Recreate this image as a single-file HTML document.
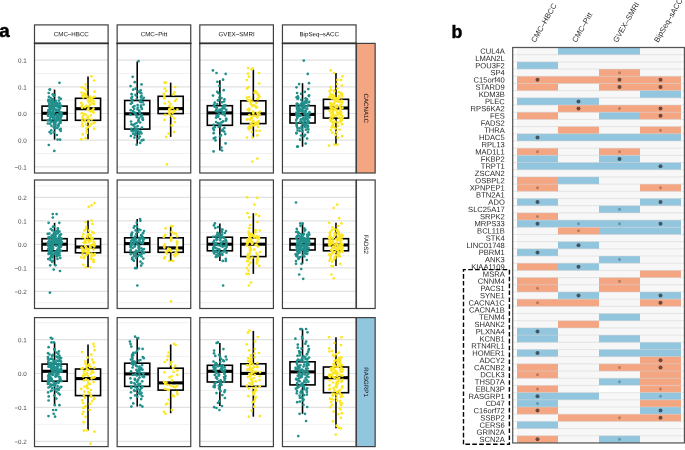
<!DOCTYPE html>
<html><head><meta charset="utf-8"><title>figure</title>
<style>
html,body{margin:0;padding:0;background:#fff;}
body{width:685px;height:450px;overflow:hidden;font-family:"Liberation Sans", sans-serif;}
svg{display:block;font-family:"Liberation Sans", sans-serif;will-change:transform;}
</style></head><body>
<svg width="685" height="450" viewBox="0 0 685 450">
<rect width="685" height="450" fill="#fff"/>
<rect x="512.7" y="47.5" width="171.69999999999993" height="395.45000000000005" fill="#fff"/>
<rect x="517.0" y="47.5" width="164.0" height="395.45000000000005" fill="#F7F7F7"/>
<rect x="558.00" y="47.50" width="82.00" height="7.24" fill="#92C5DE"/>
<rect x="517.00" y="61.88" width="41.00" height="7.24" fill="#92C5DE"/>
<rect x="599.00" y="69.07" width="41.00" height="7.24" fill="#F4A582"/>
<rect x="517.00" y="76.26" width="164.00" height="7.24" fill="#F4A582"/>
<rect x="517.00" y="83.45" width="41.00" height="7.24" fill="#F4A582"/>
<rect x="599.00" y="83.45" width="82.00" height="7.24" fill="#F4A582"/>
<rect x="640.00" y="90.64" width="41.00" height="7.24" fill="#92C5DE"/>
<rect x="517.00" y="97.83" width="82.00" height="7.24" fill="#92C5DE"/>
<rect x="558.00" y="105.02" width="123.00" height="7.24" fill="#F4A582"/>
<rect x="517.00" y="112.21" width="41.00" height="7.24" fill="#F4A582"/>
<rect x="599.00" y="112.21" width="41.00" height="7.24" fill="#92C5DE"/>
<rect x="640.00" y="112.21" width="41.00" height="7.24" fill="#F4A582"/>
<rect x="558.00" y="126.59" width="41.00" height="7.24" fill="#F4A582"/>
<rect x="640.00" y="126.59" width="41.00" height="7.24" fill="#F4A582"/>
<rect x="517.00" y="133.78" width="164.00" height="7.24" fill="#92C5DE"/>
<rect x="517.00" y="148.16" width="41.00" height="7.24" fill="#F4A582"/>
<rect x="599.00" y="148.16" width="41.00" height="7.24" fill="#F4A582"/>
<rect x="517.00" y="155.35" width="41.00" height="7.24" fill="#92C5DE"/>
<rect x="599.00" y="155.35" width="41.00" height="7.24" fill="#92C5DE"/>
<rect x="517.00" y="162.54" width="164.00" height="7.24" fill="#92C5DE"/>
<rect x="517.00" y="176.92" width="41.00" height="7.24" fill="#F4A582"/>
<rect x="558.00" y="176.92" width="41.00" height="7.24" fill="#92C5DE"/>
<rect x="517.00" y="184.11" width="41.00" height="7.24" fill="#F4A582"/>
<rect x="640.00" y="184.11" width="41.00" height="7.24" fill="#F4A582"/>
<rect x="517.00" y="198.49" width="41.00" height="7.24" fill="#92C5DE"/>
<rect x="640.00" y="198.49" width="41.00" height="7.24" fill="#92C5DE"/>
<rect x="599.00" y="205.68" width="41.00" height="7.24" fill="#92C5DE"/>
<rect x="517.00" y="212.87" width="41.00" height="7.24" fill="#F4A582"/>
<rect x="517.00" y="220.06" width="164.00" height="7.24" fill="#92C5DE"/>
<rect x="558.00" y="227.25" width="41.00" height="7.24" fill="#F4A582"/>
<rect x="599.00" y="227.25" width="82.00" height="7.24" fill="#92C5DE"/>
<rect x="558.00" y="241.63" width="41.00" height="7.24" fill="#92C5DE"/>
<rect x="517.00" y="248.82" width="41.00" height="7.24" fill="#92C5DE"/>
<rect x="599.00" y="256.01" width="41.00" height="7.24" fill="#92C5DE"/>
<rect x="517.00" y="263.20" width="41.00" height="7.24" fill="#F4A582"/>
<rect x="558.00" y="263.20" width="41.00" height="7.24" fill="#92C5DE"/>
<rect x="640.00" y="270.39" width="41.00" height="7.24" fill="#F4A582"/>
<rect x="517.00" y="277.58" width="41.00" height="7.24" fill="#F4A582"/>
<rect x="599.00" y="277.58" width="41.00" height="7.24" fill="#F4A582"/>
<rect x="517.00" y="284.77" width="41.00" height="7.24" fill="#F4A582"/>
<rect x="599.00" y="284.77" width="41.00" height="7.24" fill="#F4A582"/>
<rect x="558.00" y="291.96" width="41.00" height="7.24" fill="#92C5DE"/>
<rect x="640.00" y="291.96" width="41.00" height="7.24" fill="#92C5DE"/>
<rect x="517.00" y="299.15" width="82.00" height="7.24" fill="#F4A582"/>
<rect x="640.00" y="299.15" width="41.00" height="7.24" fill="#F4A582"/>
<rect x="599.00" y="313.53" width="41.00" height="7.24" fill="#92C5DE"/>
<rect x="558.00" y="320.72" width="41.00" height="7.24" fill="#F4A582"/>
<rect x="517.00" y="327.91" width="41.00" height="7.24" fill="#92C5DE"/>
<rect x="517.00" y="335.10" width="41.00" height="7.24" fill="#92C5DE"/>
<rect x="599.00" y="335.10" width="41.00" height="7.24" fill="#92C5DE"/>
<rect x="640.00" y="342.29" width="41.00" height="7.24" fill="#92C5DE"/>
<rect x="517.00" y="349.48" width="41.00" height="7.24" fill="#92C5DE"/>
<rect x="599.00" y="349.48" width="82.00" height="7.24" fill="#92C5DE"/>
<rect x="640.00" y="356.67" width="41.00" height="7.24" fill="#F4A582"/>
<rect x="517.00" y="363.86" width="41.00" height="7.24" fill="#F4A582"/>
<rect x="599.00" y="363.86" width="82.00" height="7.24" fill="#F4A582"/>
<rect x="517.00" y="371.05" width="41.00" height="7.24" fill="#F4A582"/>
<rect x="640.00" y="371.05" width="41.00" height="7.24" fill="#F4A582"/>
<rect x="599.00" y="378.24" width="41.00" height="7.24" fill="#92C5DE"/>
<rect x="640.00" y="378.24" width="41.00" height="7.24" fill="#F4A582"/>
<rect x="517.00" y="385.43" width="41.00" height="7.24" fill="#F4A582"/>
<rect x="599.00" y="385.43" width="41.00" height="7.24" fill="#FFFFFF"/>
<rect x="640.00" y="385.43" width="41.00" height="7.24" fill="#F4A582"/>
<rect x="517.00" y="392.62" width="82.00" height="7.24" fill="#92C5DE"/>
<rect x="640.00" y="392.62" width="41.00" height="7.24" fill="#92C5DE"/>
<rect x="517.00" y="399.81" width="41.00" height="7.24" fill="#92C5DE"/>
<rect x="640.00" y="399.81" width="41.00" height="7.24" fill="#F4A582"/>
<rect x="517.00" y="407.00" width="41.00" height="7.24" fill="#F4A582"/>
<rect x="640.00" y="407.00" width="41.00" height="7.24" fill="#92C5DE"/>
<rect x="558.00" y="414.19" width="123.00" height="7.24" fill="#F4A582"/>
<rect x="517.00" y="421.38" width="41.00" height="7.24" fill="#92C5DE"/>
<rect x="517.00" y="435.76" width="41.00" height="7.24" fill="#F4A582"/>
<rect x="599.00" y="435.76" width="41.00" height="7.24" fill="#92C5DE"/>
<line x1="512.7" x2="684.4" y1="54.69" y2="54.69" stroke="#d0d0d0" stroke-width="0.5"/>
<line x1="512.7" x2="684.4" y1="61.88" y2="61.88" stroke="#d0d0d0" stroke-width="0.5"/>
<line x1="512.7" x2="684.4" y1="69.07" y2="69.07" stroke="#d0d0d0" stroke-width="0.5"/>
<line x1="512.7" x2="684.4" y1="76.26" y2="76.26" stroke="#d0d0d0" stroke-width="0.5"/>
<line x1="512.7" x2="684.4" y1="83.45" y2="83.45" stroke="#d0d0d0" stroke-width="0.5"/>
<line x1="512.7" x2="684.4" y1="90.64" y2="90.64" stroke="#d0d0d0" stroke-width="0.5"/>
<line x1="512.7" x2="684.4" y1="97.83" y2="97.83" stroke="#d0d0d0" stroke-width="0.5"/>
<line x1="512.7" x2="684.4" y1="105.02" y2="105.02" stroke="#d0d0d0" stroke-width="0.5"/>
<line x1="512.7" x2="684.4" y1="112.21" y2="112.21" stroke="#d0d0d0" stroke-width="0.5"/>
<line x1="512.7" x2="684.4" y1="119.40" y2="119.40" stroke="#d0d0d0" stroke-width="0.5"/>
<line x1="512.7" x2="684.4" y1="126.59" y2="126.59" stroke="#d0d0d0" stroke-width="0.5"/>
<line x1="512.7" x2="684.4" y1="133.78" y2="133.78" stroke="#d0d0d0" stroke-width="0.5"/>
<line x1="512.7" x2="684.4" y1="140.97" y2="140.97" stroke="#d0d0d0" stroke-width="0.5"/>
<line x1="512.7" x2="684.4" y1="148.16" y2="148.16" stroke="#d0d0d0" stroke-width="0.5"/>
<line x1="512.7" x2="684.4" y1="155.35" y2="155.35" stroke="#d0d0d0" stroke-width="0.5"/>
<line x1="512.7" x2="684.4" y1="162.54" y2="162.54" stroke="#d0d0d0" stroke-width="0.5"/>
<line x1="512.7" x2="684.4" y1="169.73" y2="169.73" stroke="#d0d0d0" stroke-width="0.5"/>
<line x1="512.7" x2="684.4" y1="176.92" y2="176.92" stroke="#d0d0d0" stroke-width="0.5"/>
<line x1="512.7" x2="684.4" y1="184.11" y2="184.11" stroke="#d0d0d0" stroke-width="0.5"/>
<line x1="512.7" x2="684.4" y1="191.30" y2="191.30" stroke="#d0d0d0" stroke-width="0.5"/>
<line x1="512.7" x2="684.4" y1="198.49" y2="198.49" stroke="#d0d0d0" stroke-width="0.5"/>
<line x1="512.7" x2="684.4" y1="205.68" y2="205.68" stroke="#d0d0d0" stroke-width="0.5"/>
<line x1="512.7" x2="684.4" y1="212.87" y2="212.87" stroke="#d0d0d0" stroke-width="0.5"/>
<line x1="512.7" x2="684.4" y1="220.06" y2="220.06" stroke="#d0d0d0" stroke-width="0.5"/>
<line x1="512.7" x2="684.4" y1="227.25" y2="227.25" stroke="#d0d0d0" stroke-width="0.5"/>
<line x1="512.7" x2="684.4" y1="234.44" y2="234.44" stroke="#d0d0d0" stroke-width="0.5"/>
<line x1="512.7" x2="684.4" y1="241.63" y2="241.63" stroke="#d0d0d0" stroke-width="0.5"/>
<line x1="512.7" x2="684.4" y1="248.82" y2="248.82" stroke="#d0d0d0" stroke-width="0.5"/>
<line x1="512.7" x2="684.4" y1="256.01" y2="256.01" stroke="#d0d0d0" stroke-width="0.5"/>
<line x1="512.7" x2="684.4" y1="263.20" y2="263.20" stroke="#d0d0d0" stroke-width="0.5"/>
<line x1="512.7" x2="684.4" y1="270.39" y2="270.39" stroke="#d0d0d0" stroke-width="0.5"/>
<line x1="512.7" x2="684.4" y1="277.58" y2="277.58" stroke="#d0d0d0" stroke-width="0.5"/>
<line x1="512.7" x2="684.4" y1="284.77" y2="284.77" stroke="#d0d0d0" stroke-width="0.5"/>
<line x1="512.7" x2="684.4" y1="291.96" y2="291.96" stroke="#d0d0d0" stroke-width="0.5"/>
<line x1="512.7" x2="684.4" y1="299.15" y2="299.15" stroke="#d0d0d0" stroke-width="0.5"/>
<line x1="512.7" x2="684.4" y1="306.34" y2="306.34" stroke="#d0d0d0" stroke-width="0.5"/>
<line x1="512.7" x2="684.4" y1="313.53" y2="313.53" stroke="#d0d0d0" stroke-width="0.5"/>
<line x1="512.7" x2="684.4" y1="320.72" y2="320.72" stroke="#d0d0d0" stroke-width="0.5"/>
<line x1="512.7" x2="684.4" y1="327.91" y2="327.91" stroke="#d0d0d0" stroke-width="0.5"/>
<line x1="512.7" x2="684.4" y1="335.10" y2="335.10" stroke="#d0d0d0" stroke-width="0.5"/>
<line x1="512.7" x2="684.4" y1="342.29" y2="342.29" stroke="#d0d0d0" stroke-width="0.5"/>
<line x1="512.7" x2="684.4" y1="349.48" y2="349.48" stroke="#d0d0d0" stroke-width="0.5"/>
<line x1="512.7" x2="684.4" y1="356.67" y2="356.67" stroke="#d0d0d0" stroke-width="0.5"/>
<line x1="512.7" x2="684.4" y1="363.86" y2="363.86" stroke="#d0d0d0" stroke-width="0.5"/>
<line x1="512.7" x2="684.4" y1="371.05" y2="371.05" stroke="#d0d0d0" stroke-width="0.5"/>
<line x1="512.7" x2="684.4" y1="378.24" y2="378.24" stroke="#d0d0d0" stroke-width="0.5"/>
<line x1="512.7" x2="684.4" y1="385.43" y2="385.43" stroke="#d0d0d0" stroke-width="0.5"/>
<line x1="512.7" x2="684.4" y1="392.62" y2="392.62" stroke="#d0d0d0" stroke-width="0.5"/>
<line x1="512.7" x2="684.4" y1="399.81" y2="399.81" stroke="#d0d0d0" stroke-width="0.5"/>
<line x1="512.7" x2="684.4" y1="407.00" y2="407.00" stroke="#d0d0d0" stroke-width="0.5"/>
<line x1="512.7" x2="684.4" y1="414.19" y2="414.19" stroke="#d0d0d0" stroke-width="0.5"/>
<line x1="512.7" x2="684.4" y1="421.38" y2="421.38" stroke="#d0d0d0" stroke-width="0.5"/>
<line x1="512.7" x2="684.4" y1="428.57" y2="428.57" stroke="#d0d0d0" stroke-width="0.5"/>
<line x1="512.7" x2="684.4" y1="435.76" y2="435.76" stroke="#d0d0d0" stroke-width="0.5"/>
<circle cx="619.50" cy="72.67" r="1.5" fill="#000" fill-opacity="0.25"/>
<circle cx="537.50" cy="79.86" r="2.0" fill="#000" fill-opacity="0.56"/>
<circle cx="619.50" cy="79.86" r="2.0" fill="#000" fill-opacity="0.56"/>
<circle cx="660.50" cy="79.86" r="2.0" fill="#000" fill-opacity="0.56"/>
<circle cx="619.50" cy="87.05" r="2.0" fill="#000" fill-opacity="0.56"/>
<circle cx="660.50" cy="87.05" r="2.0" fill="#000" fill-opacity="0.56"/>
<circle cx="578.50" cy="101.43" r="2.0" fill="#000" fill-opacity="0.56"/>
<circle cx="578.50" cy="108.62" r="2.0" fill="#000" fill-opacity="0.56"/>
<circle cx="619.50" cy="108.62" r="1.5" fill="#000" fill-opacity="0.25"/>
<circle cx="660.50" cy="108.62" r="2.0" fill="#000" fill-opacity="0.56"/>
<circle cx="660.50" cy="115.81" r="2.0" fill="#000" fill-opacity="0.56"/>
<circle cx="660.50" cy="130.19" r="1.5" fill="#000" fill-opacity="0.25"/>
<circle cx="537.50" cy="137.38" r="2.0" fill="#000" fill-opacity="0.56"/>
<circle cx="537.50" cy="151.75" r="1.5" fill="#000" fill-opacity="0.25"/>
<circle cx="619.50" cy="151.75" r="1.5" fill="#000" fill-opacity="0.25"/>
<circle cx="619.50" cy="158.94" r="2.0" fill="#000" fill-opacity="0.56"/>
<circle cx="660.50" cy="166.13" r="2.0" fill="#000" fill-opacity="0.56"/>
<circle cx="537.50" cy="187.71" r="1.5" fill="#000" fill-opacity="0.25"/>
<circle cx="660.50" cy="187.71" r="1.5" fill="#000" fill-opacity="0.25"/>
<circle cx="537.50" cy="202.09" r="2.0" fill="#000" fill-opacity="0.56"/>
<circle cx="660.50" cy="202.09" r="2.0" fill="#000" fill-opacity="0.56"/>
<circle cx="619.50" cy="209.28" r="1.5" fill="#000" fill-opacity="0.25"/>
<circle cx="537.50" cy="216.47" r="1.5" fill="#000" fill-opacity="0.25"/>
<circle cx="537.50" cy="223.66" r="2.0" fill="#000" fill-opacity="0.56"/>
<circle cx="578.50" cy="223.66" r="1.5" fill="#000" fill-opacity="0.25"/>
<circle cx="619.50" cy="223.66" r="1.5" fill="#000" fill-opacity="0.25"/>
<circle cx="660.50" cy="223.66" r="2.0" fill="#000" fill-opacity="0.56"/>
<circle cx="578.50" cy="230.84" r="1.5" fill="#000" fill-opacity="0.25"/>
<circle cx="578.50" cy="245.23" r="2.0" fill="#000" fill-opacity="0.56"/>
<circle cx="537.50" cy="252.42" r="2.0" fill="#000" fill-opacity="0.56"/>
<circle cx="619.50" cy="259.61" r="1.5" fill="#000" fill-opacity="0.25"/>
<circle cx="578.50" cy="266.80" r="2.0" fill="#000" fill-opacity="0.56"/>
<circle cx="619.50" cy="281.18" r="1.5" fill="#000" fill-opacity="0.25"/>
<circle cx="537.50" cy="288.37" r="1.5" fill="#000" fill-opacity="0.25"/>
<circle cx="578.50" cy="295.56" r="2.0" fill="#000" fill-opacity="0.56"/>
<circle cx="660.50" cy="295.56" r="2.0" fill="#000" fill-opacity="0.56"/>
<circle cx="537.50" cy="302.75" r="1.5" fill="#000" fill-opacity="0.25"/>
<circle cx="660.50" cy="302.75" r="2.0" fill="#000" fill-opacity="0.56"/>
<circle cx="537.50" cy="331.50" r="2.0" fill="#000" fill-opacity="0.56"/>
<circle cx="537.50" cy="353.07" r="2.0" fill="#000" fill-opacity="0.56"/>
<circle cx="660.50" cy="360.27" r="2.0" fill="#000" fill-opacity="0.56"/>
<circle cx="619.50" cy="367.46" r="1.5" fill="#000" fill-opacity="0.25"/>
<circle cx="660.50" cy="367.46" r="2.0" fill="#000" fill-opacity="0.56"/>
<circle cx="537.50" cy="374.65" r="1.5" fill="#000" fill-opacity="0.25"/>
<circle cx="619.50" cy="381.84" r="1.5" fill="#000" fill-opacity="0.25"/>
<circle cx="537.50" cy="389.03" r="1.5" fill="#000" fill-opacity="0.25"/>
<circle cx="660.50" cy="389.03" r="1.5" fill="#000" fill-opacity="0.25"/>
<circle cx="537.50" cy="396.22" r="2.0" fill="#000" fill-opacity="0.56"/>
<circle cx="660.50" cy="396.22" r="1.5" fill="#000" fill-opacity="0.25"/>
<circle cx="537.50" cy="403.41" r="1.5" fill="#000" fill-opacity="0.25"/>
<circle cx="537.50" cy="410.60" r="2.0" fill="#000" fill-opacity="0.56"/>
<circle cx="660.50" cy="410.60" r="2.0" fill="#000" fill-opacity="0.56"/>
<circle cx="619.50" cy="417.79" r="1.5" fill="#000" fill-opacity="0.25"/>
<circle cx="660.50" cy="417.79" r="2.0" fill="#000" fill-opacity="0.56"/>
<circle cx="537.50" cy="439.36" r="2.0" fill="#000" fill-opacity="0.56"/>
<circle cx="619.50" cy="439.36" r="1.5" fill="#000" fill-opacity="0.25"/>
<rect x="512.7" y="47.5" width="171.69999999999993" height="395.45000000000005" fill="none" stroke="#555" stroke-width="1.25"/>
<text transform="translate(504.8,53.80) rotate(0.03)" font-size="7.6" text-anchor="end" fill="#2a2a2a">CUL4A</text>
<text transform="translate(504.8,60.98) rotate(0.03)" font-size="7.6" text-anchor="end" fill="#2a2a2a">LMAN2L</text>
<text transform="translate(504.8,68.17) rotate(0.03)" font-size="7.6" text-anchor="end" fill="#2a2a2a">POU3F2</text>
<text transform="translate(504.8,75.37) rotate(0.03)" font-size="7.6" text-anchor="end" fill="#2a2a2a">SP4</text>
<text transform="translate(504.8,82.56) rotate(0.03)" font-size="7.6" text-anchor="end" fill="#2a2a2a">C15orf40</text>
<text transform="translate(504.8,89.75) rotate(0.03)" font-size="7.6" text-anchor="end" fill="#2a2a2a">STARD9</text>
<text transform="translate(504.8,96.94) rotate(0.03)" font-size="7.6" text-anchor="end" fill="#2a2a2a">KDM3B</text>
<text transform="translate(504.8,104.13) rotate(0.03)" font-size="7.6" text-anchor="end" fill="#2a2a2a">PLEC</text>
<text transform="translate(504.8,111.32) rotate(0.03)" font-size="7.6" text-anchor="end" fill="#2a2a2a">RPS6KA2</text>
<text transform="translate(504.8,118.51) rotate(0.03)" font-size="7.6" text-anchor="end" fill="#2a2a2a">FES</text>
<text transform="translate(504.8,125.70) rotate(0.03)" font-size="7.6" text-anchor="end" fill="#2a2a2a">FADS2</text>
<text transform="translate(504.8,132.88) rotate(0.03)" font-size="7.6" text-anchor="end" fill="#2a2a2a">THRA</text>
<text transform="translate(504.8,140.07) rotate(0.03)" font-size="7.6" text-anchor="end" fill="#2a2a2a">HDAC5</text>
<text transform="translate(504.8,147.26) rotate(0.03)" font-size="7.6" text-anchor="end" fill="#2a2a2a">RPL13</text>
<text transform="translate(504.8,154.45) rotate(0.03)" font-size="7.6" text-anchor="end" fill="#2a2a2a">MAD1L1</text>
<text transform="translate(504.8,161.64) rotate(0.03)" font-size="7.6" text-anchor="end" fill="#2a2a2a">FKBP2</text>
<text transform="translate(504.8,168.83) rotate(0.03)" font-size="7.6" text-anchor="end" fill="#2a2a2a">TRPT1</text>
<text transform="translate(504.8,176.02) rotate(0.03)" font-size="7.6" text-anchor="end" fill="#2a2a2a">ZSCAN2</text>
<text transform="translate(504.8,183.22) rotate(0.03)" font-size="7.6" text-anchor="end" fill="#2a2a2a">OSBPL2</text>
<text transform="translate(504.8,190.41) rotate(0.03)" font-size="7.6" text-anchor="end" fill="#2a2a2a">XPNPEP1</text>
<text transform="translate(504.8,197.59) rotate(0.03)" font-size="7.6" text-anchor="end" fill="#2a2a2a">BTN2A1</text>
<text transform="translate(504.8,204.78) rotate(0.03)" font-size="7.6" text-anchor="end" fill="#2a2a2a">ADO</text>
<text transform="translate(504.8,211.97) rotate(0.03)" font-size="7.6" text-anchor="end" fill="#2a2a2a">SLC25A17</text>
<text transform="translate(504.8,219.16) rotate(0.03)" font-size="7.6" text-anchor="end" fill="#2a2a2a">SRPK2</text>
<text transform="translate(504.8,226.35) rotate(0.03)" font-size="7.6" text-anchor="end" fill="#2a2a2a">MRPS33</text>
<text transform="translate(504.8,233.54) rotate(0.03)" font-size="7.6" text-anchor="end" fill="#2a2a2a">BCL11B</text>
<text transform="translate(504.8,240.73) rotate(0.03)" font-size="7.6" text-anchor="end" fill="#2a2a2a">STK4</text>
<text transform="translate(504.8,247.93) rotate(0.03)" font-size="7.6" text-anchor="end" fill="#2a2a2a">LINC01748</text>
<text transform="translate(504.8,255.12) rotate(0.03)" font-size="7.6" text-anchor="end" fill="#2a2a2a">PBRM1</text>
<text transform="translate(504.8,262.31) rotate(0.03)" font-size="7.6" text-anchor="end" fill="#2a2a2a">ANK3</text>
<text transform="translate(504.8,269.50) rotate(0.03)" font-size="7.6" text-anchor="end" fill="#2a2a2a">KIAA1109</text>
<text transform="translate(504.8,276.69) rotate(0.03)" font-size="7.6" text-anchor="end" fill="#2a2a2a">MSRA</text>
<text transform="translate(504.8,283.88) rotate(0.03)" font-size="7.6" text-anchor="end" fill="#2a2a2a">CNNM4</text>
<text transform="translate(504.8,291.06) rotate(0.03)" font-size="7.6" text-anchor="end" fill="#2a2a2a">PACS1</text>
<text transform="translate(504.8,298.25) rotate(0.03)" font-size="7.6" text-anchor="end" fill="#2a2a2a">SYNE1</text>
<text transform="translate(504.8,305.44) rotate(0.03)" font-size="7.6" text-anchor="end" fill="#2a2a2a">CACNA1C</text>
<text transform="translate(504.8,312.63) rotate(0.03)" font-size="7.6" text-anchor="end" fill="#2a2a2a">CACNA1B</text>
<text transform="translate(504.8,319.82) rotate(0.03)" font-size="7.6" text-anchor="end" fill="#2a2a2a">TENM4</text>
<text transform="translate(504.8,327.01) rotate(0.03)" font-size="7.6" text-anchor="end" fill="#2a2a2a">SHANK2</text>
<text transform="translate(504.8,334.20) rotate(0.03)" font-size="7.6" text-anchor="end" fill="#2a2a2a">PLXNA4</text>
<text transform="translate(504.8,341.39) rotate(0.03)" font-size="7.6" text-anchor="end" fill="#2a2a2a">KCNB1</text>
<text transform="translate(504.8,348.58) rotate(0.03)" font-size="7.6" text-anchor="end" fill="#2a2a2a">RTN4RL1</text>
<text transform="translate(504.8,355.77) rotate(0.03)" font-size="7.6" text-anchor="end" fill="#2a2a2a">HOMER1</text>
<text transform="translate(504.8,362.97) rotate(0.03)" font-size="7.6" text-anchor="end" fill="#2a2a2a">ADCY2</text>
<text transform="translate(504.8,370.16) rotate(0.03)" font-size="7.6" text-anchor="end" fill="#2a2a2a">CACNB2</text>
<text transform="translate(504.8,377.35) rotate(0.03)" font-size="7.6" text-anchor="end" fill="#2a2a2a">DCLK3</text>
<text transform="translate(504.8,384.54) rotate(0.03)" font-size="7.6" text-anchor="end" fill="#2a2a2a">THSD7A</text>
<text transform="translate(504.8,391.73) rotate(0.03)" font-size="7.6" text-anchor="end" fill="#2a2a2a">EBLN3P</text>
<text transform="translate(504.8,398.92) rotate(0.03)" font-size="7.6" text-anchor="end" fill="#2a2a2a">RASGRP1</text>
<text transform="translate(504.8,406.11) rotate(0.03)" font-size="7.6" text-anchor="end" fill="#2a2a2a">CD47</text>
<text transform="translate(504.8,413.30) rotate(0.03)" font-size="7.6" text-anchor="end" fill="#2a2a2a">C16orf72</text>
<text transform="translate(504.8,420.49) rotate(0.03)" font-size="7.6" text-anchor="end" fill="#2a2a2a">SSBP2</text>
<text transform="translate(504.8,427.68) rotate(0.03)" font-size="7.6" text-anchor="end" fill="#2a2a2a">CERS6</text>
<text transform="translate(504.8,434.87) rotate(0.03)" font-size="7.6" text-anchor="end" fill="#2a2a2a">GRIN2A</text>
<text transform="translate(504.8,442.06) rotate(0.03)" font-size="7.6" text-anchor="end" fill="#2a2a2a">SCN2A</text>
<text transform="translate(535.20,43.0) rotate(-60)" font-size="7.7" fill="#2a2a2a">CMC–HBCC</text>
<text transform="translate(576.20,43.0) rotate(-60)" font-size="7.7" fill="#2a2a2a">CMC–Pitt</text>
<text transform="translate(617.20,43.0) rotate(-60)" font-size="7.7" fill="#2a2a2a">GVEX–SMRI</text>
<text transform="translate(658.20,43.0) rotate(-60)" font-size="7.7" fill="#2a2a2a">BipSeq–sACC</text>
<path d="M463.5,444.3 L463.5,269.6 L509.4,269.6 L509.4,444.3 Z" fill="none" stroke="#000" stroke-width="1.4" stroke-dasharray="4.6,2.3"/>
<text transform="translate(451.5,38) scale(0.935,1)" font-size="19" font-weight="bold" fill="#000" stroke="#000" stroke-width="0.45">b</text>
<text x="-0.7" y="37.45" font-size="18.8" font-weight="bold" fill="#000" stroke="#000" stroke-width="0.45">a</text>
<rect x="34.50" y="43.40" width="73.60" height="129.60" fill="#fff"/>
<line x1="34.50" x2="108.10" y1="46.88" y2="46.88" stroke="#ebebeb" stroke-width="0.7"/>
<line x1="34.50" x2="108.10" y1="73.53" y2="73.53" stroke="#ebebeb" stroke-width="0.7"/>
<line x1="34.50" x2="108.10" y1="100.17" y2="100.17" stroke="#ebebeb" stroke-width="0.7"/>
<line x1="34.50" x2="108.10" y1="126.82" y2="126.82" stroke="#ebebeb" stroke-width="0.7"/>
<line x1="34.50" x2="108.10" y1="153.47" y2="153.47" stroke="#ebebeb" stroke-width="0.7"/>
<line x1="34.50" x2="108.10" y1="60.20" y2="60.20" stroke="#e1e1e1" stroke-width="1.2"/>
<line x1="34.50" x2="108.10" y1="86.85" y2="86.85" stroke="#e1e1e1" stroke-width="1.2"/>
<line x1="34.50" x2="108.10" y1="113.50" y2="113.50" stroke="#e1e1e1" stroke-width="1.2"/>
<line x1="34.50" x2="108.10" y1="140.15" y2="140.15" stroke="#e1e1e1" stroke-width="1.2"/>
<line x1="34.50" x2="108.10" y1="166.80" y2="166.80" stroke="#e1e1e1" stroke-width="1.2"/>
<line x1="54.57" x2="54.57" y1="89.60" y2="106.10" stroke="#000" stroke-width="1.6"/>
<line x1="54.57" x2="54.57" y1="120.30" y2="139.60" stroke="#000" stroke-width="1.6"/>
<rect x="42.03" y="106.10" width="25.09" height="14.20" fill="#fff" stroke="#000" stroke-width="1.6"/>
<line x1="42.03" x2="67.12" y1="113.30" y2="113.30" stroke="#000" stroke-width="3.1"/>
<line x1="88.03" x2="88.03" y1="76.50" y2="98.30" stroke="#000" stroke-width="1.6"/>
<line x1="88.03" x2="88.03" y1="120.30" y2="139.30" stroke="#000" stroke-width="1.6"/>
<rect x="75.48" y="98.30" width="25.09" height="22.00" fill="#fff" stroke="#000" stroke-width="1.6"/>
<line x1="75.48" x2="100.57" y1="108.70" y2="108.70" stroke="#000" stroke-width="3.1"/>
<circle cx="61.4" cy="112.7" r="1.35" fill="#21908C"/>
<circle cx="49.3" cy="103.9" r="1.35" fill="#21908C"/>
<circle cx="51.3" cy="109.2" r="1.35" fill="#21908C"/>
<circle cx="48.0" cy="113.9" r="1.35" fill="#21908C"/>
<circle cx="48.6" cy="111.0" r="1.35" fill="#21908C"/>
<circle cx="59.8" cy="129.6" r="1.35" fill="#21908C"/>
<circle cx="56.9" cy="135.0" r="1.35" fill="#21908C"/>
<circle cx="50.2" cy="123.7" r="1.35" fill="#21908C"/>
<circle cx="49.8" cy="108.7" r="1.35" fill="#21908C"/>
<circle cx="59.5" cy="82.8" r="1.35" fill="#21908C"/>
<circle cx="54.0" cy="106.4" r="1.35" fill="#21908C"/>
<circle cx="48.8" cy="145.0" r="1.35" fill="#21908C"/>
<circle cx="57.3" cy="103.0" r="1.35" fill="#21908C"/>
<circle cx="49.8" cy="89.6" r="1.35" fill="#21908C"/>
<circle cx="47.9" cy="123.5" r="1.35" fill="#21908C"/>
<circle cx="60.1" cy="139.6" r="1.35" fill="#21908C"/>
<circle cx="52.7" cy="116.8" r="1.35" fill="#21908C"/>
<circle cx="51.5" cy="115.9" r="1.35" fill="#21908C"/>
<circle cx="60.2" cy="122.7" r="1.35" fill="#21908C"/>
<circle cx="58.7" cy="123.9" r="1.35" fill="#21908C"/>
<circle cx="50.8" cy="116.9" r="1.35" fill="#21908C"/>
<circle cx="50.8" cy="114.9" r="1.35" fill="#21908C"/>
<circle cx="58.2" cy="126.6" r="1.35" fill="#21908C"/>
<circle cx="57.2" cy="109.8" r="1.35" fill="#21908C"/>
<circle cx="59.6" cy="108.1" r="1.35" fill="#21908C"/>
<circle cx="57.9" cy="115.5" r="1.35" fill="#21908C"/>
<circle cx="53.9" cy="107.5" r="1.35" fill="#21908C"/>
<circle cx="56.9" cy="106.3" r="1.35" fill="#21908C"/>
<circle cx="54.3" cy="112.8" r="1.35" fill="#21908C"/>
<circle cx="58.1" cy="104.0" r="1.35" fill="#21908C"/>
<circle cx="53.4" cy="108.2" r="1.35" fill="#21908C"/>
<circle cx="55.9" cy="105.1" r="1.35" fill="#21908C"/>
<circle cx="54.4" cy="104.2" r="1.35" fill="#21908C"/>
<circle cx="59.1" cy="97.6" r="1.35" fill="#21908C"/>
<circle cx="51.0" cy="133.5" r="1.35" fill="#21908C"/>
<circle cx="60.8" cy="113.5" r="1.35" fill="#21908C"/>
<circle cx="55.0" cy="123.2" r="1.35" fill="#21908C"/>
<circle cx="60.7" cy="130.9" r="1.35" fill="#21908C"/>
<circle cx="53.2" cy="110.7" r="1.35" fill="#21908C"/>
<circle cx="53.8" cy="116.5" r="1.35" fill="#21908C"/>
<circle cx="53.8" cy="127.2" r="1.35" fill="#21908C"/>
<circle cx="59.9" cy="107.8" r="1.35" fill="#21908C"/>
<circle cx="49.8" cy="89.6" r="1.35" fill="#21908C"/>
<circle cx="61.3" cy="115.2" r="1.35" fill="#21908C"/>
<circle cx="52.5" cy="112.3" r="1.35" fill="#21908C"/>
<circle cx="51.3" cy="113.2" r="1.35" fill="#21908C"/>
<circle cx="55.6" cy="103.1" r="1.35" fill="#21908C"/>
<circle cx="50.5" cy="101.8" r="1.35" fill="#21908C"/>
<circle cx="56.4" cy="110.8" r="1.35" fill="#21908C"/>
<circle cx="60.1" cy="117.3" r="1.35" fill="#21908C"/>
<circle cx="54.0" cy="105.2" r="1.35" fill="#21908C"/>
<circle cx="53.8" cy="132.3" r="1.35" fill="#21908C"/>
<circle cx="53.6" cy="102.2" r="1.35" fill="#21908C"/>
<circle cx="60.6" cy="120.9" r="1.35" fill="#21908C"/>
<circle cx="59.9" cy="108.4" r="1.35" fill="#21908C"/>
<circle cx="54.6" cy="127.5" r="1.35" fill="#21908C"/>
<circle cx="49.9" cy="113.4" r="1.35" fill="#21908C"/>
<circle cx="49.3" cy="106.7" r="1.35" fill="#21908C"/>
<circle cx="51.7" cy="121.5" r="1.35" fill="#21908C"/>
<circle cx="58.7" cy="110.6" r="1.35" fill="#21908C"/>
<circle cx="49.3" cy="100.2" r="1.35" fill="#21908C"/>
<circle cx="58.4" cy="114.8" r="1.35" fill="#21908C"/>
<circle cx="54.7" cy="95.0" r="1.35" fill="#21908C"/>
<circle cx="57.3" cy="114.3" r="1.35" fill="#21908C"/>
<circle cx="51.8" cy="102.7" r="1.35" fill="#21908C"/>
<circle cx="53.5" cy="121.9" r="1.35" fill="#21908C"/>
<circle cx="52.0" cy="104.9" r="1.35" fill="#21908C"/>
<circle cx="59.7" cy="111.9" r="1.35" fill="#21908C"/>
<circle cx="56.7" cy="120.2" r="1.35" fill="#21908C"/>
<circle cx="60.7" cy="119.0" r="1.35" fill="#21908C"/>
<circle cx="55.0" cy="128.4" r="1.35" fill="#21908C"/>
<circle cx="53.5" cy="109.3" r="1.35" fill="#21908C"/>
<circle cx="49.4" cy="112.5" r="1.35" fill="#21908C"/>
<circle cx="59.7" cy="107.4" r="1.35" fill="#21908C"/>
<circle cx="48.7" cy="93.0" r="1.35" fill="#21908C"/>
<circle cx="58.4" cy="110.4" r="1.35" fill="#21908C"/>
<circle cx="52.8" cy="101.4" r="1.35" fill="#21908C"/>
<circle cx="58.3" cy="114.5" r="1.35" fill="#21908C"/>
<circle cx="60.2" cy="122.1" r="1.35" fill="#21908C"/>
<circle cx="56.9" cy="104.4" r="1.35" fill="#21908C"/>
<circle cx="49.7" cy="113.7" r="1.35" fill="#21908C"/>
<circle cx="56.6" cy="120.8" r="1.35" fill="#21908C"/>
<circle cx="54.3" cy="118.3" r="1.35" fill="#21908C"/>
<circle cx="55.4" cy="125.4" r="1.35" fill="#21908C"/>
<circle cx="54.7" cy="126.3" r="1.35" fill="#21908C"/>
<circle cx="52.7" cy="94.4" r="1.35" fill="#21908C"/>
<circle cx="49.8" cy="119.4" r="1.35" fill="#21908C"/>
<circle cx="53.1" cy="99.2" r="1.35" fill="#21908C"/>
<circle cx="53.1" cy="118.9" r="1.35" fill="#21908C"/>
<circle cx="58.8" cy="119.7" r="1.35" fill="#21908C"/>
<circle cx="54.8" cy="115.6" r="1.35" fill="#21908C"/>
<circle cx="50.8" cy="98.0" r="1.35" fill="#21908C"/>
<circle cx="57.6" cy="139.6" r="1.35" fill="#21908C"/>
<circle cx="51.7" cy="100.1" r="1.35" fill="#21908C"/>
<circle cx="51.3" cy="130.4" r="1.35" fill="#21908C"/>
<circle cx="48.1" cy="115.8" r="1.35" fill="#21908C"/>
<circle cx="49.9" cy="111.2" r="1.35" fill="#21908C"/>
<circle cx="49.1" cy="113.0" r="1.35" fill="#21908C"/>
<circle cx="54.0" cy="122.4" r="1.35" fill="#21908C"/>
<circle cx="49.7" cy="112.2" r="1.35" fill="#21908C"/>
<circle cx="55.8" cy="102.4" r="1.35" fill="#21908C"/>
<circle cx="54.4" cy="108.9" r="1.35" fill="#21908C"/>
<circle cx="47.9" cy="120.4" r="1.35" fill="#21908C"/>
<circle cx="60.7" cy="128.9" r="1.35" fill="#21908C"/>
<circle cx="55.5" cy="109.5" r="1.35" fill="#21908C"/>
<circle cx="58.7" cy="118.6" r="1.35" fill="#21908C"/>
<circle cx="48.5" cy="101.6" r="1.35" fill="#21908C"/>
<circle cx="50.5" cy="117.1" r="1.35" fill="#21908C"/>
<circle cx="59.7" cy="121.1" r="1.35" fill="#21908C"/>
<circle cx="51.5" cy="125.8" r="1.35" fill="#21908C"/>
<circle cx="58.7" cy="117.7" r="1.35" fill="#21908C"/>
<circle cx="48.9" cy="96.8" r="1.35" fill="#21908C"/>
<circle cx="56.8" cy="105.6" r="1.35" fill="#21908C"/>
<circle cx="60.7" cy="105.5" r="1.35" fill="#21908C"/>
<circle cx="48.3" cy="99.8" r="1.35" fill="#21908C"/>
<circle cx="58.9" cy="100.6" r="1.35" fill="#21908C"/>
<circle cx="54.2" cy="124.2" r="1.35" fill="#21908C"/>
<circle cx="55.6" cy="104.7" r="1.35" fill="#21908C"/>
<circle cx="56.8" cy="117.8" r="1.35" fill="#21908C"/>
<circle cx="55.4" cy="124.6" r="1.35" fill="#21908C"/>
<circle cx="55.7" cy="100.9" r="1.35" fill="#21908C"/>
<circle cx="60.8" cy="98.8" r="1.35" fill="#21908C"/>
<circle cx="49.8" cy="111.5" r="1.35" fill="#21908C"/>
<circle cx="51.6" cy="106.2" r="1.35" fill="#21908C"/>
<circle cx="61.2" cy="114.1" r="1.35" fill="#21908C"/>
<circle cx="52.7" cy="111.7" r="1.35" fill="#21908C"/>
<circle cx="51.1" cy="107.1" r="1.35" fill="#21908C"/>
<circle cx="54.3" cy="117.6" r="1.35" fill="#21908C"/>
<circle cx="58.5" cy="125.2" r="1.35" fill="#21908C"/>
<circle cx="55.2" cy="120.3" r="1.35" fill="#21908C"/>
<circle cx="50.6" cy="121.4" r="1.35" fill="#21908C"/>
<circle cx="57.2" cy="127.9" r="1.35" fill="#21908C"/>
<circle cx="53.7" cy="96.0" r="1.35" fill="#21908C"/>
<circle cx="54.3" cy="150.9" r="1.35" fill="#21908C"/>
<circle cx="59.7" cy="103.4" r="1.35" fill="#21908C"/>
<circle cx="52.7" cy="114.4" r="1.35" fill="#21908C"/>
<circle cx="57.2" cy="116.2" r="1.35" fill="#21908C"/>
<circle cx="50.9" cy="108.7" r="1.35" fill="#21908C"/>
<circle cx="50.0" cy="119.3" r="1.35" fill="#21908C"/>
<circle cx="58.8" cy="115.4" r="1.35" fill="#21908C"/>
<circle cx="58.6" cy="118.4" r="1.35" fill="#21908C"/>
<circle cx="54.8" cy="124.8" r="1.35" fill="#21908C"/>
<circle cx="59.1" cy="119.8" r="1.35" fill="#21908C"/>
<circle cx="49.6" cy="132.0" r="1.35" fill="#21908C"/>
<circle cx="48.4" cy="110.2" r="1.35" fill="#21908C"/>
<circle cx="58.3" cy="106.9" r="1.35" fill="#21908C"/>
<circle cx="60.3" cy="122.9" r="1.35" fill="#21908C"/>
<circle cx="58.5" cy="118.1" r="1.35" fill="#21908C"/>
<circle cx="51.6" cy="103.7" r="1.35" fill="#21908C"/>
<circle cx="56.2" cy="109.9" r="1.35" fill="#21908C"/>
<circle cx="55.8" cy="121.7" r="1.35" fill="#21908C"/>
<circle cx="57.4" cy="105.7" r="1.35" fill="#21908C"/>
<circle cx="48.4" cy="111.4" r="1.35" fill="#21908C"/>
<circle cx="61.4" cy="106.0" r="1.35" fill="#21908C"/>
<circle cx="61.3" cy="116.6" r="1.35" fill="#21908C"/>
<circle cx="86.6" cy="96.3" r="1.35" fill="#FDE725"/>
<circle cx="90.7" cy="115.4" r="1.35" fill="#FDE725"/>
<circle cx="81.8" cy="87.3" r="1.35" fill="#FDE725"/>
<circle cx="81.6" cy="92.5" r="1.35" fill="#FDE725"/>
<circle cx="89.8" cy="125.7" r="1.35" fill="#FDE725"/>
<circle cx="91.7" cy="98.0" r="1.35" fill="#FDE725"/>
<circle cx="82.2" cy="123.8" r="1.35" fill="#FDE725"/>
<circle cx="86.3" cy="105.9" r="1.35" fill="#FDE725"/>
<circle cx="92.5" cy="99.4" r="1.35" fill="#FDE725"/>
<circle cx="90.8" cy="100.9" r="1.35" fill="#FDE725"/>
<circle cx="91.4" cy="123.9" r="1.35" fill="#FDE725"/>
<circle cx="86.7" cy="131.0" r="1.35" fill="#FDE725"/>
<circle cx="83.3" cy="97.5" r="1.35" fill="#FDE725"/>
<circle cx="91.6" cy="76.3" r="1.35" fill="#FDE725"/>
<circle cx="86.2" cy="90.1" r="1.35" fill="#FDE725"/>
<circle cx="82.1" cy="107.8" r="1.35" fill="#FDE725"/>
<circle cx="93.7" cy="101.6" r="1.35" fill="#FDE725"/>
<circle cx="81.8" cy="106.2" r="1.35" fill="#FDE725"/>
<circle cx="91.6" cy="110.7" r="1.35" fill="#FDE725"/>
<circle cx="85.0" cy="94.3" r="1.35" fill="#FDE725"/>
<circle cx="82.8" cy="134.4" r="1.35" fill="#FDE725"/>
<circle cx="85.7" cy="114.7" r="1.35" fill="#FDE725"/>
<circle cx="85.6" cy="138.2" r="1.35" fill="#FDE725"/>
<circle cx="81.3" cy="102.9" r="1.35" fill="#FDE725"/>
<circle cx="82.5" cy="117.7" r="1.35" fill="#FDE725"/>
<circle cx="91.7" cy="119.5" r="1.35" fill="#FDE725"/>
<circle cx="94.1" cy="80.5" r="1.35" fill="#FDE725"/>
<circle cx="88.1" cy="121.6" r="1.35" fill="#FDE725"/>
<circle cx="93.5" cy="108.7" r="1.35" fill="#FDE725"/>
<circle cx="93.7" cy="112.5" r="1.35" fill="#FDE725"/>
<circle cx="94.2" cy="128.9" r="1.35" fill="#FDE725"/>
<circle cx="83.1" cy="96.0" r="1.35" fill="#FDE725"/>
<circle cx="87.7" cy="109.8" r="1.35" fill="#FDE725"/>
<circle cx="90.1" cy="111.3" r="1.35" fill="#FDE725"/>
<circle cx="88.5" cy="106.5" r="1.35" fill="#FDE725"/>
<circle cx="93.8" cy="122.9" r="1.35" fill="#FDE725"/>
<circle cx="85.8" cy="84.5" r="1.35" fill="#FDE725"/>
<circle cx="89.9" cy="104.8" r="1.35" fill="#FDE725"/>
<circle cx="94.3" cy="104.1" r="1.35" fill="#FDE725"/>
<circle cx="86.1" cy="124.7" r="1.35" fill="#FDE725"/>
<circle cx="84.1" cy="93.6" r="1.35" fill="#FDE725"/>
<circle cx="94.3" cy="96.9" r="1.35" fill="#FDE725"/>
<circle cx="83.9" cy="114.1" r="1.35" fill="#FDE725"/>
<circle cx="86.6" cy="128.6" r="1.35" fill="#FDE725"/>
<circle cx="92.1" cy="103.5" r="1.35" fill="#FDE725"/>
<circle cx="94.8" cy="122.6" r="1.35" fill="#FDE725"/>
<circle cx="84.8" cy="88.7" r="1.35" fill="#FDE725"/>
<circle cx="88.7" cy="120.5" r="1.35" fill="#FDE725"/>
<circle cx="89.0" cy="102.3" r="1.35" fill="#FDE725"/>
<circle cx="89.8" cy="96.6" r="1.35" fill="#FDE725"/>
<circle cx="88.2" cy="100.4" r="1.35" fill="#FDE725"/>
<circle cx="81.3" cy="139.3" r="1.35" fill="#FDE725"/>
<circle cx="82.3" cy="104.6" r="1.35" fill="#FDE725"/>
<circle cx="82.7" cy="126.2" r="1.35" fill="#FDE725"/>
<circle cx="91.9" cy="97.8" r="1.35" fill="#FDE725"/>
<circle cx="86.9" cy="132.8" r="1.35" fill="#FDE725"/>
<circle cx="92.8" cy="112.1" r="1.35" fill="#FDE725"/>
<circle cx="89.7" cy="98.8" r="1.35" fill="#FDE725"/>
<circle cx="81.8" cy="113.2" r="1.35" fill="#FDE725"/>
<circle cx="82.3" cy="120.7" r="1.35" fill="#FDE725"/>
<circle cx="94.7" cy="91.7" r="1.35" fill="#FDE725"/>
<circle cx="88.0" cy="127.1" r="1.35" fill="#FDE725"/>
<circle cx="87.9" cy="98.5" r="1.35" fill="#FDE725"/>
<circle cx="85.8" cy="93.8" r="1.35" fill="#FDE725"/>
<circle cx="88.4" cy="108.8" r="1.35" fill="#FDE725"/>
<circle cx="85.1" cy="121.3" r="1.35" fill="#FDE725"/>
<circle cx="83.0" cy="116.1" r="1.35" fill="#FDE725"/>
<circle cx="82.4" cy="95.6" r="1.35" fill="#FDE725"/>
<circle cx="87.9" cy="117.9" r="1.35" fill="#FDE725"/>
<circle cx="85.1" cy="119.0" r="1.35" fill="#FDE725"/>
<circle cx="84.6" cy="95.1" r="1.35" fill="#FDE725"/>
<circle cx="87.8" cy="116.7" r="1.35" fill="#FDE725"/>
<circle cx="84.8" cy="107.2" r="1.35" fill="#FDE725"/>
<circle cx="92.8" cy="110.4" r="1.35" fill="#FDE725"/>
<rect x="34.50" y="43.40" width="73.60" height="129.60" fill="none" stroke="#404040" stroke-width="1.2"/>
<rect x="117.15" y="43.40" width="73.60" height="129.60" fill="#fff"/>
<line x1="117.15" x2="190.75" y1="46.88" y2="46.88" stroke="#ebebeb" stroke-width="0.7"/>
<line x1="117.15" x2="190.75" y1="73.53" y2="73.53" stroke="#ebebeb" stroke-width="0.7"/>
<line x1="117.15" x2="190.75" y1="100.17" y2="100.17" stroke="#ebebeb" stroke-width="0.7"/>
<line x1="117.15" x2="190.75" y1="126.82" y2="126.82" stroke="#ebebeb" stroke-width="0.7"/>
<line x1="117.15" x2="190.75" y1="153.47" y2="153.47" stroke="#ebebeb" stroke-width="0.7"/>
<line x1="117.15" x2="190.75" y1="60.20" y2="60.20" stroke="#e1e1e1" stroke-width="1.2"/>
<line x1="117.15" x2="190.75" y1="86.85" y2="86.85" stroke="#e1e1e1" stroke-width="1.2"/>
<line x1="117.15" x2="190.75" y1="113.50" y2="113.50" stroke="#e1e1e1" stroke-width="1.2"/>
<line x1="117.15" x2="190.75" y1="140.15" y2="140.15" stroke="#e1e1e1" stroke-width="1.2"/>
<line x1="117.15" x2="190.75" y1="166.80" y2="166.80" stroke="#e1e1e1" stroke-width="1.2"/>
<line x1="137.22" x2="137.22" y1="61.50" y2="100.50" stroke="#000" stroke-width="1.6"/>
<line x1="137.22" x2="137.22" y1="129.10" y2="144.70" stroke="#000" stroke-width="1.6"/>
<rect x="124.68" y="100.50" width="25.09" height="28.60" fill="#fff" stroke="#000" stroke-width="1.6"/>
<line x1="124.68" x2="149.77" y1="113.80" y2="113.80" stroke="#000" stroke-width="3.1"/>
<line x1="170.68" x2="170.68" y1="82.60" y2="96.30" stroke="#000" stroke-width="1.6"/>
<line x1="170.68" x2="170.68" y1="113.60" y2="136.90" stroke="#000" stroke-width="1.6"/>
<rect x="158.13" y="96.30" width="25.09" height="17.30" fill="#fff" stroke="#000" stroke-width="1.6"/>
<line x1="158.13" x2="183.22" y1="108.60" y2="108.60" stroke="#000" stroke-width="3.1"/>
<circle cx="142.0" cy="115.2" r="1.35" fill="#21908C"/>
<circle cx="139.0" cy="132.1" r="1.35" fill="#21908C"/>
<circle cx="131.5" cy="130.8" r="1.35" fill="#21908C"/>
<circle cx="132.4" cy="99.9" r="1.35" fill="#21908C"/>
<circle cx="134.2" cy="108.8" r="1.35" fill="#21908C"/>
<circle cx="134.9" cy="134.9" r="1.35" fill="#21908C"/>
<circle cx="130.6" cy="86.1" r="1.35" fill="#21908C"/>
<circle cx="133.0" cy="131.1" r="1.35" fill="#21908C"/>
<circle cx="133.0" cy="125.1" r="1.35" fill="#21908C"/>
<circle cx="132.7" cy="76.8" r="1.35" fill="#21908C"/>
<circle cx="139.9" cy="113.5" r="1.35" fill="#21908C"/>
<circle cx="138.5" cy="61.2" r="1.35" fill="#21908C"/>
<circle cx="139.8" cy="136.6" r="1.35" fill="#21908C"/>
<circle cx="134.6" cy="126.8" r="1.35" fill="#21908C"/>
<circle cx="131.8" cy="100.8" r="1.35" fill="#21908C"/>
<circle cx="142.7" cy="102.1" r="1.35" fill="#21908C"/>
<circle cx="137.6" cy="109.5" r="1.35" fill="#21908C"/>
<circle cx="141.2" cy="107.2" r="1.35" fill="#21908C"/>
<circle cx="130.8" cy="103.8" r="1.35" fill="#21908C"/>
<circle cx="137.2" cy="115.7" r="1.35" fill="#21908C"/>
<circle cx="136.7" cy="144.7" r="1.35" fill="#21908C"/>
<circle cx="141.5" cy="84.4" r="1.35" fill="#21908C"/>
<circle cx="140.5" cy="131.7" r="1.35" fill="#21908C"/>
<circle cx="140.2" cy="142.9" r="1.35" fill="#21908C"/>
<circle cx="138.1" cy="129.8" r="1.35" fill="#21908C"/>
<circle cx="141.2" cy="93.2" r="1.35" fill="#21908C"/>
<circle cx="134.7" cy="124.1" r="1.35" fill="#21908C"/>
<circle cx="142.7" cy="119.3" r="1.35" fill="#21908C"/>
<circle cx="133.0" cy="133.7" r="1.35" fill="#21908C"/>
<circle cx="138.5" cy="121.5" r="1.35" fill="#21908C"/>
<circle cx="136.5" cy="131.4" r="1.35" fill="#21908C"/>
<circle cx="142.6" cy="117.8" r="1.35" fill="#21908C"/>
<circle cx="136.3" cy="95.4" r="1.35" fill="#21908C"/>
<circle cx="133.5" cy="112.2" r="1.35" fill="#21908C"/>
<circle cx="136.5" cy="123.0" r="1.35" fill="#21908C"/>
<circle cx="134.4" cy="137.6" r="1.35" fill="#21908C"/>
<circle cx="130.9" cy="136.0" r="1.35" fill="#21908C"/>
<circle cx="141.9" cy="109.0" r="1.35" fill="#21908C"/>
<circle cx="131.3" cy="98.1" r="1.35" fill="#21908C"/>
<circle cx="135.5" cy="132.9" r="1.35" fill="#21908C"/>
<circle cx="143.1" cy="98.8" r="1.35" fill="#21908C"/>
<circle cx="138.2" cy="91.5" r="1.35" fill="#21908C"/>
<circle cx="137.7" cy="107.7" r="1.35" fill="#21908C"/>
<circle cx="140.9" cy="97.0" r="1.35" fill="#21908C"/>
<circle cx="135.4" cy="112.9" r="1.35" fill="#21908C"/>
<circle cx="138.7" cy="134.2" r="1.35" fill="#21908C"/>
<circle cx="137.6" cy="105.1" r="1.35" fill="#21908C"/>
<circle cx="138.5" cy="138.5" r="1.35" fill="#21908C"/>
<circle cx="136.1" cy="129.3" r="1.35" fill="#21908C"/>
<circle cx="132.1" cy="96.8" r="1.35" fill="#21908C"/>
<circle cx="135.6" cy="94.9" r="1.35" fill="#21908C"/>
<circle cx="143.6" cy="104.5" r="1.35" fill="#21908C"/>
<circle cx="135.3" cy="114.3" r="1.35" fill="#21908C"/>
<circle cx="135.6" cy="130.1" r="1.35" fill="#21908C"/>
<circle cx="132.1" cy="102.8" r="1.35" fill="#21908C"/>
<circle cx="136.4" cy="128.7" r="1.35" fill="#21908C"/>
<circle cx="141.6" cy="95.8" r="1.35" fill="#21908C"/>
<circle cx="133.2" cy="89.7" r="1.35" fill="#21908C"/>
<circle cx="139.3" cy="110.7" r="1.35" fill="#21908C"/>
<circle cx="143.4" cy="139.9" r="1.35" fill="#21908C"/>
<circle cx="131.4" cy="128.8" r="1.35" fill="#21908C"/>
<circle cx="140.7" cy="90.3" r="1.35" fill="#21908C"/>
<circle cx="131.1" cy="121.5" r="1.35" fill="#21908C"/>
<circle cx="142.9" cy="119.9" r="1.35" fill="#21908C"/>
<circle cx="134.6" cy="130.4" r="1.35" fill="#21908C"/>
<circle cx="141.4" cy="133.4" r="1.35" fill="#21908C"/>
<circle cx="131.4" cy="124.3" r="1.35" fill="#21908C"/>
<circle cx="135.6" cy="88.7" r="1.35" fill="#21908C"/>
<circle cx="139.8" cy="92.3" r="1.35" fill="#21908C"/>
<circle cx="138.9" cy="118.3" r="1.35" fill="#21908C"/>
<circle cx="134.5" cy="106.0" r="1.35" fill="#21908C"/>
<circle cx="141.1" cy="99.6" r="1.35" fill="#21908C"/>
<circle cx="136.7" cy="117.1" r="1.35" fill="#21908C"/>
<circle cx="141.0" cy="102.2" r="1.35" fill="#21908C"/>
<circle cx="141.9" cy="127.7" r="1.35" fill="#21908C"/>
<circle cx="131.6" cy="94.2" r="1.35" fill="#21908C"/>
<circle cx="130.4" cy="114.7" r="1.35" fill="#21908C"/>
<circle cx="140.1" cy="122.5" r="1.35" fill="#21908C"/>
<circle cx="133.0" cy="111.1" r="1.35" fill="#21908C"/>
<circle cx="139.3" cy="112.1" r="1.35" fill="#21908C"/>
<circle cx="140.9" cy="105.6" r="1.35" fill="#21908C"/>
<circle cx="139.0" cy="132.4" r="1.35" fill="#21908C"/>
<circle cx="136.8" cy="99.1" r="1.35" fill="#21908C"/>
<circle cx="130.7" cy="110.2" r="1.35" fill="#21908C"/>
<circle cx="134.7" cy="82.2" r="1.35" fill="#21908C"/>
<circle cx="140.0" cy="101.4" r="1.35" fill="#21908C"/>
<circle cx="141.7" cy="140.4" r="1.35" fill="#21908C"/>
<circle cx="143.7" cy="97.8" r="1.35" fill="#21908C"/>
<circle cx="137.6" cy="126.2" r="1.35" fill="#21908C"/>
<circle cx="138.5" cy="120.2" r="1.35" fill="#21908C"/>
<circle cx="133.0" cy="107.0" r="1.35" fill="#21908C"/>
<circle cx="140.9" cy="116.5" r="1.35" fill="#21908C"/>
<circle cx="164.9" cy="103.5" r="1.35" fill="#FDE725"/>
<circle cx="170.6" cy="104.0" r="1.35" fill="#FDE725"/>
<circle cx="165.3" cy="114.9" r="1.35" fill="#FDE725"/>
<circle cx="166.9" cy="164.4" r="1.35" fill="#FDE725"/>
<circle cx="174.1" cy="110.5" r="1.35" fill="#FDE725"/>
<circle cx="164.5" cy="119.9" r="1.35" fill="#FDE725"/>
<circle cx="169.3" cy="109.2" r="1.35" fill="#FDE725"/>
<circle cx="172.9" cy="107.7" r="1.35" fill="#FDE725"/>
<circle cx="175.1" cy="101.0" r="1.35" fill="#FDE725"/>
<circle cx="169.5" cy="111.5" r="1.35" fill="#FDE725"/>
<circle cx="168.6" cy="133.7" r="1.35" fill="#FDE725"/>
<circle cx="171.1" cy="108.1" r="1.35" fill="#FDE725"/>
<circle cx="164.5" cy="82.6" r="1.35" fill="#FDE725"/>
<circle cx="166.2" cy="90.8" r="1.35" fill="#FDE725"/>
<circle cx="164.3" cy="98.3" r="1.35" fill="#FDE725"/>
<circle cx="166.0" cy="82.6" r="1.35" fill="#FDE725"/>
<circle cx="171.8" cy="116.3" r="1.35" fill="#FDE725"/>
<circle cx="166.1" cy="136.9" r="1.35" fill="#FDE725"/>
<circle cx="174.4" cy="111.6" r="1.35" fill="#FDE725"/>
<circle cx="164.3" cy="95.1" r="1.35" fill="#FDE725"/>
<circle cx="163.9" cy="93.5" r="1.35" fill="#FDE725"/>
<circle cx="169.4" cy="113.0" r="1.35" fill="#FDE725"/>
<circle cx="164.8" cy="88.5" r="1.35" fill="#FDE725"/>
<circle cx="174.0" cy="132.0" r="1.35" fill="#FDE725"/>
<circle cx="169.5" cy="110.3" r="1.35" fill="#FDE725"/>
<circle cx="171.7" cy="125.4" r="1.35" fill="#FDE725"/>
<circle cx="174.4" cy="118.5" r="1.35" fill="#FDE725"/>
<circle cx="176.4" cy="99.4" r="1.35" fill="#FDE725"/>
<circle cx="169.4" cy="106.0" r="1.35" fill="#FDE725"/>
<circle cx="175.2" cy="87.1" r="1.35" fill="#FDE725"/>
<circle cx="169.8" cy="114.6" r="1.35" fill="#FDE725"/>
<circle cx="164.4" cy="96.0" r="1.35" fill="#FDE725"/>
<circle cx="177.4" cy="109.5" r="1.35" fill="#FDE725"/>
<circle cx="168.9" cy="101.8" r="1.35" fill="#FDE725"/>
<circle cx="174.9" cy="122.1" r="1.35" fill="#FDE725"/>
<circle cx="172.7" cy="112.7" r="1.35" fill="#FDE725"/>
<circle cx="173.6" cy="94.4" r="1.35" fill="#FDE725"/>
<circle cx="174.5" cy="92.3" r="1.35" fill="#FDE725"/>
<rect x="117.15" y="43.40" width="73.60" height="129.60" fill="none" stroke="#404040" stroke-width="1.2"/>
<rect x="199.80" y="43.40" width="73.60" height="129.60" fill="#fff"/>
<line x1="199.80" x2="273.40" y1="46.88" y2="46.88" stroke="#ebebeb" stroke-width="0.7"/>
<line x1="199.80" x2="273.40" y1="73.53" y2="73.53" stroke="#ebebeb" stroke-width="0.7"/>
<line x1="199.80" x2="273.40" y1="100.17" y2="100.17" stroke="#ebebeb" stroke-width="0.7"/>
<line x1="199.80" x2="273.40" y1="126.82" y2="126.82" stroke="#ebebeb" stroke-width="0.7"/>
<line x1="199.80" x2="273.40" y1="153.47" y2="153.47" stroke="#ebebeb" stroke-width="0.7"/>
<line x1="199.80" x2="273.40" y1="60.20" y2="60.20" stroke="#e1e1e1" stroke-width="1.2"/>
<line x1="199.80" x2="273.40" y1="86.85" y2="86.85" stroke="#e1e1e1" stroke-width="1.2"/>
<line x1="199.80" x2="273.40" y1="113.50" y2="113.50" stroke="#e1e1e1" stroke-width="1.2"/>
<line x1="199.80" x2="273.40" y1="140.15" y2="140.15" stroke="#e1e1e1" stroke-width="1.2"/>
<line x1="199.80" x2="273.40" y1="166.80" y2="166.80" stroke="#e1e1e1" stroke-width="1.2"/>
<line x1="219.87" x2="219.87" y1="80.30" y2="105.70" stroke="#000" stroke-width="1.6"/>
<line x1="219.87" x2="219.87" y1="125.30" y2="150.50" stroke="#000" stroke-width="1.6"/>
<rect x="207.33" y="105.70" width="25.09" height="19.60" fill="#fff" stroke="#000" stroke-width="1.6"/>
<line x1="207.33" x2="232.42" y1="112.90" y2="112.90" stroke="#000" stroke-width="3.1"/>
<line x1="253.33" x2="253.33" y1="69.60" y2="100.80" stroke="#000" stroke-width="1.6"/>
<line x1="253.33" x2="253.33" y1="123.60" y2="137.50" stroke="#000" stroke-width="1.6"/>
<rect x="240.78" y="100.80" width="25.09" height="22.80" fill="#fff" stroke="#000" stroke-width="1.6"/>
<line x1="240.78" x2="265.87" y1="113.80" y2="113.80" stroke="#000" stroke-width="3.1"/>
<circle cx="219.3" cy="85.8" r="1.35" fill="#21908C"/>
<circle cx="223.1" cy="121.4" r="1.35" fill="#21908C"/>
<circle cx="225.7" cy="73.9" r="1.35" fill="#21908C"/>
<circle cx="219.7" cy="123.6" r="1.35" fill="#21908C"/>
<circle cx="221.4" cy="147.5" r="1.35" fill="#21908C"/>
<circle cx="215.3" cy="137.6" r="1.35" fill="#21908C"/>
<circle cx="222.5" cy="106.5" r="1.35" fill="#21908C"/>
<circle cx="225.6" cy="143.4" r="1.35" fill="#21908C"/>
<circle cx="218.3" cy="92.9" r="1.35" fill="#21908C"/>
<circle cx="224.5" cy="99.4" r="1.35" fill="#21908C"/>
<circle cx="226.2" cy="118.6" r="1.35" fill="#21908C"/>
<circle cx="218.7" cy="126.7" r="1.35" fill="#21908C"/>
<circle cx="222.9" cy="108.2" r="1.35" fill="#21908C"/>
<circle cx="218.1" cy="116.1" r="1.35" fill="#21908C"/>
<circle cx="224.8" cy="112.7" r="1.35" fill="#21908C"/>
<circle cx="217.5" cy="111.7" r="1.35" fill="#21908C"/>
<circle cx="220.1" cy="136.3" r="1.35" fill="#21908C"/>
<circle cx="216.2" cy="110.8" r="1.35" fill="#21908C"/>
<circle cx="215.5" cy="140.4" r="1.35" fill="#21908C"/>
<circle cx="221.1" cy="110.4" r="1.35" fill="#21908C"/>
<circle cx="216.0" cy="122.0" r="1.35" fill="#21908C"/>
<circle cx="213.9" cy="105.8" r="1.35" fill="#21908C"/>
<circle cx="216.5" cy="73.0" r="1.35" fill="#21908C"/>
<circle cx="224.0" cy="101.5" r="1.35" fill="#21908C"/>
<circle cx="213.9" cy="130.1" r="1.35" fill="#21908C"/>
<circle cx="218.1" cy="116.5" r="1.35" fill="#21908C"/>
<circle cx="226.3" cy="109.9" r="1.35" fill="#21908C"/>
<circle cx="223.6" cy="112.5" r="1.35" fill="#21908C"/>
<circle cx="220.8" cy="125.1" r="1.35" fill="#21908C"/>
<circle cx="223.9" cy="107.8" r="1.35" fill="#21908C"/>
<circle cx="216.5" cy="108.9" r="1.35" fill="#21908C"/>
<circle cx="217.3" cy="104.0" r="1.35" fill="#21908C"/>
<circle cx="213.8" cy="138.4" r="1.35" fill="#21908C"/>
<circle cx="218.5" cy="100.2" r="1.35" fill="#21908C"/>
<circle cx="212.9" cy="70.4" r="1.35" fill="#21908C"/>
<circle cx="215.7" cy="111.1" r="1.35" fill="#21908C"/>
<circle cx="222.7" cy="129.6" r="1.35" fill="#21908C"/>
<circle cx="222.0" cy="102.3" r="1.35" fill="#21908C"/>
<circle cx="223.1" cy="79.7" r="1.35" fill="#21908C"/>
<circle cx="225.8" cy="120.7" r="1.35" fill="#21908C"/>
<circle cx="221.8" cy="111.4" r="1.35" fill="#21908C"/>
<circle cx="221.4" cy="109.2" r="1.35" fill="#21908C"/>
<circle cx="223.9" cy="112.1" r="1.35" fill="#21908C"/>
<circle cx="216.5" cy="115.0" r="1.35" fill="#21908C"/>
<circle cx="225.3" cy="105.1" r="1.35" fill="#21908C"/>
<circle cx="217.2" cy="91.8" r="1.35" fill="#21908C"/>
<circle cx="216.1" cy="117.6" r="1.35" fill="#21908C"/>
<circle cx="222.0" cy="150.5" r="1.35" fill="#21908C"/>
<circle cx="217.5" cy="117.0" r="1.35" fill="#21908C"/>
<circle cx="225.3" cy="134.1" r="1.35" fill="#21908C"/>
<circle cx="214.8" cy="106.7" r="1.35" fill="#21908C"/>
<circle cx="219.4" cy="97.6" r="1.35" fill="#21908C"/>
<circle cx="223.7" cy="90.2" r="1.35" fill="#21908C"/>
<circle cx="224.4" cy="127.9" r="1.35" fill="#21908C"/>
<circle cx="220.2" cy="125.9" r="1.35" fill="#21908C"/>
<circle cx="214.1" cy="104.5" r="1.35" fill="#21908C"/>
<circle cx="221.0" cy="135.0" r="1.35" fill="#21908C"/>
<circle cx="214.8" cy="102.7" r="1.35" fill="#21908C"/>
<circle cx="217.9" cy="100.4" r="1.35" fill="#21908C"/>
<circle cx="219.3" cy="109.8" r="1.35" fill="#21908C"/>
<circle cx="224.8" cy="115.4" r="1.35" fill="#21908C"/>
<circle cx="220.1" cy="119.0" r="1.35" fill="#21908C"/>
<circle cx="219.9" cy="94.6" r="1.35" fill="#21908C"/>
<circle cx="214.8" cy="127.2" r="1.35" fill="#21908C"/>
<circle cx="213.6" cy="124.8" r="1.35" fill="#21908C"/>
<circle cx="226.3" cy="119.7" r="1.35" fill="#21908C"/>
<circle cx="217.4" cy="81.8" r="1.35" fill="#21908C"/>
<circle cx="213.2" cy="128.4" r="1.35" fill="#21908C"/>
<circle cx="213.0" cy="95.6" r="1.35" fill="#21908C"/>
<circle cx="219.2" cy="113.8" r="1.35" fill="#21908C"/>
<circle cx="221.5" cy="98.1" r="1.35" fill="#21908C"/>
<circle cx="222.5" cy="114.1" r="1.35" fill="#21908C"/>
<circle cx="224.2" cy="131.6" r="1.35" fill="#21908C"/>
<circle cx="216.9" cy="107.5" r="1.35" fill="#21908C"/>
<circle cx="218.0" cy="123.2" r="1.35" fill="#21908C"/>
<circle cx="222.2" cy="130.7" r="1.35" fill="#21908C"/>
<circle cx="213.7" cy="133.2" r="1.35" fill="#21908C"/>
<circle cx="213.6" cy="151.4" r="1.35" fill="#21908C"/>
<circle cx="221.6" cy="122.4" r="1.35" fill="#21908C"/>
<circle cx="223.8" cy="105.6" r="1.35" fill="#21908C"/>
<circle cx="224.5" cy="108.4" r="1.35" fill="#21908C"/>
<circle cx="255.2" cy="91.1" r="1.35" fill="#FDE725"/>
<circle cx="258.4" cy="95.5" r="1.35" fill="#FDE725"/>
<circle cx="251.8" cy="69.6" r="1.35" fill="#FDE725"/>
<circle cx="255.0" cy="105.9" r="1.35" fill="#FDE725"/>
<circle cx="252.8" cy="121.6" r="1.35" fill="#FDE725"/>
<circle cx="251.3" cy="117.8" r="1.35" fill="#FDE725"/>
<circle cx="250.0" cy="102.1" r="1.35" fill="#FDE725"/>
<circle cx="250.9" cy="104.0" r="1.35" fill="#FDE725"/>
<circle cx="246.9" cy="137.5" r="1.35" fill="#FDE725"/>
<circle cx="257.9" cy="114.0" r="1.35" fill="#FDE725"/>
<circle cx="257.6" cy="98.8" r="1.35" fill="#FDE725"/>
<circle cx="258.1" cy="127.0" r="1.35" fill="#FDE725"/>
<circle cx="253.3" cy="115.7" r="1.35" fill="#FDE725"/>
<circle cx="246.9" cy="97.7" r="1.35" fill="#FDE725"/>
<circle cx="253.3" cy="120.8" r="1.35" fill="#FDE725"/>
<circle cx="253.3" cy="113.2" r="1.35" fill="#FDE725"/>
<circle cx="256.8" cy="122.3" r="1.35" fill="#FDE725"/>
<circle cx="248.1" cy="68.1" r="1.35" fill="#FDE725"/>
<circle cx="259.1" cy="73.0" r="1.35" fill="#FDE725"/>
<circle cx="257.8" cy="99.2" r="1.35" fill="#FDE725"/>
<circle cx="247.9" cy="73.7" r="1.35" fill="#FDE725"/>
<circle cx="247.0" cy="88.6" r="1.35" fill="#FDE725"/>
<circle cx="259.5" cy="114.5" r="1.35" fill="#FDE725"/>
<circle cx="256.5" cy="130.7" r="1.35" fill="#FDE725"/>
<circle cx="250.9" cy="127.9" r="1.35" fill="#FDE725"/>
<circle cx="253.4" cy="105.2" r="1.35" fill="#FDE725"/>
<circle cx="256.6" cy="92.3" r="1.35" fill="#FDE725"/>
<circle cx="249.1" cy="76.7" r="1.35" fill="#FDE725"/>
<circle cx="249.3" cy="101.0" r="1.35" fill="#FDE725"/>
<circle cx="258.7" cy="95.3" r="1.35" fill="#FDE725"/>
<circle cx="250.1" cy="119.8" r="1.35" fill="#FDE725"/>
<circle cx="250.9" cy="123.5" r="1.35" fill="#FDE725"/>
<circle cx="251.7" cy="131.9" r="1.35" fill="#FDE725"/>
<circle cx="252.1" cy="106.0" r="1.35" fill="#FDE725"/>
<circle cx="257.4" cy="135.4" r="1.35" fill="#FDE725"/>
<circle cx="254.4" cy="125.2" r="1.35" fill="#FDE725"/>
<circle cx="248.6" cy="127.3" r="1.35" fill="#FDE725"/>
<circle cx="257.4" cy="112.8" r="1.35" fill="#FDE725"/>
<circle cx="252.4" cy="137.5" r="1.35" fill="#FDE725"/>
<circle cx="255.2" cy="115.9" r="1.35" fill="#FDE725"/>
<circle cx="259.2" cy="83.5" r="1.35" fill="#FDE725"/>
<circle cx="249.7" cy="126.1" r="1.35" fill="#FDE725"/>
<circle cx="249.2" cy="110.3" r="1.35" fill="#FDE725"/>
<circle cx="252.8" cy="125.4" r="1.35" fill="#FDE725"/>
<circle cx="259.7" cy="130.8" r="1.35" fill="#FDE725"/>
<circle cx="259.5" cy="96.9" r="1.35" fill="#FDE725"/>
<circle cx="256.7" cy="124.4" r="1.35" fill="#FDE725"/>
<circle cx="258.6" cy="121.1" r="1.35" fill="#FDE725"/>
<circle cx="246.8" cy="119.6" r="1.35" fill="#FDE725"/>
<circle cx="257.1" cy="107.1" r="1.35" fill="#FDE725"/>
<circle cx="250.4" cy="99.8" r="1.35" fill="#FDE725"/>
<circle cx="256.2" cy="107.7" r="1.35" fill="#FDE725"/>
<circle cx="254.6" cy="92.7" r="1.35" fill="#FDE725"/>
<circle cx="247.6" cy="119.1" r="1.35" fill="#FDE725"/>
<circle cx="257.3" cy="116.5" r="1.35" fill="#FDE725"/>
<circle cx="247.8" cy="100.0" r="1.35" fill="#FDE725"/>
<circle cx="256.3" cy="103.1" r="1.35" fill="#FDE725"/>
<circle cx="249.4" cy="108.6" r="1.35" fill="#FDE725"/>
<circle cx="248.6" cy="128.7" r="1.35" fill="#FDE725"/>
<circle cx="257.7" cy="94.0" r="1.35" fill="#FDE725"/>
<circle cx="257.3" cy="117.3" r="1.35" fill="#FDE725"/>
<circle cx="249.3" cy="97.0" r="1.35" fill="#FDE725"/>
<circle cx="251.9" cy="118.2" r="1.35" fill="#FDE725"/>
<circle cx="252.4" cy="68.3" r="1.35" fill="#FDE725"/>
<circle cx="248.8" cy="110.2" r="1.35" fill="#FDE725"/>
<circle cx="258.1" cy="123.8" r="1.35" fill="#FDE725"/>
<circle cx="257.3" cy="158.6" r="1.35" fill="#FDE725"/>
<circle cx="259.9" cy="111.6" r="1.35" fill="#FDE725"/>
<circle cx="246.8" cy="80.0" r="1.35" fill="#FDE725"/>
<circle cx="252.4" cy="161.5" r="1.35" fill="#FDE725"/>
<circle cx="253.2" cy="111.7" r="1.35" fill="#FDE725"/>
<circle cx="252.3" cy="101.5" r="1.35" fill="#FDE725"/>
<circle cx="248.4" cy="87.2" r="1.35" fill="#FDE725"/>
<circle cx="250.6" cy="126.3" r="1.35" fill="#FDE725"/>
<circle cx="249.4" cy="115.0" r="1.35" fill="#FDE725"/>
<circle cx="249.0" cy="129.3" r="1.35" fill="#FDE725"/>
<circle cx="247.7" cy="109.5" r="1.35" fill="#FDE725"/>
<circle cx="252.5" cy="124.6" r="1.35" fill="#FDE725"/>
<circle cx="255.3" cy="123.1" r="1.35" fill="#FDE725"/>
<rect x="199.80" y="43.40" width="73.60" height="129.60" fill="none" stroke="#404040" stroke-width="1.2"/>
<rect x="282.45" y="43.40" width="73.60" height="129.60" fill="#fff"/>
<line x1="282.45" x2="356.05" y1="46.88" y2="46.88" stroke="#ebebeb" stroke-width="0.7"/>
<line x1="282.45" x2="356.05" y1="73.53" y2="73.53" stroke="#ebebeb" stroke-width="0.7"/>
<line x1="282.45" x2="356.05" y1="100.17" y2="100.17" stroke="#ebebeb" stroke-width="0.7"/>
<line x1="282.45" x2="356.05" y1="126.82" y2="126.82" stroke="#ebebeb" stroke-width="0.7"/>
<line x1="282.45" x2="356.05" y1="153.47" y2="153.47" stroke="#ebebeb" stroke-width="0.7"/>
<line x1="282.45" x2="356.05" y1="60.20" y2="60.20" stroke="#e1e1e1" stroke-width="1.2"/>
<line x1="282.45" x2="356.05" y1="86.85" y2="86.85" stroke="#e1e1e1" stroke-width="1.2"/>
<line x1="282.45" x2="356.05" y1="113.50" y2="113.50" stroke="#e1e1e1" stroke-width="1.2"/>
<line x1="282.45" x2="356.05" y1="140.15" y2="140.15" stroke="#e1e1e1" stroke-width="1.2"/>
<line x1="282.45" x2="356.05" y1="166.80" y2="166.80" stroke="#e1e1e1" stroke-width="1.2"/>
<line x1="302.52" x2="302.52" y1="83.20" y2="105.70" stroke="#000" stroke-width="1.6"/>
<line x1="302.52" x2="302.52" y1="123.00" y2="146.70" stroke="#000" stroke-width="1.6"/>
<rect x="289.98" y="105.70" width="25.09" height="17.30" fill="#fff" stroke="#000" stroke-width="1.6"/>
<line x1="289.98" x2="315.07" y1="114.40" y2="114.40" stroke="#000" stroke-width="3.1"/>
<line x1="335.98" x2="335.98" y1="73.00" y2="99.30" stroke="#000" stroke-width="1.6"/>
<line x1="335.98" x2="335.98" y1="118.10" y2="144.70" stroke="#000" stroke-width="1.6"/>
<rect x="323.43" y="99.30" width="25.09" height="18.80" fill="#fff" stroke="#000" stroke-width="1.6"/>
<line x1="323.43" x2="348.52" y1="108.00" y2="108.00" stroke="#000" stroke-width="3.1"/>
<circle cx="296.9" cy="108.1" r="1.35" fill="#21908C"/>
<circle cx="309.0" cy="95.3" r="1.35" fill="#21908C"/>
<circle cx="302.5" cy="111.6" r="1.35" fill="#21908C"/>
<circle cx="297.9" cy="96.4" r="1.35" fill="#21908C"/>
<circle cx="304.5" cy="112.5" r="1.35" fill="#21908C"/>
<circle cx="306.6" cy="102.7" r="1.35" fill="#21908C"/>
<circle cx="306.1" cy="113.6" r="1.35" fill="#21908C"/>
<circle cx="308.6" cy="104.8" r="1.35" fill="#21908C"/>
<circle cx="305.9" cy="129.7" r="1.35" fill="#21908C"/>
<circle cx="297.3" cy="116.7" r="1.35" fill="#21908C"/>
<circle cx="308.3" cy="89.1" r="1.35" fill="#21908C"/>
<circle cx="301.8" cy="128.8" r="1.35" fill="#21908C"/>
<circle cx="302.3" cy="103.2" r="1.35" fill="#21908C"/>
<circle cx="308.2" cy="114.9" r="1.35" fill="#21908C"/>
<circle cx="297.9" cy="146.5" r="1.35" fill="#21908C"/>
<circle cx="306.4" cy="101.1" r="1.35" fill="#21908C"/>
<circle cx="304.9" cy="91.8" r="1.35" fill="#21908C"/>
<circle cx="302.1" cy="111.7" r="1.35" fill="#21908C"/>
<circle cx="306.1" cy="100.4" r="1.35" fill="#21908C"/>
<circle cx="308.0" cy="126.2" r="1.35" fill="#21908C"/>
<circle cx="301.5" cy="126.7" r="1.35" fill="#21908C"/>
<circle cx="302.3" cy="110.2" r="1.35" fill="#21908C"/>
<circle cx="304.8" cy="120.7" r="1.35" fill="#21908C"/>
<circle cx="299.7" cy="108.6" r="1.35" fill="#21908C"/>
<circle cx="303.4" cy="104.5" r="1.35" fill="#21908C"/>
<circle cx="300.9" cy="104.2" r="1.35" fill="#21908C"/>
<circle cx="306.2" cy="125.4" r="1.35" fill="#21908C"/>
<circle cx="305.2" cy="124.1" r="1.35" fill="#21908C"/>
<circle cx="296.6" cy="97.3" r="1.35" fill="#21908C"/>
<circle cx="305.3" cy="110.6" r="1.35" fill="#21908C"/>
<circle cx="296.5" cy="133.2" r="1.35" fill="#21908C"/>
<circle cx="305.6" cy="98.3" r="1.35" fill="#21908C"/>
<circle cx="302.8" cy="123.5" r="1.35" fill="#21908C"/>
<circle cx="300.8" cy="119.4" r="1.35" fill="#21908C"/>
<circle cx="296.9" cy="113.4" r="1.35" fill="#21908C"/>
<circle cx="297.6" cy="130.4" r="1.35" fill="#21908C"/>
<circle cx="297.6" cy="99.0" r="1.35" fill="#21908C"/>
<circle cx="304.0" cy="106.0" r="1.35" fill="#21908C"/>
<circle cx="304.7" cy="105.5" r="1.35" fill="#21908C"/>
<circle cx="304.9" cy="119.6" r="1.35" fill="#21908C"/>
<circle cx="303.8" cy="60.6" r="1.35" fill="#21908C"/>
<circle cx="308.4" cy="129.4" r="1.35" fill="#21908C"/>
<circle cx="304.3" cy="120.5" r="1.35" fill="#21908C"/>
<circle cx="296.3" cy="112.7" r="1.35" fill="#21908C"/>
<circle cx="297.2" cy="146.7" r="1.35" fill="#21908C"/>
<circle cx="301.3" cy="99.9" r="1.35" fill="#21908C"/>
<circle cx="297.1" cy="93.0" r="1.35" fill="#21908C"/>
<circle cx="304.7" cy="102.9" r="1.35" fill="#21908C"/>
<circle cx="309.4" cy="112.0" r="1.35" fill="#21908C"/>
<circle cx="302.5" cy="119.0" r="1.35" fill="#21908C"/>
<circle cx="296.2" cy="120.1" r="1.35" fill="#21908C"/>
<circle cx="298.6" cy="113.8" r="1.35" fill="#21908C"/>
<circle cx="296.8" cy="103.7" r="1.35" fill="#21908C"/>
<circle cx="300.0" cy="111.2" r="1.35" fill="#21908C"/>
<circle cx="308.2" cy="123.3" r="1.35" fill="#21908C"/>
<circle cx="300.5" cy="115.6" r="1.35" fill="#21908C"/>
<circle cx="307.9" cy="132.2" r="1.35" fill="#21908C"/>
<circle cx="306.4" cy="100.7" r="1.35" fill="#21908C"/>
<circle cx="307.1" cy="99.4" r="1.35" fill="#21908C"/>
<circle cx="302.2" cy="110.0" r="1.35" fill="#21908C"/>
<circle cx="300.3" cy="115.1" r="1.35" fill="#21908C"/>
<circle cx="296.4" cy="115.4" r="1.35" fill="#21908C"/>
<circle cx="297.2" cy="109.4" r="1.35" fill="#21908C"/>
<circle cx="299.7" cy="131.0" r="1.35" fill="#21908C"/>
<circle cx="301.0" cy="135.5" r="1.35" fill="#21908C"/>
<circle cx="307.5" cy="122.4" r="1.35" fill="#21908C"/>
<circle cx="297.7" cy="104.1" r="1.35" fill="#21908C"/>
<circle cx="303.4" cy="122.8" r="1.35" fill="#21908C"/>
<circle cx="304.7" cy="114.3" r="1.35" fill="#21908C"/>
<circle cx="307.7" cy="116.3" r="1.35" fill="#21908C"/>
<circle cx="298.3" cy="97.9" r="1.35" fill="#21908C"/>
<circle cx="300.2" cy="115.9" r="1.35" fill="#21908C"/>
<circle cx="301.4" cy="109.5" r="1.35" fill="#21908C"/>
<circle cx="306.4" cy="114.6" r="1.35" fill="#21908C"/>
<circle cx="298.4" cy="116.4" r="1.35" fill="#21908C"/>
<circle cx="302.5" cy="131.5" r="1.35" fill="#21908C"/>
<circle cx="307.0" cy="118.4" r="1.35" fill="#21908C"/>
<circle cx="309.0" cy="117.1" r="1.35" fill="#21908C"/>
<circle cx="305.3" cy="101.4" r="1.35" fill="#21908C"/>
<circle cx="307.7" cy="121.5" r="1.35" fill="#21908C"/>
<circle cx="301.1" cy="93.8" r="1.35" fill="#21908C"/>
<circle cx="303.3" cy="117.7" r="1.35" fill="#21908C"/>
<circle cx="302.3" cy="102.3" r="1.35" fill="#21908C"/>
<circle cx="296.6" cy="124.5" r="1.35" fill="#21908C"/>
<circle cx="307.1" cy="138.5" r="1.35" fill="#21908C"/>
<circle cx="307.4" cy="106.4" r="1.35" fill="#21908C"/>
<circle cx="307.8" cy="73.9" r="1.35" fill="#21908C"/>
<circle cx="299.1" cy="84.1" r="1.35" fill="#21908C"/>
<circle cx="308.5" cy="121.3" r="1.35" fill="#21908C"/>
<circle cx="303.0" cy="107.3" r="1.35" fill="#21908C"/>
<circle cx="300.0" cy="139.7" r="1.35" fill="#21908C"/>
<circle cx="300.4" cy="105.2" r="1.35" fill="#21908C"/>
<circle cx="299.4" cy="128.3" r="1.35" fill="#21908C"/>
<circle cx="305.1" cy="134.8" r="1.35" fill="#21908C"/>
<circle cx="301.4" cy="121.2" r="1.35" fill="#21908C"/>
<circle cx="309.0" cy="83.2" r="1.35" fill="#21908C"/>
<circle cx="297.9" cy="110.7" r="1.35" fill="#21908C"/>
<circle cx="296.6" cy="105.7" r="1.35" fill="#21908C"/>
<circle cx="298.1" cy="112.4" r="1.35" fill="#21908C"/>
<circle cx="309.4" cy="117.4" r="1.35" fill="#21908C"/>
<circle cx="303.2" cy="108.3" r="1.35" fill="#21908C"/>
<circle cx="297.3" cy="127.7" r="1.35" fill="#21908C"/>
<circle cx="309.2" cy="101.9" r="1.35" fill="#21908C"/>
<circle cx="296.5" cy="87.3" r="1.35" fill="#21908C"/>
<circle cx="296.1" cy="122.5" r="1.35" fill="#21908C"/>
<circle cx="297.1" cy="118.3" r="1.35" fill="#21908C"/>
<circle cx="296.3" cy="133.1" r="1.35" fill="#21908C"/>
<circle cx="303.5" cy="118.0" r="1.35" fill="#21908C"/>
<circle cx="304.9" cy="126.8" r="1.35" fill="#21908C"/>
<circle cx="296.8" cy="125.9" r="1.35" fill="#21908C"/>
<circle cx="299.9" cy="121.9" r="1.35" fill="#21908C"/>
<circle cx="307.7" cy="120.0" r="1.35" fill="#21908C"/>
<circle cx="306.2" cy="118.8" r="1.35" fill="#21908C"/>
<circle cx="308.9" cy="96.1" r="1.35" fill="#21908C"/>
<circle cx="298.5" cy="107.1" r="1.35" fill="#21908C"/>
<circle cx="305.1" cy="107.7" r="1.35" fill="#21908C"/>
<circle cx="307.2" cy="109.0" r="1.35" fill="#21908C"/>
<circle cx="305.5" cy="116.9" r="1.35" fill="#21908C"/>
<circle cx="306.3" cy="124.0" r="1.35" fill="#21908C"/>
<circle cx="305.7" cy="143.6" r="1.35" fill="#21908C"/>
<circle cx="301.9" cy="106.6" r="1.35" fill="#21908C"/>
<circle cx="303.9" cy="136.3" r="1.35" fill="#21908C"/>
<circle cx="309.4" cy="113.2" r="1.35" fill="#21908C"/>
<circle cx="304.7" cy="125.3" r="1.35" fill="#21908C"/>
<circle cx="303.8" cy="124.9" r="1.35" fill="#21908C"/>
<circle cx="305.8" cy="111.0" r="1.35" fill="#21908C"/>
<circle cx="297.4" cy="114.1" r="1.35" fill="#21908C"/>
<circle cx="307.5" cy="127.6" r="1.35" fill="#21908C"/>
<circle cx="298.6" cy="108.8" r="1.35" fill="#21908C"/>
<circle cx="337.7" cy="113.7" r="1.35" fill="#FDE725"/>
<circle cx="341.0" cy="93.5" r="1.35" fill="#FDE725"/>
<circle cx="340.6" cy="101.4" r="1.35" fill="#FDE725"/>
<circle cx="332.7" cy="108.0" r="1.35" fill="#FDE725"/>
<circle cx="333.3" cy="113.9" r="1.35" fill="#FDE725"/>
<circle cx="337.2" cy="99.0" r="1.35" fill="#FDE725"/>
<circle cx="341.7" cy="119.9" r="1.35" fill="#FDE725"/>
<circle cx="329.9" cy="97.0" r="1.35" fill="#FDE725"/>
<circle cx="329.5" cy="97.2" r="1.35" fill="#FDE725"/>
<circle cx="337.6" cy="122.7" r="1.35" fill="#FDE725"/>
<circle cx="332.4" cy="122.2" r="1.35" fill="#FDE725"/>
<circle cx="330.9" cy="116.7" r="1.35" fill="#FDE725"/>
<circle cx="342.2" cy="136.2" r="1.35" fill="#FDE725"/>
<circle cx="336.1" cy="110.0" r="1.35" fill="#FDE725"/>
<circle cx="332.5" cy="105.1" r="1.35" fill="#FDE725"/>
<circle cx="336.2" cy="106.5" r="1.35" fill="#FDE725"/>
<circle cx="335.5" cy="101.0" r="1.35" fill="#FDE725"/>
<circle cx="337.3" cy="144.7" r="1.35" fill="#FDE725"/>
<circle cx="331.6" cy="95.4" r="1.35" fill="#FDE725"/>
<circle cx="332.2" cy="132.6" r="1.35" fill="#FDE725"/>
<circle cx="335.2" cy="109.7" r="1.35" fill="#FDE725"/>
<circle cx="340.6" cy="108.9" r="1.35" fill="#FDE725"/>
<circle cx="337.0" cy="105.3" r="1.35" fill="#FDE725"/>
<circle cx="341.1" cy="80.0" r="1.35" fill="#FDE725"/>
<circle cx="340.2" cy="121.7" r="1.35" fill="#FDE725"/>
<circle cx="331.6" cy="104.4" r="1.35" fill="#FDE725"/>
<circle cx="330.1" cy="103.0" r="1.35" fill="#FDE725"/>
<circle cx="342.1" cy="96.4" r="1.35" fill="#FDE725"/>
<circle cx="332.5" cy="117.1" r="1.35" fill="#FDE725"/>
<circle cx="331.1" cy="109.5" r="1.35" fill="#FDE725"/>
<circle cx="340.2" cy="105.7" r="1.35" fill="#FDE725"/>
<circle cx="333.7" cy="104.0" r="1.35" fill="#FDE725"/>
<circle cx="335.2" cy="121.6" r="1.35" fill="#FDE725"/>
<circle cx="331.0" cy="113.2" r="1.35" fill="#FDE725"/>
<circle cx="335.7" cy="98.2" r="1.35" fill="#FDE725"/>
<circle cx="332.5" cy="119.3" r="1.35" fill="#FDE725"/>
<circle cx="341.9" cy="124.2" r="1.35" fill="#FDE725"/>
<circle cx="330.7" cy="70.4" r="1.35" fill="#FDE725"/>
<circle cx="335.5" cy="134.8" r="1.35" fill="#FDE725"/>
<circle cx="332.7" cy="125.3" r="1.35" fill="#FDE725"/>
<circle cx="336.6" cy="132.1" r="1.35" fill="#FDE725"/>
<circle cx="340.7" cy="111.5" r="1.35" fill="#FDE725"/>
<circle cx="332.4" cy="126.4" r="1.35" fill="#FDE725"/>
<circle cx="333.0" cy="110.8" r="1.35" fill="#FDE725"/>
<circle cx="331.8" cy="98.5" r="1.35" fill="#FDE725"/>
<circle cx="331.5" cy="127.5" r="1.35" fill="#FDE725"/>
<circle cx="330.6" cy="120.9" r="1.35" fill="#FDE725"/>
<circle cx="342.5" cy="107.8" r="1.35" fill="#FDE725"/>
<circle cx="334.8" cy="108.6" r="1.35" fill="#FDE725"/>
<circle cx="340.9" cy="118.2" r="1.35" fill="#FDE725"/>
<circle cx="338.8" cy="92.2" r="1.35" fill="#FDE725"/>
<circle cx="338.6" cy="114.2" r="1.35" fill="#FDE725"/>
<circle cx="339.4" cy="102.1" r="1.35" fill="#FDE725"/>
<circle cx="334.2" cy="99.6" r="1.35" fill="#FDE725"/>
<circle cx="337.4" cy="112.2" r="1.35" fill="#FDE725"/>
<circle cx="330.1" cy="119.1" r="1.35" fill="#FDE725"/>
<circle cx="337.4" cy="79.9" r="1.35" fill="#FDE725"/>
<circle cx="342.3" cy="102.6" r="1.35" fill="#FDE725"/>
<circle cx="330.4" cy="87.1" r="1.35" fill="#FDE725"/>
<circle cx="334.3" cy="91.3" r="1.35" fill="#FDE725"/>
<circle cx="340.7" cy="92.8" r="1.35" fill="#FDE725"/>
<circle cx="341.5" cy="120.6" r="1.35" fill="#FDE725"/>
<circle cx="332.6" cy="97.6" r="1.35" fill="#FDE725"/>
<circle cx="334.4" cy="102.9" r="1.35" fill="#FDE725"/>
<circle cx="332.3" cy="94.6" r="1.35" fill="#FDE725"/>
<circle cx="337.6" cy="101.7" r="1.35" fill="#FDE725"/>
<circle cx="333.0" cy="115.4" r="1.35" fill="#FDE725"/>
<circle cx="334.3" cy="99.9" r="1.35" fill="#FDE725"/>
<circle cx="334.6" cy="144.7" r="1.35" fill="#FDE725"/>
<circle cx="333.4" cy="123.3" r="1.35" fill="#FDE725"/>
<circle cx="335.5" cy="128.5" r="1.35" fill="#FDE725"/>
<circle cx="341.8" cy="94.9" r="1.35" fill="#FDE725"/>
<circle cx="341.7" cy="100.7" r="1.35" fill="#FDE725"/>
<circle cx="341.8" cy="93.8" r="1.35" fill="#FDE725"/>
<circle cx="336.2" cy="115.3" r="1.35" fill="#FDE725"/>
<circle cx="332.3" cy="112.0" r="1.35" fill="#FDE725"/>
<circle cx="340.7" cy="114.8" r="1.35" fill="#FDE725"/>
<circle cx="340.1" cy="101.4" r="1.35" fill="#FDE725"/>
<circle cx="337.3" cy="88.5" r="1.35" fill="#FDE725"/>
<circle cx="342.3" cy="124.0" r="1.35" fill="#FDE725"/>
<circle cx="330.9" cy="89.6" r="1.35" fill="#FDE725"/>
<circle cx="334.7" cy="116.1" r="1.35" fill="#FDE725"/>
<circle cx="332.4" cy="108.2" r="1.35" fill="#FDE725"/>
<circle cx="330.6" cy="106.0" r="1.35" fill="#FDE725"/>
<circle cx="339.9" cy="106.9" r="1.35" fill="#FDE725"/>
<circle cx="334.2" cy="95.9" r="1.35" fill="#FDE725"/>
<circle cx="338.1" cy="99.2" r="1.35" fill="#FDE725"/>
<circle cx="341.8" cy="85.5" r="1.35" fill="#FDE725"/>
<circle cx="338.8" cy="117.6" r="1.35" fill="#FDE725"/>
<circle cx="340.0" cy="110.3" r="1.35" fill="#FDE725"/>
<circle cx="333.5" cy="98.3" r="1.35" fill="#FDE725"/>
<circle cx="334.1" cy="73.0" r="1.35" fill="#FDE725"/>
<circle cx="342.5" cy="76.3" r="1.35" fill="#FDE725"/>
<circle cx="329.6" cy="91.4" r="1.35" fill="#FDE725"/>
<circle cx="339.3" cy="97.8" r="1.35" fill="#FDE725"/>
<circle cx="332.9" cy="111.3" r="1.35" fill="#FDE725"/>
<circle cx="330.3" cy="94.3" r="1.35" fill="#FDE725"/>
<circle cx="331.1" cy="104.9" r="1.35" fill="#FDE725"/>
<circle cx="337.2" cy="84.1" r="1.35" fill="#FDE725"/>
<circle cx="342.1" cy="115.9" r="1.35" fill="#FDE725"/>
<circle cx="342.7" cy="117.4" r="1.35" fill="#FDE725"/>
<circle cx="336.8" cy="107.3" r="1.35" fill="#FDE725"/>
<circle cx="335.2" cy="100.2" r="1.35" fill="#FDE725"/>
<circle cx="341.3" cy="104.6" r="1.35" fill="#FDE725"/>
<circle cx="341.9" cy="118.5" r="1.35" fill="#FDE725"/>
<circle cx="339.0" cy="96.1" r="1.35" fill="#FDE725"/>
<circle cx="329.6" cy="110.9" r="1.35" fill="#FDE725"/>
<circle cx="337.8" cy="137.8" r="1.35" fill="#FDE725"/>
<circle cx="333.8" cy="90.5" r="1.35" fill="#FDE725"/>
<circle cx="341.3" cy="112.8" r="1.35" fill="#FDE725"/>
<circle cx="330.8" cy="130.1" r="1.35" fill="#FDE725"/>
<circle cx="335.7" cy="106.3" r="1.35" fill="#FDE725"/>
<circle cx="333.9" cy="127.0" r="1.35" fill="#FDE725"/>
<circle cx="333.5" cy="103.5" r="1.35" fill="#FDE725"/>
<circle cx="337.9" cy="125.9" r="1.35" fill="#FDE725"/>
<circle cx="339.6" cy="113.1" r="1.35" fill="#FDE725"/>
<circle cx="329.0" cy="145.6" r="1.35" fill="#FDE725"/>
<circle cx="330.7" cy="107.5" r="1.35" fill="#FDE725"/>
<circle cx="341.1" cy="120.3" r="1.35" fill="#FDE725"/>
<circle cx="330.7" cy="103.6" r="1.35" fill="#FDE725"/>
<circle cx="339.6" cy="129.6" r="1.35" fill="#FDE725"/>
<rect x="282.45" y="43.40" width="73.60" height="129.60" fill="none" stroke="#404040" stroke-width="1.2"/>
<text transform="translate(26.8,62.80) rotate(0.03)" font-size="6.25" text-anchor="end" fill="#444">0.1</text>
<text transform="translate(26.8,89.45) rotate(0.03)" font-size="6.25" text-anchor="end" fill="#444">0.1</text>
<text transform="translate(26.8,116.10) rotate(0.03)" font-size="6.25" text-anchor="end" fill="#444">0.0</text>
<text transform="translate(26.8,142.75) rotate(0.03)" font-size="6.25" text-anchor="end" fill="#444">0.0</text>
<text transform="translate(26.8,169.40) rotate(0.03)" font-size="6.25" text-anchor="end" fill="#444">−0.1</text>
<rect x="356.45" y="43.40" width="18.7" height="129.60" fill="#F4A582" stroke="#404040" stroke-width="1.2"/>
<text transform="translate(363.95,108.20) rotate(90.03)" font-size="6.2" text-anchor="middle" fill="#111">CACNA1C</text>
<rect x="34.50" y="180.00" width="73.60" height="128.50" fill="#fff"/>
<line x1="34.50" x2="108.10" y1="185.70" y2="185.70" stroke="#ebebeb" stroke-width="0.7"/>
<line x1="34.50" x2="108.10" y1="209.10" y2="209.10" stroke="#ebebeb" stroke-width="0.7"/>
<line x1="34.50" x2="108.10" y1="232.50" y2="232.50" stroke="#ebebeb" stroke-width="0.7"/>
<line x1="34.50" x2="108.10" y1="255.90" y2="255.90" stroke="#ebebeb" stroke-width="0.7"/>
<line x1="34.50" x2="108.10" y1="279.30" y2="279.30" stroke="#ebebeb" stroke-width="0.7"/>
<line x1="34.50" x2="108.10" y1="302.70" y2="302.70" stroke="#ebebeb" stroke-width="0.7"/>
<line x1="34.50" x2="108.10" y1="197.40" y2="197.40" stroke="#e1e1e1" stroke-width="1.2"/>
<line x1="34.50" x2="108.10" y1="220.80" y2="220.80" stroke="#e1e1e1" stroke-width="1.2"/>
<line x1="34.50" x2="108.10" y1="244.30" y2="244.30" stroke="#e1e1e1" stroke-width="1.2"/>
<line x1="34.50" x2="108.10" y1="267.80" y2="267.80" stroke="#e1e1e1" stroke-width="1.2"/>
<line x1="34.50" x2="108.10" y1="291.30" y2="291.30" stroke="#e1e1e1" stroke-width="1.2"/>
<line x1="54.57" x2="54.57" y1="222.80" y2="238.70" stroke="#000" stroke-width="1.6"/>
<line x1="54.57" x2="54.57" y1="250.80" y2="265.30" stroke="#000" stroke-width="1.6"/>
<rect x="42.03" y="238.70" width="25.09" height="12.10" fill="#fff" stroke="#000" stroke-width="1.6"/>
<line x1="42.03" x2="67.12" y1="244.20" y2="244.20" stroke="#000" stroke-width="3.1"/>
<line x1="88.03" x2="88.03" y1="220.50" y2="238.70" stroke="#000" stroke-width="1.6"/>
<line x1="88.03" x2="88.03" y1="252.80" y2="267.30" stroke="#000" stroke-width="1.6"/>
<rect x="75.48" y="238.70" width="25.09" height="14.10" fill="#fff" stroke="#000" stroke-width="1.6"/>
<line x1="75.48" x2="100.57" y1="247.00" y2="247.00" stroke="#000" stroke-width="3.1"/>
<circle cx="50.2" cy="241.7" r="1.35" fill="#21908C"/>
<circle cx="55.8" cy="242.8" r="1.35" fill="#21908C"/>
<circle cx="55.8" cy="251.6" r="1.35" fill="#21908C"/>
<circle cx="60.9" cy="250.8" r="1.35" fill="#21908C"/>
<circle cx="53.7" cy="226.5" r="1.35" fill="#21908C"/>
<circle cx="55.3" cy="243.0" r="1.35" fill="#21908C"/>
<circle cx="59.3" cy="222.8" r="1.35" fill="#21908C"/>
<circle cx="55.4" cy="239.7" r="1.35" fill="#21908C"/>
<circle cx="54.5" cy="238.2" r="1.35" fill="#21908C"/>
<circle cx="55.6" cy="236.8" r="1.35" fill="#21908C"/>
<circle cx="60.2" cy="237.8" r="1.35" fill="#21908C"/>
<circle cx="60.9" cy="245.6" r="1.35" fill="#21908C"/>
<circle cx="56.3" cy="240.1" r="1.35" fill="#21908C"/>
<circle cx="49.9" cy="250.5" r="1.35" fill="#21908C"/>
<circle cx="57.6" cy="254.4" r="1.35" fill="#21908C"/>
<circle cx="59.8" cy="247.2" r="1.35" fill="#21908C"/>
<circle cx="58.8" cy="244.1" r="1.35" fill="#21908C"/>
<circle cx="52.1" cy="240.6" r="1.35" fill="#21908C"/>
<circle cx="59.4" cy="231.7" r="1.35" fill="#21908C"/>
<circle cx="48.2" cy="259.1" r="1.35" fill="#21908C"/>
<circle cx="60.1" cy="244.9" r="1.35" fill="#21908C"/>
<circle cx="50.2" cy="247.8" r="1.35" fill="#21908C"/>
<circle cx="51.9" cy="242.6" r="1.35" fill="#21908C"/>
<circle cx="54.9" cy="239.4" r="1.35" fill="#21908C"/>
<circle cx="60.0" cy="245.4" r="1.35" fill="#21908C"/>
<circle cx="50.1" cy="247.6" r="1.35" fill="#21908C"/>
<circle cx="60.8" cy="239.2" r="1.35" fill="#21908C"/>
<circle cx="58.3" cy="252.4" r="1.35" fill="#21908C"/>
<circle cx="56.6" cy="243.1" r="1.35" fill="#21908C"/>
<circle cx="52.1" cy="244.5" r="1.35" fill="#21908C"/>
<circle cx="52.4" cy="240.4" r="1.35" fill="#21908C"/>
<circle cx="52.3" cy="230.4" r="1.35" fill="#21908C"/>
<circle cx="49.4" cy="252.1" r="1.35" fill="#21908C"/>
<circle cx="48.2" cy="249.2" r="1.35" fill="#21908C"/>
<circle cx="51.3" cy="251.4" r="1.35" fill="#21908C"/>
<circle cx="48.3" cy="242.2" r="1.35" fill="#21908C"/>
<circle cx="51.4" cy="249.7" r="1.35" fill="#21908C"/>
<circle cx="54.6" cy="253.8" r="1.35" fill="#21908C"/>
<circle cx="56.0" cy="241.9" r="1.35" fill="#21908C"/>
<circle cx="50.8" cy="229.0" r="1.35" fill="#21908C"/>
<circle cx="58.3" cy="238.4" r="1.35" fill="#21908C"/>
<circle cx="58.9" cy="240.5" r="1.35" fill="#21908C"/>
<circle cx="52.6" cy="244.6" r="1.35" fill="#21908C"/>
<circle cx="60.8" cy="246.8" r="1.35" fill="#21908C"/>
<circle cx="61.4" cy="238.5" r="1.35" fill="#21908C"/>
<circle cx="52.1" cy="237.4" r="1.35" fill="#21908C"/>
<circle cx="59.1" cy="240.8" r="1.35" fill="#21908C"/>
<circle cx="56.7" cy="252.6" r="1.35" fill="#21908C"/>
<circle cx="50.2" cy="265.3" r="1.35" fill="#21908C"/>
<circle cx="60.3" cy="258.0" r="1.35" fill="#21908C"/>
<circle cx="50.4" cy="259.9" r="1.35" fill="#21908C"/>
<circle cx="51.7" cy="241.4" r="1.35" fill="#21908C"/>
<circle cx="52.5" cy="245.1" r="1.35" fill="#21908C"/>
<circle cx="59.1" cy="248.6" r="1.35" fill="#21908C"/>
<circle cx="52.0" cy="261.8" r="1.35" fill="#21908C"/>
<circle cx="61.4" cy="243.3" r="1.35" fill="#21908C"/>
<circle cx="51.4" cy="244.7" r="1.35" fill="#21908C"/>
<circle cx="57.8" cy="228.4" r="1.35" fill="#21908C"/>
<circle cx="53.0" cy="226.8" r="1.35" fill="#21908C"/>
<circle cx="48.6" cy="254.0" r="1.35" fill="#21908C"/>
<circle cx="51.1" cy="248.8" r="1.35" fill="#21908C"/>
<circle cx="59.6" cy="255.4" r="1.35" fill="#21908C"/>
<circle cx="56.2" cy="245.8" r="1.35" fill="#21908C"/>
<circle cx="54.8" cy="238.7" r="1.35" fill="#21908C"/>
<circle cx="47.7" cy="233.9" r="1.35" fill="#21908C"/>
<circle cx="51.9" cy="236.7" r="1.35" fill="#21908C"/>
<circle cx="49.2" cy="240.9" r="1.35" fill="#21908C"/>
<circle cx="61.4" cy="242.0" r="1.35" fill="#21908C"/>
<circle cx="52.9" cy="235.2" r="1.35" fill="#21908C"/>
<circle cx="56.8" cy="256.5" r="1.35" fill="#21908C"/>
<circle cx="59.4" cy="253.1" r="1.35" fill="#21908C"/>
<circle cx="49.8" cy="243.5" r="1.35" fill="#21908C"/>
<circle cx="55.8" cy="234.2" r="1.35" fill="#21908C"/>
<circle cx="52.8" cy="239.5" r="1.35" fill="#21908C"/>
<circle cx="50.2" cy="257.8" r="1.35" fill="#21908C"/>
<circle cx="50.0" cy="243.8" r="1.35" fill="#21908C"/>
<circle cx="47.8" cy="244.2" r="1.35" fill="#21908C"/>
<circle cx="59.7" cy="235.0" r="1.35" fill="#21908C"/>
<circle cx="58.6" cy="247.4" r="1.35" fill="#21908C"/>
<circle cx="53.0" cy="238.9" r="1.35" fill="#21908C"/>
<circle cx="49.3" cy="248.2" r="1.35" fill="#21908C"/>
<circle cx="53.1" cy="246.9" r="1.35" fill="#21908C"/>
<circle cx="52.5" cy="256.2" r="1.35" fill="#21908C"/>
<circle cx="52.0" cy="252.8" r="1.35" fill="#21908C"/>
<circle cx="52.8" cy="214.1" r="1.35" fill="#21908C"/>
<circle cx="48.9" cy="253.0" r="1.35" fill="#21908C"/>
<circle cx="50.8" cy="251.1" r="1.35" fill="#21908C"/>
<circle cx="58.5" cy="242.3" r="1.35" fill="#21908C"/>
<circle cx="48.3" cy="245.9" r="1.35" fill="#21908C"/>
<circle cx="50.6" cy="251.9" r="1.35" fill="#21908C"/>
<circle cx="50.8" cy="254.2" r="1.35" fill="#21908C"/>
<circle cx="50.7" cy="247.1" r="1.35" fill="#21908C"/>
<circle cx="53.4" cy="234.7" r="1.35" fill="#21908C"/>
<circle cx="55.9" cy="239.0" r="1.35" fill="#21908C"/>
<circle cx="51.1" cy="256.9" r="1.35" fill="#21908C"/>
<circle cx="53.8" cy="236.5" r="1.35" fill="#21908C"/>
<circle cx="54.2" cy="232.9" r="1.35" fill="#21908C"/>
<circle cx="56.8" cy="253.3" r="1.35" fill="#21908C"/>
<circle cx="59.8" cy="239.9" r="1.35" fill="#21908C"/>
<circle cx="54.4" cy="240.1" r="1.35" fill="#21908C"/>
<circle cx="51.7" cy="235.7" r="1.35" fill="#21908C"/>
<circle cx="57.0" cy="231.1" r="1.35" fill="#21908C"/>
<circle cx="50.5" cy="237.8" r="1.35" fill="#21908C"/>
<circle cx="49.9" cy="292.7" r="1.35" fill="#21908C"/>
<circle cx="59.2" cy="250.2" r="1.35" fill="#21908C"/>
<circle cx="59.2" cy="237.6" r="1.35" fill="#21908C"/>
<circle cx="57.5" cy="258.9" r="1.35" fill="#21908C"/>
<circle cx="55.2" cy="252.2" r="1.35" fill="#21908C"/>
<circle cx="54.0" cy="235.4" r="1.35" fill="#21908C"/>
<circle cx="53.3" cy="243.5" r="1.35" fill="#21908C"/>
<circle cx="52.5" cy="257.4" r="1.35" fill="#21908C"/>
<circle cx="48.3" cy="237.9" r="1.35" fill="#21908C"/>
<circle cx="57.1" cy="255.7" r="1.35" fill="#21908C"/>
<circle cx="51.6" cy="249.0" r="1.35" fill="#21908C"/>
<circle cx="52.4" cy="249.5" r="1.35" fill="#21908C"/>
<circle cx="51.5" cy="255.4" r="1.35" fill="#21908C"/>
<circle cx="57.9" cy="230.3" r="1.35" fill="#21908C"/>
<circle cx="59.4" cy="236.4" r="1.35" fill="#21908C"/>
<circle cx="51.7" cy="248.1" r="1.35" fill="#21908C"/>
<circle cx="52.8" cy="217.6" r="1.35" fill="#21908C"/>
<circle cx="61.0" cy="234.4" r="1.35" fill="#21908C"/>
<circle cx="53.0" cy="248.3" r="1.35" fill="#21908C"/>
<circle cx="51.1" cy="251.7" r="1.35" fill="#21908C"/>
<circle cx="60.0" cy="271.0" r="1.35" fill="#21908C"/>
<circle cx="53.7" cy="269.6" r="1.35" fill="#21908C"/>
<circle cx="59.5" cy="246.2" r="1.35" fill="#21908C"/>
<circle cx="53.5" cy="241.4" r="1.35" fill="#21908C"/>
<circle cx="57.2" cy="241.1" r="1.35" fill="#21908C"/>
<circle cx="49.4" cy="233.6" r="1.35" fill="#21908C"/>
<circle cx="49.5" cy="251.3" r="1.35" fill="#21908C"/>
<circle cx="55.4" cy="253.5" r="1.35" fill="#21908C"/>
<circle cx="60.1" cy="246.2" r="1.35" fill="#21908C"/>
<circle cx="60.8" cy="250.9" r="1.35" fill="#21908C"/>
<circle cx="49.4" cy="250.1" r="1.35" fill="#21908C"/>
<circle cx="56.6" cy="214.1" r="1.35" fill="#21908C"/>
<circle cx="52.1" cy="236.1" r="1.35" fill="#21908C"/>
<circle cx="58.4" cy="255.1" r="1.35" fill="#21908C"/>
<circle cx="49.1" cy="243.8" r="1.35" fill="#21908C"/>
<circle cx="54.6" cy="241.6" r="1.35" fill="#21908C"/>
<circle cx="48.6" cy="248.5" r="1.35" fill="#21908C"/>
<circle cx="57.4" cy="249.5" r="1.35" fill="#21908C"/>
<circle cx="55.3" cy="235.9" r="1.35" fill="#21908C"/>
<circle cx="51.9" cy="246.5" r="1.35" fill="#21908C"/>
<circle cx="61.3" cy="241.3" r="1.35" fill="#21908C"/>
<circle cx="53.0" cy="245.3" r="1.35" fill="#21908C"/>
<circle cx="54.8" cy="232.2" r="1.35" fill="#21908C"/>
<circle cx="55.5" cy="265.3" r="1.35" fill="#21908C"/>
<circle cx="57.2" cy="242.5" r="1.35" fill="#21908C"/>
<circle cx="57.5" cy="233.3" r="1.35" fill="#21908C"/>
<circle cx="57.9" cy="232.5" r="1.35" fill="#21908C"/>
<circle cx="59.0" cy="244.0" r="1.35" fill="#21908C"/>
<circle cx="48.9" cy="237.1" r="1.35" fill="#21908C"/>
<circle cx="48.6" cy="222.8" r="1.35" fill="#21908C"/>
<circle cx="60.9" cy="246.6" r="1.35" fill="#21908C"/>
<circle cx="52.9" cy="260.9" r="1.35" fill="#21908C"/>
<circle cx="57.6" cy="250.6" r="1.35" fill="#21908C"/>
<circle cx="50.4" cy="242.9" r="1.35" fill="#21908C"/>
<circle cx="53.2" cy="254.7" r="1.35" fill="#21908C"/>
<circle cx="86.9" cy="248.7" r="1.35" fill="#FDE725"/>
<circle cx="94.3" cy="246.4" r="1.35" fill="#FDE725"/>
<circle cx="82.5" cy="254.5" r="1.35" fill="#FDE725"/>
<circle cx="88.7" cy="206.9" r="1.35" fill="#FDE725"/>
<circle cx="94.5" cy="203.1" r="1.35" fill="#FDE725"/>
<circle cx="94.4" cy="244.8" r="1.35" fill="#FDE725"/>
<circle cx="88.7" cy="253.3" r="1.35" fill="#FDE725"/>
<circle cx="82.4" cy="237.0" r="1.35" fill="#FDE725"/>
<circle cx="84.3" cy="251.4" r="1.35" fill="#FDE725"/>
<circle cx="85.6" cy="243.0" r="1.35" fill="#FDE725"/>
<circle cx="85.2" cy="241.6" r="1.35" fill="#FDE725"/>
<circle cx="87.9" cy="234.0" r="1.35" fill="#FDE725"/>
<circle cx="91.8" cy="255.8" r="1.35" fill="#FDE725"/>
<circle cx="86.2" cy="228.8" r="1.35" fill="#FDE725"/>
<circle cx="92.4" cy="232.2" r="1.35" fill="#FDE725"/>
<circle cx="87.2" cy="237.0" r="1.35" fill="#FDE725"/>
<circle cx="90.3" cy="240.8" r="1.35" fill="#FDE725"/>
<circle cx="83.8" cy="242.7" r="1.35" fill="#FDE725"/>
<circle cx="87.2" cy="252.6" r="1.35" fill="#FDE725"/>
<circle cx="84.4" cy="256.6" r="1.35" fill="#FDE725"/>
<circle cx="88.2" cy="239.9" r="1.35" fill="#FDE725"/>
<circle cx="93.2" cy="260.9" r="1.35" fill="#FDE725"/>
<circle cx="86.5" cy="255.0" r="1.35" fill="#FDE725"/>
<circle cx="81.5" cy="247.6" r="1.35" fill="#FDE725"/>
<circle cx="84.1" cy="258.2" r="1.35" fill="#FDE725"/>
<circle cx="94.5" cy="243.6" r="1.35" fill="#FDE725"/>
<circle cx="90.1" cy="246.8" r="1.35" fill="#FDE725"/>
<circle cx="94.8" cy="253.8" r="1.35" fill="#FDE725"/>
<circle cx="82.7" cy="249.3" r="1.35" fill="#FDE725"/>
<circle cx="89.1" cy="234.9" r="1.35" fill="#FDE725"/>
<circle cx="91.8" cy="256.1" r="1.35" fill="#FDE725"/>
<circle cx="85.6" cy="222.0" r="1.35" fill="#FDE725"/>
<circle cx="90.5" cy="267.3" r="1.35" fill="#FDE725"/>
<circle cx="92.0" cy="238.9" r="1.35" fill="#FDE725"/>
<circle cx="88.9" cy="249.0" r="1.35" fill="#FDE725"/>
<circle cx="86.3" cy="248.4" r="1.35" fill="#FDE725"/>
<circle cx="88.9" cy="242.2" r="1.35" fill="#FDE725"/>
<circle cx="85.0" cy="239.2" r="1.35" fill="#FDE725"/>
<circle cx="85.8" cy="267.3" r="1.35" fill="#FDE725"/>
<circle cx="83.3" cy="234.3" r="1.35" fill="#FDE725"/>
<circle cx="90.6" cy="235.3" r="1.35" fill="#FDE725"/>
<circle cx="91.6" cy="253.6" r="1.35" fill="#FDE725"/>
<circle cx="84.4" cy="230.4" r="1.35" fill="#FDE725"/>
<circle cx="88.5" cy="250.5" r="1.35" fill="#FDE725"/>
<circle cx="90.5" cy="245.3" r="1.35" fill="#FDE725"/>
<circle cx="82.7" cy="251.7" r="1.35" fill="#FDE725"/>
<circle cx="94.4" cy="255.1" r="1.35" fill="#FDE725"/>
<circle cx="89.2" cy="252.1" r="1.35" fill="#FDE725"/>
<circle cx="90.5" cy="247.7" r="1.35" fill="#FDE725"/>
<circle cx="92.5" cy="223.9" r="1.35" fill="#FDE725"/>
<circle cx="93.1" cy="244.3" r="1.35" fill="#FDE725"/>
<circle cx="82.7" cy="250.0" r="1.35" fill="#FDE725"/>
<circle cx="90.9" cy="258.7" r="1.35" fill="#FDE725"/>
<circle cx="93.6" cy="241.5" r="1.35" fill="#FDE725"/>
<circle cx="92.7" cy="238.0" r="1.35" fill="#FDE725"/>
<circle cx="91.6" cy="205.4" r="1.35" fill="#FDE725"/>
<circle cx="93.4" cy="249.6" r="1.35" fill="#FDE725"/>
<circle cx="86.2" cy="226.8" r="1.35" fill="#FDE725"/>
<circle cx="93.6" cy="233.0" r="1.35" fill="#FDE725"/>
<circle cx="82.3" cy="248.1" r="1.35" fill="#FDE725"/>
<circle cx="86.8" cy="252.3" r="1.35" fill="#FDE725"/>
<circle cx="85.8" cy="240.3" r="1.35" fill="#FDE725"/>
<circle cx="85.9" cy="247.1" r="1.35" fill="#FDE725"/>
<circle cx="91.7" cy="220.5" r="1.35" fill="#FDE725"/>
<circle cx="87.2" cy="236.0" r="1.35" fill="#FDE725"/>
<circle cx="83.4" cy="264.8" r="1.35" fill="#FDE725"/>
<circle cx="89.0" cy="230.6" r="1.35" fill="#FDE725"/>
<circle cx="81.3" cy="257.4" r="1.35" fill="#FDE725"/>
<circle cx="84.6" cy="250.4" r="1.35" fill="#FDE725"/>
<circle cx="93.8" cy="262.1" r="1.35" fill="#FDE725"/>
<circle cx="93.4" cy="259.6" r="1.35" fill="#FDE725"/>
<circle cx="87.9" cy="250.9" r="1.35" fill="#FDE725"/>
<circle cx="92.3" cy="245.1" r="1.35" fill="#FDE725"/>
<circle cx="91.1" cy="237.6" r="1.35" fill="#FDE725"/>
<circle cx="85.2" cy="245.9" r="1.35" fill="#FDE725"/>
<rect x="34.50" y="180.00" width="73.60" height="128.50" fill="none" stroke="#404040" stroke-width="1.2"/>
<rect x="117.15" y="180.00" width="73.60" height="128.50" fill="#fff"/>
<line x1="117.15" x2="190.75" y1="185.70" y2="185.70" stroke="#ebebeb" stroke-width="0.7"/>
<line x1="117.15" x2="190.75" y1="209.10" y2="209.10" stroke="#ebebeb" stroke-width="0.7"/>
<line x1="117.15" x2="190.75" y1="232.50" y2="232.50" stroke="#ebebeb" stroke-width="0.7"/>
<line x1="117.15" x2="190.75" y1="255.90" y2="255.90" stroke="#ebebeb" stroke-width="0.7"/>
<line x1="117.15" x2="190.75" y1="279.30" y2="279.30" stroke="#ebebeb" stroke-width="0.7"/>
<line x1="117.15" x2="190.75" y1="302.70" y2="302.70" stroke="#ebebeb" stroke-width="0.7"/>
<line x1="117.15" x2="190.75" y1="197.40" y2="197.40" stroke="#e1e1e1" stroke-width="1.2"/>
<line x1="117.15" x2="190.75" y1="220.80" y2="220.80" stroke="#e1e1e1" stroke-width="1.2"/>
<line x1="117.15" x2="190.75" y1="244.30" y2="244.30" stroke="#e1e1e1" stroke-width="1.2"/>
<line x1="117.15" x2="190.75" y1="267.80" y2="267.80" stroke="#e1e1e1" stroke-width="1.2"/>
<line x1="117.15" x2="190.75" y1="291.30" y2="291.30" stroke="#e1e1e1" stroke-width="1.2"/>
<line x1="137.22" x2="137.22" y1="219.00" y2="237.80" stroke="#000" stroke-width="1.6"/>
<line x1="137.22" x2="137.22" y1="252.30" y2="268.20" stroke="#000" stroke-width="1.6"/>
<rect x="124.68" y="237.80" width="25.09" height="14.50" fill="#fff" stroke="#000" stroke-width="1.6"/>
<line x1="124.68" x2="149.77" y1="243.60" y2="243.60" stroke="#000" stroke-width="3.1"/>
<line x1="170.68" x2="170.68" y1="226.20" y2="237.80" stroke="#000" stroke-width="1.6"/>
<line x1="170.68" x2="170.68" y1="252.30" y2="260.90" stroke="#000" stroke-width="1.6"/>
<rect x="158.13" y="237.80" width="25.09" height="14.50" fill="#fff" stroke="#000" stroke-width="1.6"/>
<line x1="158.13" x2="183.22" y1="247.90" y2="247.90" stroke="#000" stroke-width="3.1"/>
<circle cx="133.7" cy="244.0" r="1.35" fill="#21908C"/>
<circle cx="141.8" cy="251.1" r="1.35" fill="#21908C"/>
<circle cx="144.1" cy="238.8" r="1.35" fill="#21908C"/>
<circle cx="130.6" cy="251.3" r="1.35" fill="#21908C"/>
<circle cx="142.7" cy="242.4" r="1.35" fill="#21908C"/>
<circle cx="132.1" cy="244.3" r="1.35" fill="#21908C"/>
<circle cx="131.7" cy="234.7" r="1.35" fill="#21908C"/>
<circle cx="139.3" cy="254.7" r="1.35" fill="#21908C"/>
<circle cx="130.7" cy="249.9" r="1.35" fill="#21908C"/>
<circle cx="143.3" cy="258.6" r="1.35" fill="#21908C"/>
<circle cx="140.4" cy="230.0" r="1.35" fill="#21908C"/>
<circle cx="134.7" cy="242.4" r="1.35" fill="#21908C"/>
<circle cx="138.0" cy="256.1" r="1.35" fill="#21908C"/>
<circle cx="143.9" cy="253.1" r="1.35" fill="#21908C"/>
<circle cx="131.6" cy="233.9" r="1.35" fill="#21908C"/>
<circle cx="135.1" cy="252.6" r="1.35" fill="#21908C"/>
<circle cx="143.0" cy="233.2" r="1.35" fill="#21908C"/>
<circle cx="141.3" cy="235.4" r="1.35" fill="#21908C"/>
<circle cx="143.0" cy="242.1" r="1.35" fill="#21908C"/>
<circle cx="137.3" cy="285.5" r="1.35" fill="#21908C"/>
<circle cx="139.6" cy="237.9" r="1.35" fill="#21908C"/>
<circle cx="142.7" cy="238.4" r="1.35" fill="#21908C"/>
<circle cx="144.0" cy="249.1" r="1.35" fill="#21908C"/>
<circle cx="134.5" cy="241.3" r="1.35" fill="#21908C"/>
<circle cx="133.6" cy="243.0" r="1.35" fill="#21908C"/>
<circle cx="131.0" cy="243.1" r="1.35" fill="#21908C"/>
<circle cx="138.2" cy="231.9" r="1.35" fill="#21908C"/>
<circle cx="133.8" cy="227.7" r="1.35" fill="#21908C"/>
<circle cx="143.3" cy="249.3" r="1.35" fill="#21908C"/>
<circle cx="143.1" cy="241.0" r="1.35" fill="#21908C"/>
<circle cx="141.5" cy="256.5" r="1.35" fill="#21908C"/>
<circle cx="139.8" cy="241.9" r="1.35" fill="#21908C"/>
<circle cx="142.3" cy="253.0" r="1.35" fill="#21908C"/>
<circle cx="141.1" cy="238.2" r="1.35" fill="#21908C"/>
<circle cx="134.8" cy="246.5" r="1.35" fill="#21908C"/>
<circle cx="133.5" cy="253.6" r="1.35" fill="#21908C"/>
<circle cx="130.7" cy="247.2" r="1.35" fill="#21908C"/>
<circle cx="135.3" cy="255.4" r="1.35" fill="#21908C"/>
<circle cx="139.3" cy="250.1" r="1.35" fill="#21908C"/>
<circle cx="132.4" cy="257.5" r="1.35" fill="#21908C"/>
<circle cx="141.3" cy="235.2" r="1.35" fill="#21908C"/>
<circle cx="135.3" cy="252.4" r="1.35" fill="#21908C"/>
<circle cx="140.4" cy="220.8" r="1.35" fill="#21908C"/>
<circle cx="134.9" cy="237.5" r="1.35" fill="#21908C"/>
<circle cx="138.7" cy="229.4" r="1.35" fill="#21908C"/>
<circle cx="135.0" cy="236.5" r="1.35" fill="#21908C"/>
<circle cx="141.3" cy="248.3" r="1.35" fill="#21908C"/>
<circle cx="140.1" cy="219.0" r="1.35" fill="#21908C"/>
<circle cx="142.3" cy="263.5" r="1.35" fill="#21908C"/>
<circle cx="141.1" cy="265.6" r="1.35" fill="#21908C"/>
<circle cx="137.6" cy="251.7" r="1.35" fill="#21908C"/>
<circle cx="132.2" cy="232.6" r="1.35" fill="#21908C"/>
<circle cx="130.4" cy="245.7" r="1.35" fill="#21908C"/>
<circle cx="136.8" cy="241.5" r="1.35" fill="#21908C"/>
<circle cx="132.0" cy="259.1" r="1.35" fill="#21908C"/>
<circle cx="133.8" cy="240.3" r="1.35" fill="#21908C"/>
<circle cx="132.7" cy="247.9" r="1.35" fill="#21908C"/>
<circle cx="142.1" cy="236.6" r="1.35" fill="#21908C"/>
<circle cx="131.3" cy="235.8" r="1.35" fill="#21908C"/>
<circle cx="133.9" cy="260.8" r="1.35" fill="#21908C"/>
<circle cx="140.5" cy="261.7" r="1.35" fill="#21908C"/>
<circle cx="130.8" cy="254.2" r="1.35" fill="#21908C"/>
<circle cx="142.4" cy="237.0" r="1.35" fill="#21908C"/>
<circle cx="133.2" cy="238.9" r="1.35" fill="#21908C"/>
<circle cx="137.2" cy="243.7" r="1.35" fill="#21908C"/>
<circle cx="134.1" cy="255.8" r="1.35" fill="#21908C"/>
<circle cx="132.3" cy="240.0" r="1.35" fill="#21908C"/>
<circle cx="138.7" cy="247.4" r="1.35" fill="#21908C"/>
<circle cx="131.3" cy="240.9" r="1.35" fill="#21908C"/>
<circle cx="134.7" cy="226.0" r="1.35" fill="#21908C"/>
<circle cx="139.4" cy="240.6" r="1.35" fill="#21908C"/>
<circle cx="133.2" cy="259.8" r="1.35" fill="#21908C"/>
<circle cx="135.8" cy="239.5" r="1.35" fill="#21908C"/>
<circle cx="140.1" cy="255.0" r="1.35" fill="#21908C"/>
<circle cx="134.8" cy="246.1" r="1.35" fill="#21908C"/>
<circle cx="131.3" cy="244.7" r="1.35" fill="#21908C"/>
<circle cx="141.5" cy="253.9" r="1.35" fill="#21908C"/>
<circle cx="143.1" cy="239.8" r="1.35" fill="#21908C"/>
<circle cx="135.6" cy="230.4" r="1.35" fill="#21908C"/>
<circle cx="135.2" cy="268.2" r="1.35" fill="#21908C"/>
<circle cx="139.2" cy="245.9" r="1.35" fill="#21908C"/>
<circle cx="144.0" cy="231.1" r="1.35" fill="#21908C"/>
<circle cx="136.8" cy="222.7" r="1.35" fill="#21908C"/>
<circle cx="136.2" cy="234.0" r="1.35" fill="#21908C"/>
<circle cx="137.0" cy="226.6" r="1.35" fill="#21908C"/>
<circle cx="140.8" cy="242.8" r="1.35" fill="#21908C"/>
<circle cx="136.4" cy="268.2" r="1.35" fill="#21908C"/>
<circle cx="138.8" cy="248.4" r="1.35" fill="#21908C"/>
<circle cx="138.3" cy="245.3" r="1.35" fill="#21908C"/>
<circle cx="142.6" cy="243.5" r="1.35" fill="#21908C"/>
<circle cx="135.9" cy="257.8" r="1.35" fill="#21908C"/>
<circle cx="139.6" cy="239.3" r="1.35" fill="#21908C"/>
<circle cx="136.1" cy="250.5" r="1.35" fill="#21908C"/>
<circle cx="165.6" cy="228.4" r="1.35" fill="#FDE725"/>
<circle cx="164.2" cy="258.4" r="1.35" fill="#FDE725"/>
<circle cx="165.9" cy="251.8" r="1.35" fill="#FDE725"/>
<circle cx="165.3" cy="234.9" r="1.35" fill="#FDE725"/>
<circle cx="164.0" cy="246.0" r="1.35" fill="#FDE725"/>
<circle cx="168.3" cy="249.7" r="1.35" fill="#FDE725"/>
<circle cx="177.2" cy="236.5" r="1.35" fill="#FDE725"/>
<circle cx="177.2" cy="243.9" r="1.35" fill="#FDE725"/>
<circle cx="176.1" cy="233.8" r="1.35" fill="#FDE725"/>
<circle cx="171.3" cy="239.0" r="1.35" fill="#FDE725"/>
<circle cx="173.8" cy="233.4" r="1.35" fill="#FDE725"/>
<circle cx="164.8" cy="244.4" r="1.35" fill="#FDE725"/>
<circle cx="176.2" cy="253.1" r="1.35" fill="#FDE725"/>
<circle cx="168.3" cy="248.7" r="1.35" fill="#FDE725"/>
<circle cx="171.0" cy="301.4" r="1.35" fill="#FDE725"/>
<circle cx="171.2" cy="251.3" r="1.35" fill="#FDE725"/>
<circle cx="169.4" cy="260.9" r="1.35" fill="#FDE725"/>
<circle cx="171.2" cy="237.4" r="1.35" fill="#FDE725"/>
<circle cx="175.2" cy="256.2" r="1.35" fill="#FDE725"/>
<circle cx="177.5" cy="250.2" r="1.35" fill="#FDE725"/>
<circle cx="171.7" cy="231.9" r="1.35" fill="#FDE725"/>
<circle cx="177.0" cy="241.7" r="1.35" fill="#FDE725"/>
<circle cx="175.9" cy="252.6" r="1.35" fill="#FDE725"/>
<circle cx="167.5" cy="250.9" r="1.35" fill="#FDE725"/>
<circle cx="173.2" cy="260.9" r="1.35" fill="#FDE725"/>
<circle cx="163.8" cy="236.9" r="1.35" fill="#FDE725"/>
<circle cx="177.2" cy="241.9" r="1.35" fill="#FDE725"/>
<circle cx="164.4" cy="247.6" r="1.35" fill="#FDE725"/>
<circle cx="176.9" cy="248.5" r="1.35" fill="#FDE725"/>
<circle cx="171.1" cy="240.6" r="1.35" fill="#FDE725"/>
<circle cx="177.1" cy="246.6" r="1.35" fill="#FDE725"/>
<circle cx="165.0" cy="257.0" r="1.35" fill="#FDE725"/>
<circle cx="173.9" cy="255.1" r="1.35" fill="#FDE725"/>
<circle cx="172.4" cy="226.2" r="1.35" fill="#FDE725"/>
<circle cx="177.4" cy="254.2" r="1.35" fill="#FDE725"/>
<circle cx="170.0" cy="249.1" r="1.35" fill="#FDE725"/>
<circle cx="171.5" cy="226.2" r="1.35" fill="#FDE725"/>
<circle cx="167.1" cy="253.6" r="1.35" fill="#FDE725"/>
<rect x="117.15" y="180.00" width="73.60" height="128.50" fill="none" stroke="#404040" stroke-width="1.2"/>
<rect x="199.80" y="180.00" width="73.60" height="128.50" fill="#fff"/>
<line x1="199.80" x2="273.40" y1="185.70" y2="185.70" stroke="#ebebeb" stroke-width="0.7"/>
<line x1="199.80" x2="273.40" y1="209.10" y2="209.10" stroke="#ebebeb" stroke-width="0.7"/>
<line x1="199.80" x2="273.40" y1="232.50" y2="232.50" stroke="#ebebeb" stroke-width="0.7"/>
<line x1="199.80" x2="273.40" y1="255.90" y2="255.90" stroke="#ebebeb" stroke-width="0.7"/>
<line x1="199.80" x2="273.40" y1="279.30" y2="279.30" stroke="#ebebeb" stroke-width="0.7"/>
<line x1="199.80" x2="273.40" y1="302.70" y2="302.70" stroke="#ebebeb" stroke-width="0.7"/>
<line x1="199.80" x2="273.40" y1="197.40" y2="197.40" stroke="#e1e1e1" stroke-width="1.2"/>
<line x1="199.80" x2="273.40" y1="220.80" y2="220.80" stroke="#e1e1e1" stroke-width="1.2"/>
<line x1="199.80" x2="273.40" y1="244.30" y2="244.30" stroke="#e1e1e1" stroke-width="1.2"/>
<line x1="199.80" x2="273.40" y1="267.80" y2="267.80" stroke="#e1e1e1" stroke-width="1.2"/>
<line x1="199.80" x2="273.40" y1="291.30" y2="291.30" stroke="#e1e1e1" stroke-width="1.2"/>
<line x1="219.87" x2="219.87" y1="223.40" y2="237.20" stroke="#000" stroke-width="1.6"/>
<line x1="219.87" x2="219.87" y1="250.80" y2="260.90" stroke="#000" stroke-width="1.6"/>
<rect x="207.33" y="237.20" width="25.09" height="13.60" fill="#fff" stroke="#000" stroke-width="1.6"/>
<line x1="207.33" x2="232.42" y1="244.20" y2="244.20" stroke="#000" stroke-width="3.1"/>
<line x1="253.33" x2="253.33" y1="213.20" y2="237.80" stroke="#000" stroke-width="1.6"/>
<line x1="253.33" x2="253.33" y1="256.60" y2="273.90" stroke="#000" stroke-width="1.6"/>
<rect x="240.78" y="237.80" width="25.09" height="18.80" fill="#fff" stroke="#000" stroke-width="1.6"/>
<line x1="240.78" x2="265.87" y1="244.20" y2="244.20" stroke="#000" stroke-width="3.1"/>
<circle cx="226.0" cy="231.0" r="1.35" fill="#21908C"/>
<circle cx="218.6" cy="233.6" r="1.35" fill="#21908C"/>
<circle cx="217.2" cy="239.2" r="1.35" fill="#21908C"/>
<circle cx="219.0" cy="255.7" r="1.35" fill="#21908C"/>
<circle cx="222.9" cy="241.9" r="1.35" fill="#21908C"/>
<circle cx="224.0" cy="238.0" r="1.35" fill="#21908C"/>
<circle cx="213.1" cy="236.8" r="1.35" fill="#21908C"/>
<circle cx="221.4" cy="242.8" r="1.35" fill="#21908C"/>
<circle cx="215.7" cy="251.2" r="1.35" fill="#21908C"/>
<circle cx="213.7" cy="252.1" r="1.35" fill="#21908C"/>
<circle cx="220.2" cy="240.3" r="1.35" fill="#21908C"/>
<circle cx="226.5" cy="252.7" r="1.35" fill="#21908C"/>
<circle cx="218.4" cy="254.1" r="1.35" fill="#21908C"/>
<circle cx="221.7" cy="236.0" r="1.35" fill="#21908C"/>
<circle cx="220.6" cy="238.3" r="1.35" fill="#21908C"/>
<circle cx="221.6" cy="237.6" r="1.35" fill="#21908C"/>
<circle cx="224.7" cy="250.5" r="1.35" fill="#21908C"/>
<circle cx="223.1" cy="285.5" r="1.35" fill="#21908C"/>
<circle cx="214.9" cy="252.0" r="1.35" fill="#21908C"/>
<circle cx="226.4" cy="242.5" r="1.35" fill="#21908C"/>
<circle cx="222.8" cy="260.9" r="1.35" fill="#21908C"/>
<circle cx="215.3" cy="227.9" r="1.35" fill="#21908C"/>
<circle cx="214.8" cy="247.5" r="1.35" fill="#21908C"/>
<circle cx="213.2" cy="250.1" r="1.35" fill="#21908C"/>
<circle cx="216.3" cy="243.1" r="1.35" fill="#21908C"/>
<circle cx="222.6" cy="246.7" r="1.35" fill="#21908C"/>
<circle cx="215.4" cy="236.5" r="1.35" fill="#21908C"/>
<circle cx="225.8" cy="258.8" r="1.35" fill="#21908C"/>
<circle cx="216.6" cy="238.6" r="1.35" fill="#21908C"/>
<circle cx="225.6" cy="239.6" r="1.35" fill="#21908C"/>
<circle cx="223.9" cy="245.9" r="1.35" fill="#21908C"/>
<circle cx="226.5" cy="243.9" r="1.35" fill="#21908C"/>
<circle cx="225.7" cy="248.6" r="1.35" fill="#21908C"/>
<circle cx="217.4" cy="252.5" r="1.35" fill="#21908C"/>
<circle cx="219.1" cy="235.7" r="1.35" fill="#21908C"/>
<circle cx="224.7" cy="249.6" r="1.35" fill="#21908C"/>
<circle cx="218.1" cy="234.2" r="1.35" fill="#21908C"/>
<circle cx="214.2" cy="253.4" r="1.35" fill="#21908C"/>
<circle cx="213.9" cy="225.4" r="1.35" fill="#21908C"/>
<circle cx="213.1" cy="248.0" r="1.35" fill="#21908C"/>
<circle cx="213.5" cy="242.1" r="1.35" fill="#21908C"/>
<circle cx="215.8" cy="244.4" r="1.35" fill="#21908C"/>
<circle cx="222.1" cy="253.8" r="1.35" fill="#21908C"/>
<circle cx="216.4" cy="255.1" r="1.35" fill="#21908C"/>
<circle cx="215.7" cy="248.1" r="1.35" fill="#21908C"/>
<circle cx="217.4" cy="232.8" r="1.35" fill="#21908C"/>
<circle cx="215.8" cy="257.0" r="1.35" fill="#21908C"/>
<circle cx="214.2" cy="240.7" r="1.35" fill="#21908C"/>
<circle cx="222.1" cy="234.5" r="1.35" fill="#21908C"/>
<circle cx="222.3" cy="229.4" r="1.35" fill="#21908C"/>
<circle cx="214.9" cy="223.4" r="1.35" fill="#21908C"/>
<circle cx="223.3" cy="251.6" r="1.35" fill="#21908C"/>
<circle cx="220.4" cy="253.0" r="1.35" fill="#21908C"/>
<circle cx="213.9" cy="247.1" r="1.35" fill="#21908C"/>
<circle cx="225.8" cy="260.9" r="1.35" fill="#21908C"/>
<circle cx="223.8" cy="241.3" r="1.35" fill="#21908C"/>
<circle cx="214.1" cy="245.0" r="1.35" fill="#21908C"/>
<circle cx="221.0" cy="244.3" r="1.35" fill="#21908C"/>
<circle cx="217.5" cy="248.9" r="1.35" fill="#21908C"/>
<circle cx="216.8" cy="235.4" r="1.35" fill="#21908C"/>
<circle cx="226.7" cy="246.8" r="1.35" fill="#21908C"/>
<circle cx="217.1" cy="235.0" r="1.35" fill="#21908C"/>
<circle cx="219.7" cy="237.0" r="1.35" fill="#21908C"/>
<circle cx="219.2" cy="250.8" r="1.35" fill="#21908C"/>
<circle cx="226.2" cy="240.9" r="1.35" fill="#21908C"/>
<circle cx="214.8" cy="243.6" r="1.35" fill="#21908C"/>
<circle cx="222.1" cy="230.1" r="1.35" fill="#21908C"/>
<circle cx="225.9" cy="245.5" r="1.35" fill="#21908C"/>
<circle cx="219.3" cy="249.3" r="1.35" fill="#21908C"/>
<circle cx="224.9" cy="233.0" r="1.35" fill="#21908C"/>
<circle cx="222.4" cy="254.8" r="1.35" fill="#21908C"/>
<circle cx="218.0" cy="227.1" r="1.35" fill="#21908C"/>
<circle cx="218.4" cy="245.2" r="1.35" fill="#21908C"/>
<circle cx="222.0" cy="232.2" r="1.35" fill="#21908C"/>
<circle cx="217.2" cy="256.5" r="1.35" fill="#21908C"/>
<circle cx="224.9" cy="251.3" r="1.35" fill="#21908C"/>
<circle cx="216.6" cy="239.8" r="1.35" fill="#21908C"/>
<circle cx="220.7" cy="246.0" r="1.35" fill="#21908C"/>
<circle cx="251.9" cy="242.5" r="1.35" fill="#FDE725"/>
<circle cx="247.9" cy="241.2" r="1.35" fill="#FDE725"/>
<circle cx="256.9" cy="263.4" r="1.35" fill="#FDE725"/>
<circle cx="257.2" cy="236.2" r="1.35" fill="#FDE725"/>
<circle cx="255.5" cy="232.3" r="1.35" fill="#FDE725"/>
<circle cx="257.1" cy="259.4" r="1.35" fill="#FDE725"/>
<circle cx="246.5" cy="273.9" r="1.35" fill="#FDE725"/>
<circle cx="255.6" cy="245.1" r="1.35" fill="#FDE725"/>
<circle cx="257.4" cy="222.0" r="1.35" fill="#FDE725"/>
<circle cx="248.7" cy="273.9" r="1.35" fill="#FDE725"/>
<circle cx="250.0" cy="225.0" r="1.35" fill="#FDE725"/>
<circle cx="258.0" cy="246.6" r="1.35" fill="#FDE725"/>
<circle cx="255.9" cy="214.3" r="1.35" fill="#FDE725"/>
<circle cx="251.3" cy="234.5" r="1.35" fill="#FDE725"/>
<circle cx="250.3" cy="251.6" r="1.35" fill="#FDE725"/>
<circle cx="249.7" cy="253.5" r="1.35" fill="#FDE725"/>
<circle cx="250.0" cy="247.0" r="1.35" fill="#FDE725"/>
<circle cx="255.6" cy="230.2" r="1.35" fill="#FDE725"/>
<circle cx="248.9" cy="285.5" r="1.35" fill="#FDE725"/>
<circle cx="250.6" cy="240.0" r="1.35" fill="#FDE725"/>
<circle cx="247.9" cy="253.9" r="1.35" fill="#FDE725"/>
<circle cx="248.1" cy="258.5" r="1.35" fill="#FDE725"/>
<circle cx="254.4" cy="204.6" r="1.35" fill="#FDE725"/>
<circle cx="247.4" cy="213.2" r="1.35" fill="#FDE725"/>
<circle cx="252.7" cy="242.0" r="1.35" fill="#FDE725"/>
<circle cx="257.3" cy="197.9" r="1.35" fill="#FDE725"/>
<circle cx="249.4" cy="228.2" r="1.35" fill="#FDE725"/>
<circle cx="249.1" cy="239.6" r="1.35" fill="#FDE725"/>
<circle cx="247.8" cy="239.4" r="1.35" fill="#FDE725"/>
<circle cx="248.9" cy="264.9" r="1.35" fill="#FDE725"/>
<circle cx="257.0" cy="238.2" r="1.35" fill="#FDE725"/>
<circle cx="247.0" cy="242.8" r="1.35" fill="#FDE725"/>
<circle cx="256.6" cy="244.7" r="1.35" fill="#FDE725"/>
<circle cx="247.9" cy="258.0" r="1.35" fill="#FDE725"/>
<circle cx="253.2" cy="235.9" r="1.35" fill="#FDE725"/>
<circle cx="250.3" cy="237.0" r="1.35" fill="#FDE725"/>
<circle cx="259.0" cy="236.9" r="1.35" fill="#FDE725"/>
<circle cx="254.5" cy="237.4" r="1.35" fill="#FDE725"/>
<circle cx="251.0" cy="282.6" r="1.35" fill="#FDE725"/>
<circle cx="249.0" cy="233.5" r="1.35" fill="#FDE725"/>
<circle cx="249.2" cy="217.4" r="1.35" fill="#FDE725"/>
<circle cx="250.2" cy="248.3" r="1.35" fill="#FDE725"/>
<circle cx="247.5" cy="244.1" r="1.35" fill="#FDE725"/>
<circle cx="252.3" cy="257.7" r="1.35" fill="#FDE725"/>
<circle cx="247.4" cy="261.0" r="1.35" fill="#FDE725"/>
<circle cx="252.1" cy="243.4" r="1.35" fill="#FDE725"/>
<circle cx="249.7" cy="247.6" r="1.35" fill="#FDE725"/>
<circle cx="251.3" cy="240.4" r="1.35" fill="#FDE725"/>
<circle cx="257.6" cy="241.7" r="1.35" fill="#FDE725"/>
<circle cx="249.3" cy="235.3" r="1.35" fill="#FDE725"/>
<circle cx="246.5" cy="245.6" r="1.35" fill="#FDE725"/>
<circle cx="254.3" cy="249.7" r="1.35" fill="#FDE725"/>
<circle cx="249.3" cy="255.9" r="1.35" fill="#FDE725"/>
<circle cx="257.4" cy="254.6" r="1.35" fill="#FDE725"/>
<circle cx="257.1" cy="261.9" r="1.35" fill="#FDE725"/>
<circle cx="248.0" cy="242.4" r="1.35" fill="#FDE725"/>
<circle cx="256.5" cy="253.0" r="1.35" fill="#FDE725"/>
<circle cx="259.9" cy="230.5" r="1.35" fill="#FDE725"/>
<circle cx="249.4" cy="259.1" r="1.35" fill="#FDE725"/>
<circle cx="258.9" cy="238.7" r="1.35" fill="#FDE725"/>
<circle cx="257.7" cy="260.1" r="1.35" fill="#FDE725"/>
<circle cx="248.5" cy="270.6" r="1.35" fill="#FDE725"/>
<circle cx="258.0" cy="256.9" r="1.35" fill="#FDE725"/>
<circle cx="252.2" cy="243.8" r="1.35" fill="#FDE725"/>
<circle cx="249.2" cy="237.9" r="1.35" fill="#FDE725"/>
<circle cx="259.3" cy="265.8" r="1.35" fill="#FDE725"/>
<circle cx="259.1" cy="216.0" r="1.35" fill="#FDE725"/>
<circle cx="250.6" cy="239.1" r="1.35" fill="#FDE725"/>
<circle cx="250.0" cy="250.3" r="1.35" fill="#FDE725"/>
<circle cx="253.7" cy="235.7" r="1.35" fill="#FDE725"/>
<circle cx="247.6" cy="256.7" r="1.35" fill="#FDE725"/>
<circle cx="260.1" cy="252.0" r="1.35" fill="#FDE725"/>
<circle cx="249.2" cy="233.2" r="1.35" fill="#FDE725"/>
<circle cx="251.0" cy="240.9" r="1.35" fill="#FDE725"/>
<circle cx="247.2" cy="197.3" r="1.35" fill="#FDE725"/>
<circle cx="252.0" cy="234.2" r="1.35" fill="#FDE725"/>
<circle cx="250.9" cy="249.2" r="1.35" fill="#FDE725"/>
<circle cx="246.9" cy="268.1" r="1.35" fill="#FDE725"/>
<circle cx="250.6" cy="262.7" r="1.35" fill="#FDE725"/>
<circle cx="248.6" cy="231.6" r="1.35" fill="#FDE725"/>
<circle cx="247.8" cy="261.3" r="1.35" fill="#FDE725"/>
<rect x="199.80" y="180.00" width="73.60" height="128.50" fill="none" stroke="#404040" stroke-width="1.2"/>
<rect x="282.45" y="180.00" width="73.60" height="128.50" fill="#fff"/>
<line x1="282.45" x2="356.05" y1="185.70" y2="185.70" stroke="#ebebeb" stroke-width="0.7"/>
<line x1="282.45" x2="356.05" y1="209.10" y2="209.10" stroke="#ebebeb" stroke-width="0.7"/>
<line x1="282.45" x2="356.05" y1="232.50" y2="232.50" stroke="#ebebeb" stroke-width="0.7"/>
<line x1="282.45" x2="356.05" y1="255.90" y2="255.90" stroke="#ebebeb" stroke-width="0.7"/>
<line x1="282.45" x2="356.05" y1="279.30" y2="279.30" stroke="#ebebeb" stroke-width="0.7"/>
<line x1="282.45" x2="356.05" y1="302.70" y2="302.70" stroke="#ebebeb" stroke-width="0.7"/>
<line x1="282.45" x2="356.05" y1="197.40" y2="197.40" stroke="#e1e1e1" stroke-width="1.2"/>
<line x1="282.45" x2="356.05" y1="220.80" y2="220.80" stroke="#e1e1e1" stroke-width="1.2"/>
<line x1="282.45" x2="356.05" y1="244.30" y2="244.30" stroke="#e1e1e1" stroke-width="1.2"/>
<line x1="282.45" x2="356.05" y1="267.80" y2="267.80" stroke="#e1e1e1" stroke-width="1.2"/>
<line x1="282.45" x2="356.05" y1="291.30" y2="291.30" stroke="#e1e1e1" stroke-width="1.2"/>
<line x1="302.52" x2="302.52" y1="223.40" y2="238.70" stroke="#000" stroke-width="1.6"/>
<line x1="302.52" x2="302.52" y1="250.00" y2="263.80" stroke="#000" stroke-width="1.6"/>
<rect x="289.98" y="238.70" width="25.09" height="11.30" fill="#fff" stroke="#000" stroke-width="1.6"/>
<line x1="289.98" x2="315.07" y1="244.20" y2="244.20" stroke="#000" stroke-width="3.1"/>
<line x1="335.98" x2="335.98" y1="222.80" y2="238.70" stroke="#000" stroke-width="1.6"/>
<line x1="335.98" x2="335.98" y1="250.80" y2="266.10" stroke="#000" stroke-width="1.6"/>
<rect x="323.43" y="238.70" width="25.09" height="12.10" fill="#fff" stroke="#000" stroke-width="1.6"/>
<line x1="323.43" x2="348.52" y1="245.00" y2="245.00" stroke="#000" stroke-width="3.1"/>
<circle cx="305.0" cy="253.0" r="1.35" fill="#21908C"/>
<circle cx="296.6" cy="246.8" r="1.35" fill="#21908C"/>
<circle cx="301.9" cy="236.0" r="1.35" fill="#21908C"/>
<circle cx="304.5" cy="240.7" r="1.35" fill="#21908C"/>
<circle cx="304.3" cy="238.0" r="1.35" fill="#21908C"/>
<circle cx="297.1" cy="256.3" r="1.35" fill="#21908C"/>
<circle cx="301.2" cy="250.1" r="1.35" fill="#21908C"/>
<circle cx="296.2" cy="255.8" r="1.35" fill="#21908C"/>
<circle cx="306.7" cy="248.5" r="1.35" fill="#21908C"/>
<circle cx="298.7" cy="233.2" r="1.35" fill="#21908C"/>
<circle cx="303.9" cy="252.2" r="1.35" fill="#21908C"/>
<circle cx="307.1" cy="234.9" r="1.35" fill="#21908C"/>
<circle cx="308.0" cy="251.1" r="1.35" fill="#21908C"/>
<circle cx="299.5" cy="241.9" r="1.35" fill="#21908C"/>
<circle cx="298.7" cy="252.8" r="1.35" fill="#21908C"/>
<circle cx="298.6" cy="257.9" r="1.35" fill="#21908C"/>
<circle cx="296.8" cy="228.9" r="1.35" fill="#21908C"/>
<circle cx="299.4" cy="252.7" r="1.35" fill="#21908C"/>
<circle cx="299.1" cy="236.2" r="1.35" fill="#21908C"/>
<circle cx="305.3" cy="229.8" r="1.35" fill="#21908C"/>
<circle cx="307.9" cy="239.4" r="1.35" fill="#21908C"/>
<circle cx="297.1" cy="243.9" r="1.35" fill="#21908C"/>
<circle cx="301.1" cy="234.1" r="1.35" fill="#21908C"/>
<circle cx="308.9" cy="244.2" r="1.35" fill="#21908C"/>
<circle cx="297.6" cy="240.2" r="1.35" fill="#21908C"/>
<circle cx="299.9" cy="242.8" r="1.35" fill="#21908C"/>
<circle cx="306.1" cy="245.0" r="1.35" fill="#21908C"/>
<circle cx="306.0" cy="239.6" r="1.35" fill="#21908C"/>
<circle cx="296.0" cy="263.8" r="1.35" fill="#21908C"/>
<circle cx="300.3" cy="223.4" r="1.35" fill="#21908C"/>
<circle cx="297.7" cy="250.7" r="1.35" fill="#21908C"/>
<circle cx="297.2" cy="247.4" r="1.35" fill="#21908C"/>
<circle cx="300.1" cy="243.7" r="1.35" fill="#21908C"/>
<circle cx="301.8" cy="244.6" r="1.35" fill="#21908C"/>
<circle cx="304.6" cy="251.5" r="1.35" fill="#21908C"/>
<circle cx="305.3" cy="253.6" r="1.35" fill="#21908C"/>
<circle cx="301.2" cy="269.0" r="1.35" fill="#21908C"/>
<circle cx="296.5" cy="249.5" r="1.35" fill="#21908C"/>
<circle cx="303.2" cy="278.8" r="1.35" fill="#21908C"/>
<circle cx="298.5" cy="258.9" r="1.35" fill="#21908C"/>
<circle cx="299.3" cy="246.7" r="1.35" fill="#21908C"/>
<circle cx="300.9" cy="241.6" r="1.35" fill="#21908C"/>
<circle cx="304.5" cy="247.5" r="1.35" fill="#21908C"/>
<circle cx="306.6" cy="242.3" r="1.35" fill="#21908C"/>
<circle cx="298.4" cy="244.3" r="1.35" fill="#21908C"/>
<circle cx="296.4" cy="238.8" r="1.35" fill="#21908C"/>
<circle cx="300.6" cy="238.6" r="1.35" fill="#21908C"/>
<circle cx="308.0" cy="237.2" r="1.35" fill="#21908C"/>
<circle cx="304.9" cy="249.1" r="1.35" fill="#21908C"/>
<circle cx="299.4" cy="252.1" r="1.35" fill="#21908C"/>
<circle cx="302.6" cy="249.7" r="1.35" fill="#21908C"/>
<circle cx="297.3" cy="231.5" r="1.35" fill="#21908C"/>
<circle cx="302.6" cy="223.4" r="1.35" fill="#21908C"/>
<circle cx="308.1" cy="238.4" r="1.35" fill="#21908C"/>
<circle cx="303.0" cy="249.0" r="1.35" fill="#21908C"/>
<circle cx="304.8" cy="250.0" r="1.35" fill="#21908C"/>
<circle cx="304.3" cy="245.9" r="1.35" fill="#21908C"/>
<circle cx="298.2" cy="243.5" r="1.35" fill="#21908C"/>
<circle cx="307.0" cy="246.2" r="1.35" fill="#21908C"/>
<circle cx="299.2" cy="274.5" r="1.35" fill="#21908C"/>
<circle cx="309.1" cy="241.2" r="1.35" fill="#21908C"/>
<circle cx="304.0" cy="233.8" r="1.35" fill="#21908C"/>
<circle cx="296.4" cy="254.8" r="1.35" fill="#21908C"/>
<circle cx="304.7" cy="230.7" r="1.35" fill="#21908C"/>
<circle cx="308.8" cy="234.3" r="1.35" fill="#21908C"/>
<circle cx="303.6" cy="240.3" r="1.35" fill="#21908C"/>
<circle cx="306.0" cy="245.4" r="1.35" fill="#21908C"/>
<circle cx="301.0" cy="240.4" r="1.35" fill="#21908C"/>
<circle cx="297.0" cy="236.3" r="1.35" fill="#21908C"/>
<circle cx="296.0" cy="261.1" r="1.35" fill="#21908C"/>
<circle cx="306.3" cy="248.0" r="1.35" fill="#21908C"/>
<circle cx="297.5" cy="254.6" r="1.35" fill="#21908C"/>
<circle cx="300.5" cy="225.8" r="1.35" fill="#21908C"/>
<circle cx="305.8" cy="242.7" r="1.35" fill="#21908C"/>
<circle cx="300.6" cy="237.8" r="1.35" fill="#21908C"/>
<circle cx="306.7" cy="241.4" r="1.35" fill="#21908C"/>
<circle cx="298.2" cy="232.5" r="1.35" fill="#21908C"/>
<circle cx="305.9" cy="251.3" r="1.35" fill="#21908C"/>
<circle cx="306.5" cy="250.6" r="1.35" fill="#21908C"/>
<circle cx="303.3" cy="255.3" r="1.35" fill="#21908C"/>
<circle cx="308.8" cy="239.9" r="1.35" fill="#21908C"/>
<circle cx="302.9" cy="245.8" r="1.35" fill="#21908C"/>
<circle cx="304.3" cy="256.5" r="1.35" fill="#21908C"/>
<circle cx="301.8" cy="239.2" r="1.35" fill="#21908C"/>
<circle cx="300.2" cy="257.1" r="1.35" fill="#21908C"/>
<circle cx="301.8" cy="237.5" r="1.35" fill="#21908C"/>
<circle cx="309.0" cy="243.2" r="1.35" fill="#21908C"/>
<circle cx="304.2" cy="228.4" r="1.35" fill="#21908C"/>
<circle cx="300.0" cy="244.9" r="1.35" fill="#21908C"/>
<circle cx="306.7" cy="253.5" r="1.35" fill="#21908C"/>
<circle cx="299.4" cy="250.3" r="1.35" fill="#21908C"/>
<circle cx="300.1" cy="239.6" r="1.35" fill="#21908C"/>
<circle cx="307.5" cy="236.6" r="1.35" fill="#21908C"/>
<circle cx="301.5" cy="263.8" r="1.35" fill="#21908C"/>
<circle cx="309.3" cy="234.7" r="1.35" fill="#21908C"/>
<circle cx="306.0" cy="250.9" r="1.35" fill="#21908C"/>
<circle cx="306.0" cy="247.0" r="1.35" fill="#21908C"/>
<circle cx="303.1" cy="241.0" r="1.35" fill="#21908C"/>
<circle cx="296.7" cy="237.3" r="1.35" fill="#21908C"/>
<circle cx="305.3" cy="251.9" r="1.35" fill="#21908C"/>
<circle cx="301.3" cy="247.2" r="1.35" fill="#21908C"/>
<circle cx="297.5" cy="249.4" r="1.35" fill="#21908C"/>
<circle cx="298.2" cy="248.7" r="1.35" fill="#21908C"/>
<circle cx="308.6" cy="243.5" r="1.35" fill="#21908C"/>
<circle cx="299.7" cy="243.0" r="1.35" fill="#21908C"/>
<circle cx="298.0" cy="235.4" r="1.35" fill="#21908C"/>
<circle cx="306.3" cy="246.1" r="1.35" fill="#21908C"/>
<circle cx="301.1" cy="244.0" r="1.35" fill="#21908C"/>
<circle cx="304.4" cy="247.8" r="1.35" fill="#21908C"/>
<circle cx="308.8" cy="232.7" r="1.35" fill="#21908C"/>
<circle cx="305.1" cy="239.0" r="1.35" fill="#21908C"/>
<circle cx="308.6" cy="248.1" r="1.35" fill="#21908C"/>
<circle cx="306.1" cy="240.8" r="1.35" fill="#21908C"/>
<circle cx="303.3" cy="245.2" r="1.35" fill="#21908C"/>
<circle cx="305.4" cy="241.8" r="1.35" fill="#21908C"/>
<circle cx="297.4" cy="251.8" r="1.35" fill="#21908C"/>
<circle cx="296.2" cy="232.0" r="1.35" fill="#21908C"/>
<circle cx="295.7" cy="254.2" r="1.35" fill="#21908C"/>
<circle cx="307.2" cy="253.8" r="1.35" fill="#21908C"/>
<circle cx="300.3" cy="248.4" r="1.35" fill="#21908C"/>
<circle cx="296.0" cy="202.5" r="1.35" fill="#21908C"/>
<circle cx="307.7" cy="242.6" r="1.35" fill="#21908C"/>
<circle cx="300.5" cy="246.5" r="1.35" fill="#21908C"/>
<circle cx="306.8" cy="260.0" r="1.35" fill="#21908C"/>
<circle cx="304.4" cy="244.8" r="1.35" fill="#21908C"/>
<circle cx="303.6" cy="242.0" r="1.35" fill="#21908C"/>
<circle cx="297.6" cy="242.4" r="1.35" fill="#21908C"/>
<circle cx="302.8" cy="238.1" r="1.35" fill="#21908C"/>
<circle cx="300.8" cy="236.8" r="1.35" fill="#21908C"/>
<circle cx="300.6" cy="245.5" r="1.35" fill="#21908C"/>
<circle cx="302.9" cy="235.2" r="1.35" fill="#21908C"/>
<circle cx="332.7" cy="251.4" r="1.35" fill="#FDE725"/>
<circle cx="332.6" cy="252.7" r="1.35" fill="#FDE725"/>
<circle cx="331.9" cy="242.3" r="1.35" fill="#FDE725"/>
<circle cx="333.6" cy="246.9" r="1.35" fill="#FDE725"/>
<circle cx="329.8" cy="233.0" r="1.35" fill="#FDE725"/>
<circle cx="329.3" cy="254.7" r="1.35" fill="#FDE725"/>
<circle cx="342.6" cy="244.0" r="1.35" fill="#FDE725"/>
<circle cx="329.8" cy="240.9" r="1.35" fill="#FDE725"/>
<circle cx="333.7" cy="208.0" r="1.35" fill="#FDE725"/>
<circle cx="334.6" cy="233.3" r="1.35" fill="#FDE725"/>
<circle cx="332.7" cy="253.2" r="1.35" fill="#FDE725"/>
<circle cx="342.4" cy="250.9" r="1.35" fill="#FDE725"/>
<circle cx="330.8" cy="242.1" r="1.35" fill="#FDE725"/>
<circle cx="332.7" cy="238.3" r="1.35" fill="#FDE725"/>
<circle cx="338.0" cy="253.7" r="1.35" fill="#FDE725"/>
<circle cx="333.3" cy="243.5" r="1.35" fill="#FDE725"/>
<circle cx="329.2" cy="244.2" r="1.35" fill="#FDE725"/>
<circle cx="339.2" cy="218.2" r="1.35" fill="#FDE725"/>
<circle cx="330.6" cy="244.3" r="1.35" fill="#FDE725"/>
<circle cx="335.6" cy="234.6" r="1.35" fill="#FDE725"/>
<circle cx="342.7" cy="251.8" r="1.35" fill="#FDE725"/>
<circle cx="341.2" cy="246.1" r="1.35" fill="#FDE725"/>
<circle cx="332.9" cy="266.1" r="1.35" fill="#FDE725"/>
<circle cx="339.3" cy="236.4" r="1.35" fill="#FDE725"/>
<circle cx="335.2" cy="258.1" r="1.35" fill="#FDE725"/>
<circle cx="331.3" cy="250.0" r="1.35" fill="#FDE725"/>
<circle cx="336.4" cy="249.1" r="1.35" fill="#FDE725"/>
<circle cx="335.2" cy="247.0" r="1.35" fill="#FDE725"/>
<circle cx="329.2" cy="241.4" r="1.35" fill="#FDE725"/>
<circle cx="339.5" cy="252.5" r="1.35" fill="#FDE725"/>
<circle cx="332.4" cy="227.3" r="1.35" fill="#FDE725"/>
<circle cx="329.4" cy="241.7" r="1.35" fill="#FDE725"/>
<circle cx="340.5" cy="249.2" r="1.35" fill="#FDE725"/>
<circle cx="340.8" cy="246.0" r="1.35" fill="#FDE725"/>
<circle cx="342.8" cy="247.7" r="1.35" fill="#FDE725"/>
<circle cx="340.3" cy="242.0" r="1.35" fill="#FDE725"/>
<circle cx="329.5" cy="260.6" r="1.35" fill="#FDE725"/>
<circle cx="341.6" cy="251.2" r="1.35" fill="#FDE725"/>
<circle cx="337.2" cy="229.5" r="1.35" fill="#FDE725"/>
<circle cx="338.8" cy="246.5" r="1.35" fill="#FDE725"/>
<circle cx="342.1" cy="246.3" r="1.35" fill="#FDE725"/>
<circle cx="339.7" cy="248.6" r="1.35" fill="#FDE725"/>
<circle cx="341.7" cy="245.2" r="1.35" fill="#FDE725"/>
<circle cx="329.3" cy="238.3" r="1.35" fill="#FDE725"/>
<circle cx="336.5" cy="249.7" r="1.35" fill="#FDE725"/>
<circle cx="331.0" cy="255.1" r="1.35" fill="#FDE725"/>
<circle cx="340.1" cy="245.4" r="1.35" fill="#FDE725"/>
<circle cx="331.1" cy="243.8" r="1.35" fill="#FDE725"/>
<circle cx="337.3" cy="244.6" r="1.35" fill="#FDE725"/>
<circle cx="337.9" cy="238.1" r="1.35" fill="#FDE725"/>
<circle cx="333.8" cy="259.7" r="1.35" fill="#FDE725"/>
<circle cx="337.5" cy="245.0" r="1.35" fill="#FDE725"/>
<circle cx="338.6" cy="252.3" r="1.35" fill="#FDE725"/>
<circle cx="340.4" cy="240.3" r="1.35" fill="#FDE725"/>
<circle cx="338.9" cy="239.0" r="1.35" fill="#FDE725"/>
<circle cx="335.4" cy="244.8" r="1.35" fill="#FDE725"/>
<circle cx="338.1" cy="253.9" r="1.35" fill="#FDE725"/>
<circle cx="337.7" cy="249.5" r="1.35" fill="#FDE725"/>
<circle cx="334.8" cy="248.0" r="1.35" fill="#FDE725"/>
<circle cx="339.6" cy="247.6" r="1.35" fill="#FDE725"/>
<circle cx="338.6" cy="252.9" r="1.35" fill="#FDE725"/>
<circle cx="330.4" cy="258.7" r="1.35" fill="#FDE725"/>
<circle cx="329.9" cy="235.2" r="1.35" fill="#FDE725"/>
<circle cx="341.7" cy="250.6" r="1.35" fill="#FDE725"/>
<circle cx="341.4" cy="248.9" r="1.35" fill="#FDE725"/>
<circle cx="334.7" cy="257.3" r="1.35" fill="#FDE725"/>
<circle cx="337.2" cy="231.2" r="1.35" fill="#FDE725"/>
<circle cx="341.3" cy="223.4" r="1.35" fill="#FDE725"/>
<circle cx="332.2" cy="261.8" r="1.35" fill="#FDE725"/>
<circle cx="340.6" cy="245.6" r="1.35" fill="#FDE725"/>
<circle cx="340.2" cy="239.1" r="1.35" fill="#FDE725"/>
<circle cx="340.2" cy="263.8" r="1.35" fill="#FDE725"/>
<circle cx="339.7" cy="256.3" r="1.35" fill="#FDE725"/>
<circle cx="333.7" cy="278.3" r="1.35" fill="#FDE725"/>
<circle cx="338.3" cy="237.6" r="1.35" fill="#FDE725"/>
<circle cx="338.7" cy="254.2" r="1.35" fill="#FDE725"/>
<circle cx="334.4" cy="229.3" r="1.35" fill="#FDE725"/>
<circle cx="340.8" cy="243.2" r="1.35" fill="#FDE725"/>
<circle cx="337.6" cy="240.6" r="1.35" fill="#FDE725"/>
<circle cx="335.9" cy="255.4" r="1.35" fill="#FDE725"/>
<circle cx="336.1" cy="239.3" r="1.35" fill="#FDE725"/>
<circle cx="341.6" cy="234.7" r="1.35" fill="#FDE725"/>
<circle cx="333.2" cy="246.7" r="1.35" fill="#FDE725"/>
<circle cx="340.2" cy="237.1" r="1.35" fill="#FDE725"/>
<circle cx="335.1" cy="251.9" r="1.35" fill="#FDE725"/>
<circle cx="332.0" cy="251.0" r="1.35" fill="#FDE725"/>
<circle cx="338.6" cy="256.2" r="1.35" fill="#FDE725"/>
<circle cx="330.4" cy="242.9" r="1.35" fill="#FDE725"/>
<circle cx="334.5" cy="235.7" r="1.35" fill="#FDE725"/>
<circle cx="329.7" cy="237.1" r="1.35" fill="#FDE725"/>
<circle cx="338.1" cy="247.4" r="1.35" fill="#FDE725"/>
<circle cx="336.6" cy="242.8" r="1.35" fill="#FDE725"/>
<circle cx="330.6" cy="242.5" r="1.35" fill="#FDE725"/>
<circle cx="342.7" cy="235.4" r="1.35" fill="#FDE725"/>
<circle cx="340.8" cy="240.0" r="1.35" fill="#FDE725"/>
<circle cx="337.9" cy="226.0" r="1.35" fill="#FDE725"/>
<circle cx="340.1" cy="240.8" r="1.35" fill="#FDE725"/>
<circle cx="330.0" cy="232.4" r="1.35" fill="#FDE725"/>
<circle cx="330.5" cy="256.7" r="1.35" fill="#FDE725"/>
<circle cx="330.5" cy="238.7" r="1.35" fill="#FDE725"/>
<circle cx="332.3" cy="248.2" r="1.35" fill="#FDE725"/>
<circle cx="332.9" cy="247.9" r="1.35" fill="#FDE725"/>
<circle cx="331.4" cy="274.5" r="1.35" fill="#FDE725"/>
<circle cx="338.0" cy="250.2" r="1.35" fill="#FDE725"/>
<circle cx="339.9" cy="239.5" r="1.35" fill="#FDE725"/>
<circle cx="330.5" cy="243.4" r="1.35" fill="#FDE725"/>
<circle cx="338.8" cy="231.9" r="1.35" fill="#FDE725"/>
<circle cx="338.0" cy="234.0" r="1.35" fill="#FDE725"/>
<circle cx="329.5" cy="245.8" r="1.35" fill="#FDE725"/>
<circle cx="340.4" cy="236.2" r="1.35" fill="#FDE725"/>
<circle cx="331.8" cy="230.3" r="1.35" fill="#FDE725"/>
<circle cx="341.9" cy="237.4" r="1.35" fill="#FDE725"/>
<circle cx="341.7" cy="240.0" r="1.35" fill="#FDE725"/>
<circle cx="331.7" cy="266.1" r="1.35" fill="#FDE725"/>
<circle cx="333.1" cy="241.2" r="1.35" fill="#FDE725"/>
<circle cx="341.8" cy="248.5" r="1.35" fill="#FDE725"/>
<circle cx="337.2" cy="204.6" r="1.35" fill="#FDE725"/>
<circle cx="342.0" cy="250.4" r="1.35" fill="#FDE725"/>
<circle cx="330.0" cy="254.4" r="1.35" fill="#FDE725"/>
<circle cx="330.4" cy="236.6" r="1.35" fill="#FDE725"/>
<circle cx="338.9" cy="233.8" r="1.35" fill="#FDE725"/>
<circle cx="329.2" cy="222.8" r="1.35" fill="#FDE725"/>
<rect x="282.45" y="180.00" width="73.60" height="128.50" fill="none" stroke="#404040" stroke-width="1.2"/>
<text transform="translate(26.8,200.00) rotate(0.03)" font-size="6.25" text-anchor="end" fill="#444">0.2</text>
<text transform="translate(26.8,223.40) rotate(0.03)" font-size="6.25" text-anchor="end" fill="#444">0.1</text>
<text transform="translate(26.8,246.90) rotate(0.03)" font-size="6.25" text-anchor="end" fill="#444">0.0</text>
<text transform="translate(26.8,270.40) rotate(0.03)" font-size="6.25" text-anchor="end" fill="#444">−0.1</text>
<text transform="translate(26.8,293.90) rotate(0.03)" font-size="6.25" text-anchor="end" fill="#444">−0.2</text>
<rect x="356.45" y="180.00" width="18.7" height="128.50" fill="#FFFFFF" stroke="#404040" stroke-width="1.2"/>
<text transform="translate(363.95,244.25) rotate(90.03)" font-size="6.2" text-anchor="middle" fill="#111">FADS2</text>
<rect x="34.50" y="317.60" width="73.60" height="129.00" fill="#fff"/>
<line x1="34.50" x2="108.10" y1="322.65" y2="322.65" stroke="#ebebeb" stroke-width="0.7"/>
<line x1="34.50" x2="108.10" y1="356.55" y2="356.55" stroke="#ebebeb" stroke-width="0.7"/>
<line x1="34.50" x2="108.10" y1="390.45" y2="390.45" stroke="#ebebeb" stroke-width="0.7"/>
<line x1="34.50" x2="108.10" y1="424.35" y2="424.35" stroke="#ebebeb" stroke-width="0.7"/>
<line x1="34.50" x2="108.10" y1="339.60" y2="339.60" stroke="#e1e1e1" stroke-width="1.2"/>
<line x1="34.50" x2="108.10" y1="373.50" y2="373.50" stroke="#e1e1e1" stroke-width="1.2"/>
<line x1="34.50" x2="108.10" y1="407.40" y2="407.40" stroke="#e1e1e1" stroke-width="1.2"/>
<line x1="34.50" x2="108.10" y1="441.30" y2="441.30" stroke="#e1e1e1" stroke-width="1.2"/>
<line x1="54.57" x2="54.57" y1="342.40" y2="364.10" stroke="#000" stroke-width="1.6"/>
<line x1="54.57" x2="54.57" y1="381.20" y2="405.20" stroke="#000" stroke-width="1.6"/>
<rect x="42.03" y="364.10" width="25.09" height="17.10" fill="#fff" stroke="#000" stroke-width="1.6"/>
<line x1="42.03" x2="67.12" y1="371.30" y2="371.30" stroke="#000" stroke-width="3.1"/>
<line x1="88.03" x2="88.03" y1="344.50" y2="369.00" stroke="#000" stroke-width="1.6"/>
<line x1="88.03" x2="88.03" y1="395.60" y2="430.60" stroke="#000" stroke-width="1.6"/>
<rect x="75.48" y="369.00" width="25.09" height="26.60" fill="#fff" stroke="#000" stroke-width="1.6"/>
<line x1="75.48" x2="100.57" y1="378.60" y2="378.60" stroke="#000" stroke-width="3.1"/>
<circle cx="52.3" cy="388.1" r="1.35" fill="#21908C"/>
<circle cx="51.7" cy="390.5" r="1.35" fill="#21908C"/>
<circle cx="57.6" cy="386.1" r="1.35" fill="#21908C"/>
<circle cx="54.2" cy="349.0" r="1.35" fill="#21908C"/>
<circle cx="61.3" cy="386.8" r="1.35" fill="#21908C"/>
<circle cx="48.1" cy="353.2" r="1.35" fill="#21908C"/>
<circle cx="52.2" cy="380.7" r="1.35" fill="#21908C"/>
<circle cx="57.1" cy="369.2" r="1.35" fill="#21908C"/>
<circle cx="49.5" cy="364.4" r="1.35" fill="#21908C"/>
<circle cx="51.3" cy="363.6" r="1.35" fill="#21908C"/>
<circle cx="57.5" cy="365.9" r="1.35" fill="#21908C"/>
<circle cx="51.2" cy="369.0" r="1.35" fill="#21908C"/>
<circle cx="51.2" cy="365.2" r="1.35" fill="#21908C"/>
<circle cx="56.7" cy="356.6" r="1.35" fill="#21908C"/>
<circle cx="61.2" cy="370.4" r="1.35" fill="#21908C"/>
<circle cx="51.8" cy="367.0" r="1.35" fill="#21908C"/>
<circle cx="61.0" cy="366.3" r="1.35" fill="#21908C"/>
<circle cx="58.5" cy="373.7" r="1.35" fill="#21908C"/>
<circle cx="53.7" cy="413.8" r="1.35" fill="#21908C"/>
<circle cx="50.1" cy="377.2" r="1.35" fill="#21908C"/>
<circle cx="58.6" cy="382.7" r="1.35" fill="#21908C"/>
<circle cx="50.7" cy="384.3" r="1.35" fill="#21908C"/>
<circle cx="52.4" cy="372.9" r="1.35" fill="#21908C"/>
<circle cx="54.0" cy="384.6" r="1.35" fill="#21908C"/>
<circle cx="60.0" cy="370.0" r="1.35" fill="#21908C"/>
<circle cx="58.5" cy="393.3" r="1.35" fill="#21908C"/>
<circle cx="58.0" cy="370.8" r="1.35" fill="#21908C"/>
<circle cx="50.4" cy="378.2" r="1.35" fill="#21908C"/>
<circle cx="55.8" cy="368.1" r="1.35" fill="#21908C"/>
<circle cx="48.6" cy="366.5" r="1.35" fill="#21908C"/>
<circle cx="52.2" cy="369.4" r="1.35" fill="#21908C"/>
<circle cx="57.1" cy="388.7" r="1.35" fill="#21908C"/>
<circle cx="54.7" cy="385.6" r="1.35" fill="#21908C"/>
<circle cx="48.3" cy="376.0" r="1.35" fill="#21908C"/>
<circle cx="48.5" cy="416.1" r="1.35" fill="#21908C"/>
<circle cx="58.2" cy="369.7" r="1.35" fill="#21908C"/>
<circle cx="61.3" cy="381.2" r="1.35" fill="#21908C"/>
<circle cx="52.8" cy="367.8" r="1.35" fill="#21908C"/>
<circle cx="56.3" cy="398.6" r="1.35" fill="#21908C"/>
<circle cx="52.1" cy="355.8" r="1.35" fill="#21908C"/>
<circle cx="57.2" cy="373.5" r="1.35" fill="#21908C"/>
<circle cx="49.5" cy="380.4" r="1.35" fill="#21908C"/>
<circle cx="53.1" cy="410.0" r="1.35" fill="#21908C"/>
<circle cx="56.4" cy="391.7" r="1.35" fill="#21908C"/>
<circle cx="50.8" cy="337.8" r="1.35" fill="#21908C"/>
<circle cx="54.5" cy="371.2" r="1.35" fill="#21908C"/>
<circle cx="54.2" cy="383.7" r="1.35" fill="#21908C"/>
<circle cx="55.8" cy="374.6" r="1.35" fill="#21908C"/>
<circle cx="54.8" cy="405.2" r="1.35" fill="#21908C"/>
<circle cx="50.8" cy="385.3" r="1.35" fill="#21908C"/>
<circle cx="50.3" cy="386.5" r="1.35" fill="#21908C"/>
<circle cx="48.8" cy="377.9" r="1.35" fill="#21908C"/>
<circle cx="61.4" cy="371.4" r="1.35" fill="#21908C"/>
<circle cx="58.1" cy="364.5" r="1.35" fill="#21908C"/>
<circle cx="56.0" cy="410.0" r="1.35" fill="#21908C"/>
<circle cx="54.2" cy="372.4" r="1.35" fill="#21908C"/>
<circle cx="47.9" cy="381.9" r="1.35" fill="#21908C"/>
<circle cx="50.9" cy="391.1" r="1.35" fill="#21908C"/>
<circle cx="55.4" cy="367.9" r="1.35" fill="#21908C"/>
<circle cx="56.3" cy="383.4" r="1.35" fill="#21908C"/>
<circle cx="54.6" cy="384.9" r="1.35" fill="#21908C"/>
<circle cx="58.0" cy="381.5" r="1.35" fill="#21908C"/>
<circle cx="59.7" cy="379.2" r="1.35" fill="#21908C"/>
<circle cx="58.7" cy="376.6" r="1.35" fill="#21908C"/>
<circle cx="58.9" cy="351.4" r="1.35" fill="#21908C"/>
<circle cx="56.6" cy="352.6" r="1.35" fill="#21908C"/>
<circle cx="52.0" cy="373.2" r="1.35" fill="#21908C"/>
<circle cx="48.6" cy="347.2" r="1.35" fill="#21908C"/>
<circle cx="57.9" cy="365.5" r="1.35" fill="#21908C"/>
<circle cx="53.4" cy="362.1" r="1.35" fill="#21908C"/>
<circle cx="51.5" cy="342.4" r="1.35" fill="#21908C"/>
<circle cx="58.3" cy="353.9" r="1.35" fill="#21908C"/>
<circle cx="53.8" cy="367.4" r="1.35" fill="#21908C"/>
<circle cx="52.8" cy="375.0" r="1.35" fill="#21908C"/>
<circle cx="49.3" cy="373.9" r="1.35" fill="#21908C"/>
<circle cx="48.6" cy="382.5" r="1.35" fill="#21908C"/>
<circle cx="52.3" cy="385.1" r="1.35" fill="#21908C"/>
<circle cx="59.0" cy="364.9" r="1.35" fill="#21908C"/>
<circle cx="56.2" cy="372.3" r="1.35" fill="#21908C"/>
<circle cx="48.0" cy="359.1" r="1.35" fill="#21908C"/>
<circle cx="60.1" cy="377.4" r="1.35" fill="#21908C"/>
<circle cx="51.7" cy="374.2" r="1.35" fill="#21908C"/>
<circle cx="49.8" cy="363.0" r="1.35" fill="#21908C"/>
<circle cx="54.7" cy="349.8" r="1.35" fill="#21908C"/>
<circle cx="48.4" cy="379.9" r="1.35" fill="#21908C"/>
<circle cx="58.4" cy="390.0" r="1.35" fill="#21908C"/>
<circle cx="53.8" cy="369.7" r="1.35" fill="#21908C"/>
<circle cx="60.1" cy="387.5" r="1.35" fill="#21908C"/>
<circle cx="57.3" cy="369.1" r="1.35" fill="#21908C"/>
<circle cx="54.9" cy="389.5" r="1.35" fill="#21908C"/>
<circle cx="59.7" cy="394.6" r="1.35" fill="#21908C"/>
<circle cx="54.2" cy="361.0" r="1.35" fill="#21908C"/>
<circle cx="48.6" cy="375.3" r="1.35" fill="#21908C"/>
<circle cx="48.7" cy="366.7" r="1.35" fill="#21908C"/>
<circle cx="60.9" cy="368.6" r="1.35" fill="#21908C"/>
<circle cx="51.5" cy="363.9" r="1.35" fill="#21908C"/>
<circle cx="47.9" cy="383.9" r="1.35" fill="#21908C"/>
<circle cx="57.0" cy="360.6" r="1.35" fill="#21908C"/>
<circle cx="48.1" cy="362.0" r="1.35" fill="#21908C"/>
<circle cx="53.4" cy="368.7" r="1.35" fill="#21908C"/>
<circle cx="59.4" cy="405.2" r="1.35" fill="#21908C"/>
<circle cx="56.9" cy="375.6" r="1.35" fill="#21908C"/>
<circle cx="55.9" cy="376.3" r="1.35" fill="#21908C"/>
<circle cx="54.2" cy="395.6" r="1.35" fill="#21908C"/>
<circle cx="59.5" cy="355.9" r="1.35" fill="#21908C"/>
<circle cx="57.7" cy="357.4" r="1.35" fill="#21908C"/>
<circle cx="61.1" cy="370.4" r="1.35" fill="#21908C"/>
<circle cx="52.9" cy="368.3" r="1.35" fill="#21908C"/>
<circle cx="51.0" cy="362.8" r="1.35" fill="#21908C"/>
<circle cx="59.4" cy="357.8" r="1.35" fill="#21908C"/>
<circle cx="53.7" cy="365.9" r="1.35" fill="#21908C"/>
<circle cx="50.7" cy="365.4" r="1.35" fill="#21908C"/>
<circle cx="56.6" cy="375.2" r="1.35" fill="#21908C"/>
<circle cx="55.0" cy="367.6" r="1.35" fill="#21908C"/>
<circle cx="48.7" cy="378.6" r="1.35" fill="#21908C"/>
<circle cx="48.9" cy="377.0" r="1.35" fill="#21908C"/>
<circle cx="50.1" cy="366.7" r="1.35" fill="#21908C"/>
<circle cx="53.9" cy="342.4" r="1.35" fill="#21908C"/>
<circle cx="55.5" cy="362.5" r="1.35" fill="#21908C"/>
<circle cx="55.1" cy="416.7" r="1.35" fill="#21908C"/>
<circle cx="57.4" cy="367.2" r="1.35" fill="#21908C"/>
<circle cx="60.5" cy="379.4" r="1.35" fill="#21908C"/>
<circle cx="54.7" cy="371.8" r="1.35" fill="#21908C"/>
<circle cx="52.1" cy="370.1" r="1.35" fill="#21908C"/>
<circle cx="51.7" cy="378.8" r="1.35" fill="#21908C"/>
<circle cx="52.6" cy="359.5" r="1.35" fill="#21908C"/>
<circle cx="53.5" cy="364.7" r="1.35" fill="#21908C"/>
<circle cx="50.4" cy="358.9" r="1.35" fill="#21908C"/>
<circle cx="61.1" cy="361.6" r="1.35" fill="#21908C"/>
<circle cx="48.6" cy="400.5" r="1.35" fill="#21908C"/>
<circle cx="57.4" cy="371.0" r="1.35" fill="#21908C"/>
<circle cx="48.7" cy="396.4" r="1.35" fill="#21908C"/>
<circle cx="52.2" cy="338.7" r="1.35" fill="#21908C"/>
<circle cx="60.2" cy="360.8" r="1.35" fill="#21908C"/>
<circle cx="50.9" cy="377.8" r="1.35" fill="#21908C"/>
<circle cx="60.2" cy="364.1" r="1.35" fill="#21908C"/>
<circle cx="48.6" cy="359.9" r="1.35" fill="#21908C"/>
<circle cx="48.5" cy="387.5" r="1.35" fill="#21908C"/>
<circle cx="49.6" cy="380.9" r="1.35" fill="#21908C"/>
<circle cx="50.5" cy="374.4" r="1.35" fill="#21908C"/>
<circle cx="51.9" cy="358.7" r="1.35" fill="#21908C"/>
<circle cx="59.8" cy="371.7" r="1.35" fill="#21908C"/>
<circle cx="49.6" cy="354.5" r="1.35" fill="#21908C"/>
<circle cx="54.1" cy="383.0" r="1.35" fill="#21908C"/>
<circle cx="61.1" cy="358.1" r="1.35" fill="#21908C"/>
<circle cx="56.0" cy="363.3" r="1.35" fill="#21908C"/>
<circle cx="48.1" cy="392.4" r="1.35" fill="#21908C"/>
<circle cx="53.0" cy="354.9" r="1.35" fill="#21908C"/>
<circle cx="55.2" cy="363.4" r="1.35" fill="#21908C"/>
<circle cx="53.2" cy="370.7" r="1.35" fill="#21908C"/>
<circle cx="59.4" cy="360.2" r="1.35" fill="#21908C"/>
<circle cx="48.7" cy="382.2" r="1.35" fill="#21908C"/>
<circle cx="58.5" cy="361.3" r="1.35" fill="#21908C"/>
<circle cx="47.9" cy="357.1" r="1.35" fill="#21908C"/>
<circle cx="52.3" cy="372.6" r="1.35" fill="#21908C"/>
<circle cx="53.5" cy="381.8" r="1.35" fill="#21908C"/>
<circle cx="58.8" cy="389.1" r="1.35" fill="#21908C"/>
<circle cx="55.4" cy="376.4" r="1.35" fill="#21908C"/>
<circle cx="51.3" cy="379.6" r="1.35" fill="#21908C"/>
<circle cx="81.6" cy="368.7" r="1.35" fill="#FDE725"/>
<circle cx="93.5" cy="362.8" r="1.35" fill="#FDE725"/>
<circle cx="91.4" cy="354.7" r="1.35" fill="#FDE725"/>
<circle cx="84.4" cy="391.6" r="1.35" fill="#FDE725"/>
<circle cx="86.9" cy="366.1" r="1.35" fill="#FDE725"/>
<circle cx="89.9" cy="403.9" r="1.35" fill="#FDE725"/>
<circle cx="85.4" cy="363.7" r="1.35" fill="#FDE725"/>
<circle cx="90.5" cy="443.6" r="1.35" fill="#FDE725"/>
<circle cx="92.1" cy="401.1" r="1.35" fill="#FDE725"/>
<circle cx="91.1" cy="395.7" r="1.35" fill="#FDE725"/>
<circle cx="86.1" cy="367.0" r="1.35" fill="#FDE725"/>
<circle cx="84.7" cy="386.5" r="1.35" fill="#FDE725"/>
<circle cx="82.3" cy="414.0" r="1.35" fill="#FDE725"/>
<circle cx="91.6" cy="378.4" r="1.35" fill="#FDE725"/>
<circle cx="87.1" cy="373.4" r="1.35" fill="#FDE725"/>
<circle cx="83.9" cy="374.4" r="1.35" fill="#FDE725"/>
<circle cx="94.9" cy="377.0" r="1.35" fill="#FDE725"/>
<circle cx="82.9" cy="368.2" r="1.35" fill="#FDE725"/>
<circle cx="91.0" cy="390.1" r="1.35" fill="#FDE725"/>
<circle cx="93.4" cy="343.9" r="1.35" fill="#FDE725"/>
<circle cx="85.4" cy="361.4" r="1.35" fill="#FDE725"/>
<circle cx="92.2" cy="359.6" r="1.35" fill="#FDE725"/>
<circle cx="88.1" cy="380.4" r="1.35" fill="#FDE725"/>
<circle cx="83.7" cy="375.4" r="1.35" fill="#FDE725"/>
<circle cx="82.3" cy="400.4" r="1.35" fill="#FDE725"/>
<circle cx="83.9" cy="430.6" r="1.35" fill="#FDE725"/>
<circle cx="84.9" cy="397.6" r="1.35" fill="#FDE725"/>
<circle cx="87.1" cy="369.1" r="1.35" fill="#FDE725"/>
<circle cx="93.5" cy="362.0" r="1.35" fill="#FDE725"/>
<circle cx="93.7" cy="377.7" r="1.35" fill="#FDE725"/>
<circle cx="93.6" cy="382.1" r="1.35" fill="#FDE725"/>
<circle cx="94.4" cy="367.6" r="1.35" fill="#FDE725"/>
<circle cx="92.0" cy="371.0" r="1.35" fill="#FDE725"/>
<circle cx="87.0" cy="385.7" r="1.35" fill="#FDE725"/>
<circle cx="93.3" cy="372.4" r="1.35" fill="#FDE725"/>
<circle cx="94.2" cy="398.9" r="1.35" fill="#FDE725"/>
<circle cx="85.5" cy="416.8" r="1.35" fill="#FDE725"/>
<circle cx="89.4" cy="393.1" r="1.35" fill="#FDE725"/>
<circle cx="88.3" cy="365.7" r="1.35" fill="#FDE725"/>
<circle cx="88.4" cy="370.0" r="1.35" fill="#FDE725"/>
<circle cx="88.2" cy="383.1" r="1.35" fill="#FDE725"/>
<circle cx="85.8" cy="406.0" r="1.35" fill="#FDE725"/>
<circle cx="93.9" cy="398.7" r="1.35" fill="#FDE725"/>
<circle cx="88.9" cy="384.0" r="1.35" fill="#FDE725"/>
<circle cx="92.1" cy="377.4" r="1.35" fill="#FDE725"/>
<circle cx="83.1" cy="403.0" r="1.35" fill="#FDE725"/>
<circle cx="83.1" cy="376.4" r="1.35" fill="#FDE725"/>
<circle cx="84.5" cy="407.2" r="1.35" fill="#FDE725"/>
<circle cx="87.5" cy="357.6" r="1.35" fill="#FDE725"/>
<circle cx="82.1" cy="352.0" r="1.35" fill="#FDE725"/>
<circle cx="86.1" cy="379.4" r="1.35" fill="#FDE725"/>
<circle cx="84.0" cy="380.3" r="1.35" fill="#FDE725"/>
<circle cx="94.6" cy="350.2" r="1.35" fill="#FDE725"/>
<circle cx="87.2" cy="430.3" r="1.35" fill="#FDE725"/>
<circle cx="89.8" cy="384.2" r="1.35" fill="#FDE725"/>
<circle cx="90.9" cy="373.6" r="1.35" fill="#FDE725"/>
<circle cx="91.0" cy="396.7" r="1.35" fill="#FDE725"/>
<circle cx="86.9" cy="387.1" r="1.35" fill="#FDE725"/>
<circle cx="83.4" cy="407.9" r="1.35" fill="#FDE725"/>
<circle cx="92.2" cy="372.1" r="1.35" fill="#FDE725"/>
<circle cx="94.2" cy="346.5" r="1.35" fill="#FDE725"/>
<circle cx="85.7" cy="374.6" r="1.35" fill="#FDE725"/>
<circle cx="81.2" cy="388.9" r="1.35" fill="#FDE725"/>
<circle cx="83.7" cy="422.2" r="1.35" fill="#FDE725"/>
<circle cx="90.3" cy="366.8" r="1.35" fill="#FDE725"/>
<circle cx="83.9" cy="394.9" r="1.35" fill="#FDE725"/>
<circle cx="89.0" cy="364.5" r="1.35" fill="#FDE725"/>
<circle cx="88.3" cy="392.1" r="1.35" fill="#FDE725"/>
<circle cx="87.6" cy="388.3" r="1.35" fill="#FDE725"/>
<circle cx="89.2" cy="364.7" r="1.35" fill="#FDE725"/>
<circle cx="88.0" cy="375.8" r="1.35" fill="#FDE725"/>
<circle cx="84.2" cy="371.3" r="1.35" fill="#FDE725"/>
<circle cx="89.7" cy="410.0" r="1.35" fill="#FDE725"/>
<circle cx="87.1" cy="369.8" r="1.35" fill="#FDE725"/>
<circle cx="83.4" cy="411.8" r="1.35" fill="#FDE725"/>
<circle cx="94.5" cy="431.7" r="1.35" fill="#FDE725"/>
<rect x="34.50" y="317.60" width="73.60" height="129.00" fill="none" stroke="#404040" stroke-width="1.2"/>
<rect x="117.15" y="317.60" width="73.60" height="129.00" fill="#fff"/>
<line x1="117.15" x2="190.75" y1="322.65" y2="322.65" stroke="#ebebeb" stroke-width="0.7"/>
<line x1="117.15" x2="190.75" y1="356.55" y2="356.55" stroke="#ebebeb" stroke-width="0.7"/>
<line x1="117.15" x2="190.75" y1="390.45" y2="390.45" stroke="#ebebeb" stroke-width="0.7"/>
<line x1="117.15" x2="190.75" y1="424.35" y2="424.35" stroke="#ebebeb" stroke-width="0.7"/>
<line x1="117.15" x2="190.75" y1="339.60" y2="339.60" stroke="#e1e1e1" stroke-width="1.2"/>
<line x1="117.15" x2="190.75" y1="373.50" y2="373.50" stroke="#e1e1e1" stroke-width="1.2"/>
<line x1="117.15" x2="190.75" y1="407.40" y2="407.40" stroke="#e1e1e1" stroke-width="1.2"/>
<line x1="117.15" x2="190.75" y1="441.30" y2="441.30" stroke="#e1e1e1" stroke-width="1.2"/>
<line x1="137.22" x2="137.22" y1="337.20" y2="363.20" stroke="#000" stroke-width="1.6"/>
<line x1="137.22" x2="137.22" y1="386.40" y2="406.60" stroke="#000" stroke-width="1.6"/>
<rect x="124.68" y="363.20" width="25.09" height="23.20" fill="#fff" stroke="#000" stroke-width="1.6"/>
<line x1="124.68" x2="149.77" y1="373.90" y2="373.90" stroke="#000" stroke-width="3.1"/>
<line x1="170.68" x2="170.68" y1="344.50" y2="368.20" stroke="#000" stroke-width="1.6"/>
<line x1="170.68" x2="170.68" y1="390.10" y2="413.20" stroke="#000" stroke-width="1.6"/>
<rect x="158.13" y="368.20" width="25.09" height="21.90" fill="#fff" stroke="#000" stroke-width="1.6"/>
<line x1="158.13" x2="183.22" y1="382.90" y2="382.90" stroke="#000" stroke-width="3.1"/>
<circle cx="138.7" cy="386.0" r="1.35" fill="#21908C"/>
<circle cx="143.8" cy="358.2" r="1.35" fill="#21908C"/>
<circle cx="134.2" cy="390.4" r="1.35" fill="#21908C"/>
<circle cx="141.1" cy="369.4" r="1.35" fill="#21908C"/>
<circle cx="137.5" cy="372.0" r="1.35" fill="#21908C"/>
<circle cx="131.3" cy="346.6" r="1.35" fill="#21908C"/>
<circle cx="142.5" cy="386.4" r="1.35" fill="#21908C"/>
<circle cx="143.3" cy="373.8" r="1.35" fill="#21908C"/>
<circle cx="137.9" cy="380.5" r="1.35" fill="#21908C"/>
<circle cx="130.6" cy="344.1" r="1.35" fill="#21908C"/>
<circle cx="135.3" cy="374.3" r="1.35" fill="#21908C"/>
<circle cx="139.2" cy="372.6" r="1.35" fill="#21908C"/>
<circle cx="135.4" cy="387.2" r="1.35" fill="#21908C"/>
<circle cx="138.1" cy="338.2" r="1.35" fill="#21908C"/>
<circle cx="134.5" cy="361.5" r="1.35" fill="#21908C"/>
<circle cx="132.9" cy="374.8" r="1.35" fill="#21908C"/>
<circle cx="137.2" cy="350.8" r="1.35" fill="#21908C"/>
<circle cx="136.4" cy="369.9" r="1.35" fill="#21908C"/>
<circle cx="132.6" cy="363.3" r="1.35" fill="#21908C"/>
<circle cx="142.1" cy="365.1" r="1.35" fill="#21908C"/>
<circle cx="131.2" cy="387.9" r="1.35" fill="#21908C"/>
<circle cx="133.3" cy="355.0" r="1.35" fill="#21908C"/>
<circle cx="132.8" cy="361.3" r="1.35" fill="#21908C"/>
<circle cx="141.2" cy="399.1" r="1.35" fill="#21908C"/>
<circle cx="142.6" cy="348.9" r="1.35" fill="#21908C"/>
<circle cx="134.8" cy="378.9" r="1.35" fill="#21908C"/>
<circle cx="142.7" cy="376.6" r="1.35" fill="#21908C"/>
<circle cx="142.8" cy="357.1" r="1.35" fill="#21908C"/>
<circle cx="137.1" cy="381.9" r="1.35" fill="#21908C"/>
<circle cx="137.3" cy="388.7" r="1.35" fill="#21908C"/>
<circle cx="142.2" cy="381.3" r="1.35" fill="#21908C"/>
<circle cx="138.0" cy="379.5" r="1.35" fill="#21908C"/>
<circle cx="138.6" cy="393.2" r="1.35" fill="#21908C"/>
<circle cx="140.3" cy="405.2" r="1.35" fill="#21908C"/>
<circle cx="135.5" cy="352.7" r="1.35" fill="#21908C"/>
<circle cx="137.3" cy="396.6" r="1.35" fill="#21908C"/>
<circle cx="142.4" cy="406.6" r="1.35" fill="#21908C"/>
<circle cx="141.3" cy="368.0" r="1.35" fill="#21908C"/>
<circle cx="131.0" cy="371.3" r="1.35" fill="#21908C"/>
<circle cx="142.2" cy="396.2" r="1.35" fill="#21908C"/>
<circle cx="141.8" cy="387.4" r="1.35" fill="#21908C"/>
<circle cx="136.9" cy="375.6" r="1.35" fill="#21908C"/>
<circle cx="133.1" cy="365.0" r="1.35" fill="#21908C"/>
<circle cx="131.5" cy="382.7" r="1.35" fill="#21908C"/>
<circle cx="142.5" cy="369.7" r="1.35" fill="#21908C"/>
<circle cx="137.6" cy="389.3" r="1.35" fill="#21908C"/>
<circle cx="140.1" cy="383.9" r="1.35" fill="#21908C"/>
<circle cx="134.4" cy="383.3" r="1.35" fill="#21908C"/>
<circle cx="132.0" cy="355.9" r="1.35" fill="#21908C"/>
<circle cx="140.4" cy="360.0" r="1.35" fill="#21908C"/>
<circle cx="135.5" cy="384.9" r="1.35" fill="#21908C"/>
<circle cx="139.9" cy="390.0" r="1.35" fill="#21908C"/>
<circle cx="139.5" cy="377.6" r="1.35" fill="#21908C"/>
<circle cx="132.6" cy="367.5" r="1.35" fill="#21908C"/>
<circle cx="139.6" cy="366.6" r="1.35" fill="#21908C"/>
<circle cx="139.8" cy="372.3" r="1.35" fill="#21908C"/>
<circle cx="132.4" cy="359.0" r="1.35" fill="#21908C"/>
<circle cx="135.3" cy="364.1" r="1.35" fill="#21908C"/>
<circle cx="139.5" cy="375.1" r="1.35" fill="#21908C"/>
<circle cx="139.0" cy="348.6" r="1.35" fill="#21908C"/>
<circle cx="130.7" cy="398.1" r="1.35" fill="#21908C"/>
<circle cx="141.1" cy="388.3" r="1.35" fill="#21908C"/>
<circle cx="144.0" cy="377.1" r="1.35" fill="#21908C"/>
<circle cx="139.9" cy="391.5" r="1.35" fill="#21908C"/>
<circle cx="130.4" cy="378.4" r="1.35" fill="#21908C"/>
<circle cx="132.3" cy="357.2" r="1.35" fill="#21908C"/>
<circle cx="136.0" cy="365.7" r="1.35" fill="#21908C"/>
<circle cx="135.0" cy="380.1" r="1.35" fill="#21908C"/>
<circle cx="131.4" cy="386.9" r="1.35" fill="#21908C"/>
<circle cx="143.8" cy="376.3" r="1.35" fill="#21908C"/>
<circle cx="132.3" cy="354.5" r="1.35" fill="#21908C"/>
<circle cx="137.4" cy="371.1" r="1.35" fill="#21908C"/>
<circle cx="141.5" cy="392.9" r="1.35" fill="#21908C"/>
<circle cx="135.1" cy="336.7" r="1.35" fill="#21908C"/>
<circle cx="133.2" cy="352.9" r="1.35" fill="#21908C"/>
<circle cx="135.2" cy="395.3" r="1.35" fill="#21908C"/>
<circle cx="139.4" cy="368.3" r="1.35" fill="#21908C"/>
<circle cx="131.0" cy="392.3" r="1.35" fill="#21908C"/>
<circle cx="131.0" cy="382.4" r="1.35" fill="#21908C"/>
<circle cx="137.0" cy="366.3" r="1.35" fill="#21908C"/>
<circle cx="132.5" cy="362.0" r="1.35" fill="#21908C"/>
<circle cx="134.8" cy="362.5" r="1.35" fill="#21908C"/>
<circle cx="129.9" cy="341.6" r="1.35" fill="#21908C"/>
<circle cx="138.9" cy="368.7" r="1.35" fill="#21908C"/>
<circle cx="138.5" cy="384.2" r="1.35" fill="#21908C"/>
<circle cx="131.4" cy="406.6" r="1.35" fill="#21908C"/>
<circle cx="133.3" cy="403.4" r="1.35" fill="#21908C"/>
<circle cx="130.9" cy="359.6" r="1.35" fill="#21908C"/>
<circle cx="140.5" cy="394.4" r="1.35" fill="#21908C"/>
<circle cx="139.0" cy="360.5" r="1.35" fill="#21908C"/>
<circle cx="131.8" cy="363.7" r="1.35" fill="#21908C"/>
<circle cx="134.7" cy="390.9" r="1.35" fill="#21908C"/>
<circle cx="143.1" cy="373.2" r="1.35" fill="#21908C"/>
<circle cx="139.1" cy="370.3" r="1.35" fill="#21908C"/>
<circle cx="165.2" cy="383.9" r="1.35" fill="#FDE725"/>
<circle cx="177.2" cy="374.8" r="1.35" fill="#FDE725"/>
<circle cx="164.0" cy="381.8" r="1.35" fill="#FDE725"/>
<circle cx="164.0" cy="411.8" r="1.35" fill="#FDE725"/>
<circle cx="167.5" cy="389.6" r="1.35" fill="#FDE725"/>
<circle cx="173.4" cy="386.7" r="1.35" fill="#FDE725"/>
<circle cx="173.2" cy="368.1" r="1.35" fill="#FDE725"/>
<circle cx="173.8" cy="396.4" r="1.35" fill="#FDE725"/>
<circle cx="167.1" cy="359.8" r="1.35" fill="#FDE725"/>
<circle cx="170.9" cy="385.5" r="1.35" fill="#FDE725"/>
<circle cx="172.8" cy="395.4" r="1.35" fill="#FDE725"/>
<circle cx="171.4" cy="362.1" r="1.35" fill="#FDE725"/>
<circle cx="171.9" cy="409.9" r="1.35" fill="#FDE725"/>
<circle cx="166.0" cy="404.5" r="1.35" fill="#FDE725"/>
<circle cx="177.5" cy="370.4" r="1.35" fill="#FDE725"/>
<circle cx="171.9" cy="380.4" r="1.35" fill="#FDE725"/>
<circle cx="167.9" cy="356.2" r="1.35" fill="#FDE725"/>
<circle cx="174.1" cy="343.9" r="1.35" fill="#FDE725"/>
<circle cx="164.5" cy="372.4" r="1.35" fill="#FDE725"/>
<circle cx="177.1" cy="385.9" r="1.35" fill="#FDE725"/>
<circle cx="176.9" cy="392.1" r="1.35" fill="#FDE725"/>
<circle cx="177.5" cy="394.3" r="1.35" fill="#FDE725"/>
<circle cx="164.7" cy="362.0" r="1.35" fill="#FDE725"/>
<circle cx="171.6" cy="376.3" r="1.35" fill="#FDE725"/>
<circle cx="165.5" cy="413.8" r="1.35" fill="#FDE725"/>
<circle cx="168.8" cy="352.7" r="1.35" fill="#FDE725"/>
<circle cx="175.2" cy="387.3" r="1.35" fill="#FDE725"/>
<circle cx="175.7" cy="345.0" r="1.35" fill="#FDE725"/>
<circle cx="165.3" cy="388.9" r="1.35" fill="#FDE725"/>
<circle cx="166.3" cy="382.4" r="1.35" fill="#FDE725"/>
<circle cx="169.5" cy="377.4" r="1.35" fill="#FDE725"/>
<circle cx="168.8" cy="390.0" r="1.35" fill="#FDE725"/>
<circle cx="168.7" cy="399.5" r="1.35" fill="#FDE725"/>
<circle cx="170.8" cy="364.3" r="1.35" fill="#FDE725"/>
<circle cx="167.3" cy="403.5" r="1.35" fill="#FDE725"/>
<circle cx="167.5" cy="384.8" r="1.35" fill="#FDE725"/>
<circle cx="173.6" cy="371.8" r="1.35" fill="#FDE725"/>
<circle cx="175.3" cy="365.8" r="1.35" fill="#FDE725"/>
<rect x="117.15" y="317.60" width="73.60" height="129.00" fill="none" stroke="#404040" stroke-width="1.2"/>
<rect x="199.80" y="317.60" width="73.60" height="129.00" fill="#fff"/>
<line x1="199.80" x2="273.40" y1="322.65" y2="322.65" stroke="#ebebeb" stroke-width="0.7"/>
<line x1="199.80" x2="273.40" y1="356.55" y2="356.55" stroke="#ebebeb" stroke-width="0.7"/>
<line x1="199.80" x2="273.40" y1="390.45" y2="390.45" stroke="#ebebeb" stroke-width="0.7"/>
<line x1="199.80" x2="273.40" y1="424.35" y2="424.35" stroke="#ebebeb" stroke-width="0.7"/>
<line x1="199.80" x2="273.40" y1="339.60" y2="339.60" stroke="#e1e1e1" stroke-width="1.2"/>
<line x1="199.80" x2="273.40" y1="373.50" y2="373.50" stroke="#e1e1e1" stroke-width="1.2"/>
<line x1="199.80" x2="273.40" y1="407.40" y2="407.40" stroke="#e1e1e1" stroke-width="1.2"/>
<line x1="199.80" x2="273.40" y1="441.30" y2="441.30" stroke="#e1e1e1" stroke-width="1.2"/>
<line x1="219.87" x2="219.87" y1="343.00" y2="365.30" stroke="#000" stroke-width="1.6"/>
<line x1="219.87" x2="219.87" y1="382.00" y2="406.00" stroke="#000" stroke-width="1.6"/>
<rect x="207.33" y="365.30" width="25.09" height="16.70" fill="#fff" stroke="#000" stroke-width="1.6"/>
<line x1="207.33" x2="232.42" y1="371.30" y2="371.30" stroke="#000" stroke-width="3.1"/>
<line x1="253.33" x2="253.33" y1="330.90" y2="363.80" stroke="#000" stroke-width="1.6"/>
<line x1="253.33" x2="253.33" y1="386.40" y2="416.70" stroke="#000" stroke-width="1.6"/>
<rect x="240.78" y="363.80" width="25.09" height="22.60" fill="#fff" stroke="#000" stroke-width="1.6"/>
<line x1="240.78" x2="265.87" y1="373.40" y2="373.40" stroke="#000" stroke-width="3.1"/>
<circle cx="214.4" cy="365.6" r="1.35" fill="#21908C"/>
<circle cx="214.1" cy="367.5" r="1.35" fill="#21908C"/>
<circle cx="218.9" cy="385.6" r="1.35" fill="#21908C"/>
<circle cx="213.6" cy="386.7" r="1.35" fill="#21908C"/>
<circle cx="224.9" cy="398.0" r="1.35" fill="#21908C"/>
<circle cx="215.5" cy="370.6" r="1.35" fill="#21908C"/>
<circle cx="219.1" cy="388.3" r="1.35" fill="#21908C"/>
<circle cx="213.9" cy="370.0" r="1.35" fill="#21908C"/>
<circle cx="223.9" cy="371.5" r="1.35" fill="#21908C"/>
<circle cx="220.7" cy="383.8" r="1.35" fill="#21908C"/>
<circle cx="222.9" cy="371.1" r="1.35" fill="#21908C"/>
<circle cx="224.6" cy="367.3" r="1.35" fill="#21908C"/>
<circle cx="216.6" cy="343.0" r="1.35" fill="#21908C"/>
<circle cx="220.7" cy="380.4" r="1.35" fill="#21908C"/>
<circle cx="219.5" cy="389.0" r="1.35" fill="#21908C"/>
<circle cx="224.4" cy="392.1" r="1.35" fill="#21908C"/>
<circle cx="214.2" cy="407.2" r="1.35" fill="#21908C"/>
<circle cx="215.6" cy="363.1" r="1.35" fill="#21908C"/>
<circle cx="215.8" cy="382.6" r="1.35" fill="#21908C"/>
<circle cx="216.7" cy="373.1" r="1.35" fill="#21908C"/>
<circle cx="217.9" cy="403.0" r="1.35" fill="#21908C"/>
<circle cx="216.5" cy="363.9" r="1.35" fill="#21908C"/>
<circle cx="224.0" cy="371.6" r="1.35" fill="#21908C"/>
<circle cx="220.5" cy="391.2" r="1.35" fill="#21908C"/>
<circle cx="219.1" cy="381.1" r="1.35" fill="#21908C"/>
<circle cx="224.4" cy="373.9" r="1.35" fill="#21908C"/>
<circle cx="220.2" cy="362.0" r="1.35" fill="#21908C"/>
<circle cx="223.4" cy="349.1" r="1.35" fill="#21908C"/>
<circle cx="214.8" cy="374.9" r="1.35" fill="#21908C"/>
<circle cx="215.3" cy="355.9" r="1.35" fill="#21908C"/>
<circle cx="221.6" cy="368.2" r="1.35" fill="#21908C"/>
<circle cx="216.0" cy="377.6" r="1.35" fill="#21908C"/>
<circle cx="221.5" cy="384.9" r="1.35" fill="#21908C"/>
<circle cx="216.1" cy="363.5" r="1.35" fill="#21908C"/>
<circle cx="214.0" cy="353.3" r="1.35" fill="#21908C"/>
<circle cx="217.2" cy="378.8" r="1.35" fill="#21908C"/>
<circle cx="222.1" cy="366.5" r="1.35" fill="#21908C"/>
<circle cx="223.2" cy="360.4" r="1.35" fill="#21908C"/>
<circle cx="220.3" cy="382.3" r="1.35" fill="#21908C"/>
<circle cx="224.4" cy="373.3" r="1.35" fill="#21908C"/>
<circle cx="220.4" cy="365.9" r="1.35" fill="#21908C"/>
<circle cx="226.6" cy="359.5" r="1.35" fill="#21908C"/>
<circle cx="224.1" cy="377.1" r="1.35" fill="#21908C"/>
<circle cx="222.7" cy="365.2" r="1.35" fill="#21908C"/>
<circle cx="222.4" cy="368.5" r="1.35" fill="#21908C"/>
<circle cx="215.6" cy="367.8" r="1.35" fill="#21908C"/>
<circle cx="218.0" cy="366.2" r="1.35" fill="#21908C"/>
<circle cx="221.1" cy="359.0" r="1.35" fill="#21908C"/>
<circle cx="218.9" cy="375.6" r="1.35" fill="#21908C"/>
<circle cx="222.0" cy="406.0" r="1.35" fill="#21908C"/>
<circle cx="225.0" cy="390.3" r="1.35" fill="#21908C"/>
<circle cx="216.3" cy="364.6" r="1.35" fill="#21908C"/>
<circle cx="213.5" cy="361.5" r="1.35" fill="#21908C"/>
<circle cx="213.5" cy="366.9" r="1.35" fill="#21908C"/>
<circle cx="214.7" cy="385.3" r="1.35" fill="#21908C"/>
<circle cx="213.8" cy="369.5" r="1.35" fill="#21908C"/>
<circle cx="223.9" cy="361.2" r="1.35" fill="#21908C"/>
<circle cx="214.7" cy="383.4" r="1.35" fill="#21908C"/>
<circle cx="216.6" cy="376.8" r="1.35" fill="#21908C"/>
<circle cx="225.0" cy="378.2" r="1.35" fill="#21908C"/>
<circle cx="219.3" cy="401.2" r="1.35" fill="#21908C"/>
<circle cx="225.8" cy="356.7" r="1.35" fill="#21908C"/>
<circle cx="220.7" cy="369.3" r="1.35" fill="#21908C"/>
<circle cx="214.6" cy="387.2" r="1.35" fill="#21908C"/>
<circle cx="222.4" cy="395.1" r="1.35" fill="#21908C"/>
<circle cx="216.5" cy="408.0" r="1.35" fill="#21908C"/>
<circle cx="216.0" cy="372.2" r="1.35" fill="#21908C"/>
<circle cx="219.4" cy="410.0" r="1.35" fill="#21908C"/>
<circle cx="219.1" cy="354.8" r="1.35" fill="#21908C"/>
<circle cx="224.7" cy="379.7" r="1.35" fill="#21908C"/>
<circle cx="217.9" cy="342.4" r="1.35" fill="#21908C"/>
<circle cx="219.0" cy="374.3" r="1.35" fill="#21908C"/>
<circle cx="220.1" cy="357.4" r="1.35" fill="#21908C"/>
<circle cx="216.5" cy="393.1" r="1.35" fill="#21908C"/>
<circle cx="222.1" cy="370.4" r="1.35" fill="#21908C"/>
<circle cx="214.1" cy="350.6" r="1.35" fill="#21908C"/>
<circle cx="225.5" cy="376.0" r="1.35" fill="#21908C"/>
<circle cx="225.3" cy="369.8" r="1.35" fill="#21908C"/>
<circle cx="223.8" cy="381.8" r="1.35" fill="#21908C"/>
<circle cx="214.3" cy="368.8" r="1.35" fill="#21908C"/>
<circle cx="250.9" cy="355.2" r="1.35" fill="#FDE725"/>
<circle cx="252.6" cy="382.5" r="1.35" fill="#FDE725"/>
<circle cx="260.0" cy="372.1" r="1.35" fill="#FDE725"/>
<circle cx="253.5" cy="372.5" r="1.35" fill="#FDE725"/>
<circle cx="255.6" cy="381.3" r="1.35" fill="#FDE725"/>
<circle cx="255.3" cy="390.4" r="1.35" fill="#FDE725"/>
<circle cx="247.7" cy="369.3" r="1.35" fill="#FDE725"/>
<circle cx="252.7" cy="384.1" r="1.35" fill="#FDE725"/>
<circle cx="251.5" cy="410.7" r="1.35" fill="#FDE725"/>
<circle cx="254.9" cy="375.0" r="1.35" fill="#FDE725"/>
<circle cx="252.9" cy="388.0" r="1.35" fill="#FDE725"/>
<circle cx="253.8" cy="378.0" r="1.35" fill="#FDE725"/>
<circle cx="249.4" cy="369.5" r="1.35" fill="#FDE725"/>
<circle cx="257.4" cy="362.9" r="1.35" fill="#FDE725"/>
<circle cx="249.3" cy="374.0" r="1.35" fill="#FDE725"/>
<circle cx="254.0" cy="393.5" r="1.35" fill="#FDE725"/>
<circle cx="249.8" cy="362.1" r="1.35" fill="#FDE725"/>
<circle cx="253.1" cy="394.4" r="1.35" fill="#FDE725"/>
<circle cx="251.1" cy="379.6" r="1.35" fill="#FDE725"/>
<circle cx="255.8" cy="397.2" r="1.35" fill="#FDE725"/>
<circle cx="253.4" cy="371.1" r="1.35" fill="#FDE725"/>
<circle cx="249.5" cy="330.6" r="1.35" fill="#FDE725"/>
<circle cx="250.0" cy="367.7" r="1.35" fill="#FDE725"/>
<circle cx="246.8" cy="385.7" r="1.35" fill="#FDE725"/>
<circle cx="248.1" cy="358.1" r="1.35" fill="#FDE725"/>
<circle cx="252.0" cy="380.7" r="1.35" fill="#FDE725"/>
<circle cx="251.0" cy="378.5" r="1.35" fill="#FDE725"/>
<circle cx="252.5" cy="368.6" r="1.35" fill="#FDE725"/>
<circle cx="255.0" cy="341.5" r="1.35" fill="#FDE725"/>
<circle cx="254.9" cy="391.2" r="1.35" fill="#FDE725"/>
<circle cx="256.1" cy="371.5" r="1.35" fill="#FDE725"/>
<circle cx="251.4" cy="374.7" r="1.35" fill="#FDE725"/>
<circle cx="247.7" cy="369.8" r="1.35" fill="#FDE725"/>
<circle cx="249.7" cy="361.6" r="1.35" fill="#FDE725"/>
<circle cx="248.3" cy="396.2" r="1.35" fill="#FDE725"/>
<circle cx="247.2" cy="365.3" r="1.35" fill="#FDE725"/>
<circle cx="250.1" cy="364.0" r="1.35" fill="#FDE725"/>
<circle cx="247.9" cy="332.7" r="1.35" fill="#FDE725"/>
<circle cx="250.7" cy="358.7" r="1.35" fill="#FDE725"/>
<circle cx="249.2" cy="350.4" r="1.35" fill="#FDE725"/>
<circle cx="250.9" cy="355.7" r="1.35" fill="#FDE725"/>
<circle cx="259.6" cy="376.2" r="1.35" fill="#FDE725"/>
<circle cx="249.6" cy="383.0" r="1.35" fill="#FDE725"/>
<circle cx="253.5" cy="392.2" r="1.35" fill="#FDE725"/>
<circle cx="248.9" cy="416.7" r="1.35" fill="#FDE725"/>
<circle cx="257.5" cy="367.3" r="1.35" fill="#FDE725"/>
<circle cx="251.6" cy="385.0" r="1.35" fill="#FDE725"/>
<circle cx="259.8" cy="416.1" r="1.35" fill="#FDE725"/>
<circle cx="246.7" cy="344.4" r="1.35" fill="#FDE725"/>
<circle cx="250.3" cy="375.9" r="1.35" fill="#FDE725"/>
<circle cx="257.2" cy="366.3" r="1.35" fill="#FDE725"/>
<circle cx="248.0" cy="377.1" r="1.35" fill="#FDE725"/>
<circle cx="249.6" cy="365.6" r="1.35" fill="#FDE725"/>
<circle cx="248.0" cy="360.8" r="1.35" fill="#FDE725"/>
<circle cx="251.4" cy="359.7" r="1.35" fill="#FDE725"/>
<circle cx="248.8" cy="388.6" r="1.35" fill="#FDE725"/>
<circle cx="251.6" cy="362.6" r="1.35" fill="#FDE725"/>
<circle cx="257.8" cy="337.0" r="1.35" fill="#FDE725"/>
<circle cx="254.9" cy="399.1" r="1.35" fill="#FDE725"/>
<circle cx="259.6" cy="380.0" r="1.35" fill="#FDE725"/>
<circle cx="259.7" cy="386.2" r="1.35" fill="#FDE725"/>
<circle cx="255.8" cy="387.3" r="1.35" fill="#FDE725"/>
<circle cx="254.5" cy="353.5" r="1.35" fill="#FDE725"/>
<circle cx="256.0" cy="389.8" r="1.35" fill="#FDE725"/>
<circle cx="251.5" cy="370.4" r="1.35" fill="#FDE725"/>
<circle cx="254.2" cy="406.7" r="1.35" fill="#FDE725"/>
<circle cx="254.9" cy="349.1" r="1.35" fill="#FDE725"/>
<circle cx="252.5" cy="402.3" r="1.35" fill="#FDE725"/>
<circle cx="254.0" cy="367.0" r="1.35" fill="#FDE725"/>
<circle cx="254.7" cy="357.3" r="1.35" fill="#FDE725"/>
<circle cx="251.6" cy="373.1" r="1.35" fill="#FDE725"/>
<circle cx="253.0" cy="364.6" r="1.35" fill="#FDE725"/>
<circle cx="254.3" cy="401.4" r="1.35" fill="#FDE725"/>
<circle cx="259.0" cy="353.0" r="1.35" fill="#FDE725"/>
<rect x="199.80" y="317.60" width="73.60" height="129.00" fill="none" stroke="#404040" stroke-width="1.2"/>
<rect x="282.45" y="317.60" width="73.60" height="129.00" fill="#fff"/>
<line x1="282.45" x2="356.05" y1="322.65" y2="322.65" stroke="#ebebeb" stroke-width="0.7"/>
<line x1="282.45" x2="356.05" y1="356.55" y2="356.55" stroke="#ebebeb" stroke-width="0.7"/>
<line x1="282.45" x2="356.05" y1="390.45" y2="390.45" stroke="#ebebeb" stroke-width="0.7"/>
<line x1="282.45" x2="356.05" y1="424.35" y2="424.35" stroke="#ebebeb" stroke-width="0.7"/>
<line x1="282.45" x2="356.05" y1="339.60" y2="339.60" stroke="#e1e1e1" stroke-width="1.2"/>
<line x1="282.45" x2="356.05" y1="373.50" y2="373.50" stroke="#e1e1e1" stroke-width="1.2"/>
<line x1="282.45" x2="356.05" y1="407.40" y2="407.40" stroke="#e1e1e1" stroke-width="1.2"/>
<line x1="282.45" x2="356.05" y1="441.30" y2="441.30" stroke="#e1e1e1" stroke-width="1.2"/>
<line x1="302.52" x2="302.52" y1="329.10" y2="361.80" stroke="#000" stroke-width="1.6"/>
<line x1="302.52" x2="302.52" y1="384.90" y2="413.80" stroke="#000" stroke-width="1.6"/>
<rect x="289.98" y="361.80" width="25.09" height="23.10" fill="#fff" stroke="#000" stroke-width="1.6"/>
<line x1="289.98" x2="315.07" y1="371.90" y2="371.90" stroke="#000" stroke-width="3.1"/>
<line x1="335.98" x2="335.98" y1="337.20" y2="367.00" stroke="#000" stroke-width="1.6"/>
<line x1="335.98" x2="335.98" y1="392.70" y2="428.30" stroke="#000" stroke-width="1.6"/>
<rect x="323.43" y="367.00" width="25.09" height="25.70" fill="#fff" stroke="#000" stroke-width="1.6"/>
<line x1="323.43" x2="348.52" y1="377.70" y2="377.70" stroke="#000" stroke-width="3.1"/>
<circle cx="305.3" cy="357.0" r="1.35" fill="#21908C"/>
<circle cx="303.0" cy="370.7" r="1.35" fill="#21908C"/>
<circle cx="302.6" cy="393.5" r="1.35" fill="#21908C"/>
<circle cx="301.7" cy="329.1" r="1.35" fill="#21908C"/>
<circle cx="297.8" cy="347.7" r="1.35" fill="#21908C"/>
<circle cx="307.2" cy="407.0" r="1.35" fill="#21908C"/>
<circle cx="301.6" cy="360.7" r="1.35" fill="#21908C"/>
<circle cx="297.7" cy="386.9" r="1.35" fill="#21908C"/>
<circle cx="306.2" cy="341.6" r="1.35" fill="#21908C"/>
<circle cx="295.6" cy="367.9" r="1.35" fill="#21908C"/>
<circle cx="307.6" cy="363.2" r="1.35" fill="#21908C"/>
<circle cx="299.3" cy="367.7" r="1.35" fill="#21908C"/>
<circle cx="301.5" cy="348.6" r="1.35" fill="#21908C"/>
<circle cx="308.3" cy="381.7" r="1.35" fill="#21908C"/>
<circle cx="306.9" cy="376.1" r="1.35" fill="#21908C"/>
<circle cx="299.7" cy="381.3" r="1.35" fill="#21908C"/>
<circle cx="298.3" cy="436.1" r="1.35" fill="#21908C"/>
<circle cx="308.2" cy="346.1" r="1.35" fill="#21908C"/>
<circle cx="305.8" cy="382.5" r="1.35" fill="#21908C"/>
<circle cx="300.5" cy="370.0" r="1.35" fill="#21908C"/>
<circle cx="306.5" cy="389.9" r="1.35" fill="#21908C"/>
<circle cx="301.2" cy="391.5" r="1.35" fill="#21908C"/>
<circle cx="305.1" cy="374.5" r="1.35" fill="#21908C"/>
<circle cx="300.0" cy="360.4" r="1.35" fill="#21908C"/>
<circle cx="297.2" cy="383.1" r="1.35" fill="#21908C"/>
<circle cx="301.6" cy="376.7" r="1.35" fill="#21908C"/>
<circle cx="301.0" cy="370.3" r="1.35" fill="#21908C"/>
<circle cx="306.9" cy="391.9" r="1.35" fill="#21908C"/>
<circle cx="297.7" cy="387.8" r="1.35" fill="#21908C"/>
<circle cx="297.0" cy="391.0" r="1.35" fill="#21908C"/>
<circle cx="295.9" cy="388.7" r="1.35" fill="#21908C"/>
<circle cx="303.4" cy="356.3" r="1.35" fill="#21908C"/>
<circle cx="303.5" cy="366.6" r="1.35" fill="#21908C"/>
<circle cx="299.2" cy="386.4" r="1.35" fill="#21908C"/>
<circle cx="299.6" cy="395.6" r="1.35" fill="#21908C"/>
<circle cx="297.1" cy="383.8" r="1.35" fill="#21908C"/>
<circle cx="302.9" cy="371.9" r="1.35" fill="#21908C"/>
<circle cx="299.1" cy="351.1" r="1.35" fill="#21908C"/>
<circle cx="304.1" cy="382.1" r="1.35" fill="#21908C"/>
<circle cx="305.4" cy="343.7" r="1.35" fill="#21908C"/>
<circle cx="307.2" cy="353.9" r="1.35" fill="#21908C"/>
<circle cx="302.6" cy="374.4" r="1.35" fill="#21908C"/>
<circle cx="302.3" cy="338.6" r="1.35" fill="#21908C"/>
<circle cx="304.0" cy="395.2" r="1.35" fill="#21908C"/>
<circle cx="299.7" cy="377.6" r="1.35" fill="#21908C"/>
<circle cx="304.9" cy="357.1" r="1.35" fill="#21908C"/>
<circle cx="296.3" cy="378.8" r="1.35" fill="#21908C"/>
<circle cx="309.0" cy="349.0" r="1.35" fill="#21908C"/>
<circle cx="302.3" cy="383.3" r="1.35" fill="#21908C"/>
<circle cx="308.5" cy="377.0" r="1.35" fill="#21908C"/>
<circle cx="303.4" cy="399.3" r="1.35" fill="#21908C"/>
<circle cx="304.5" cy="380.5" r="1.35" fill="#21908C"/>
<circle cx="303.7" cy="386.1" r="1.35" fill="#21908C"/>
<circle cx="297.0" cy="363.8" r="1.35" fill="#21908C"/>
<circle cx="305.0" cy="371.7" r="1.35" fill="#21908C"/>
<circle cx="307.5" cy="332.3" r="1.35" fill="#21908C"/>
<circle cx="297.5" cy="355.8" r="1.35" fill="#21908C"/>
<circle cx="306.8" cy="365.3" r="1.35" fill="#21908C"/>
<circle cx="304.1" cy="389.1" r="1.35" fill="#21908C"/>
<circle cx="303.9" cy="387.5" r="1.35" fill="#21908C"/>
<circle cx="306.7" cy="366.5" r="1.35" fill="#21908C"/>
<circle cx="297.8" cy="365.9" r="1.35" fill="#21908C"/>
<circle cx="295.4" cy="338.7" r="1.35" fill="#21908C"/>
<circle cx="307.3" cy="359.2" r="1.35" fill="#21908C"/>
<circle cx="301.9" cy="369.6" r="1.35" fill="#21908C"/>
<circle cx="299.9" cy="397.8" r="1.35" fill="#21908C"/>
<circle cx="298.7" cy="368.4" r="1.35" fill="#21908C"/>
<circle cx="298.8" cy="378.6" r="1.35" fill="#21908C"/>
<circle cx="306.1" cy="421.0" r="1.35" fill="#21908C"/>
<circle cx="297.2" cy="369.3" r="1.35" fill="#21908C"/>
<circle cx="308.1" cy="374.0" r="1.35" fill="#21908C"/>
<circle cx="306.8" cy="371.3" r="1.35" fill="#21908C"/>
<circle cx="302.1" cy="358.3" r="1.35" fill="#21908C"/>
<circle cx="300.4" cy="352.3" r="1.35" fill="#21908C"/>
<circle cx="300.3" cy="329.1" r="1.35" fill="#21908C"/>
<circle cx="303.1" cy="400.6" r="1.35" fill="#21908C"/>
<circle cx="306.1" cy="329.0" r="1.35" fill="#21908C"/>
<circle cx="303.3" cy="385.6" r="1.35" fill="#21908C"/>
<circle cx="307.7" cy="368.5" r="1.35" fill="#21908C"/>
<circle cx="305.5" cy="359.0" r="1.35" fill="#21908C"/>
<circle cx="302.2" cy="384.6" r="1.35" fill="#21908C"/>
<circle cx="297.0" cy="362.6" r="1.35" fill="#21908C"/>
<circle cx="298.3" cy="367.1" r="1.35" fill="#21908C"/>
<circle cx="309.0" cy="357.6" r="1.35" fill="#21908C"/>
<circle cx="300.8" cy="385.3" r="1.35" fill="#21908C"/>
<circle cx="299.8" cy="401.6" r="1.35" fill="#21908C"/>
<circle cx="302.0" cy="336.8" r="1.35" fill="#21908C"/>
<circle cx="299.2" cy="375.2" r="1.35" fill="#21908C"/>
<circle cx="306.8" cy="354.4" r="1.35" fill="#21908C"/>
<circle cx="303.5" cy="404.9" r="1.35" fill="#21908C"/>
<circle cx="299.6" cy="413.8" r="1.35" fill="#21908C"/>
<circle cx="299.8" cy="355.3" r="1.35" fill="#21908C"/>
<circle cx="298.0" cy="359.6" r="1.35" fill="#21908C"/>
<circle cx="305.6" cy="378.1" r="1.35" fill="#21908C"/>
<circle cx="304.5" cy="362.2" r="1.35" fill="#21908C"/>
<circle cx="301.4" cy="370.9" r="1.35" fill="#21908C"/>
<circle cx="295.9" cy="369.8" r="1.35" fill="#21908C"/>
<circle cx="307.2" cy="361.6" r="1.35" fill="#21908C"/>
<circle cx="304.0" cy="387.1" r="1.35" fill="#21908C"/>
<circle cx="301.0" cy="377.2" r="1.35" fill="#21908C"/>
<circle cx="305.0" cy="413.8" r="1.35" fill="#21908C"/>
<circle cx="300.6" cy="392.7" r="1.35" fill="#21908C"/>
<circle cx="306.0" cy="368.9" r="1.35" fill="#21908C"/>
<circle cx="303.7" cy="361.8" r="1.35" fill="#21908C"/>
<circle cx="306.9" cy="394.6" r="1.35" fill="#21908C"/>
<circle cx="308.6" cy="364.8" r="1.35" fill="#21908C"/>
<circle cx="300.9" cy="384.5" r="1.35" fill="#21908C"/>
<circle cx="307.4" cy="364.0" r="1.35" fill="#21908C"/>
<circle cx="308.1" cy="372.8" r="1.35" fill="#21908C"/>
<circle cx="301.7" cy="390.5" r="1.35" fill="#21908C"/>
<circle cx="297.2" cy="402.2" r="1.35" fill="#21908C"/>
<circle cx="300.4" cy="365.0" r="1.35" fill="#21908C"/>
<circle cx="299.5" cy="352.9" r="1.35" fill="#21908C"/>
<circle cx="299.2" cy="367.2" r="1.35" fill="#21908C"/>
<circle cx="297.0" cy="361.0" r="1.35" fill="#21908C"/>
<circle cx="299.1" cy="366.0" r="1.35" fill="#21908C"/>
<circle cx="299.4" cy="372.4" r="1.35" fill="#21908C"/>
<circle cx="298.6" cy="373.3" r="1.35" fill="#21908C"/>
<circle cx="307.2" cy="388.3" r="1.35" fill="#21908C"/>
<circle cx="308.1" cy="351.8" r="1.35" fill="#21908C"/>
<circle cx="308.7" cy="349.9" r="1.35" fill="#21908C"/>
<circle cx="298.5" cy="373.2" r="1.35" fill="#21908C"/>
<circle cx="306.6" cy="379.8" r="1.35" fill="#21908C"/>
<circle cx="296.2" cy="379.3" r="1.35" fill="#21908C"/>
<circle cx="307.9" cy="363.3" r="1.35" fill="#21908C"/>
<circle cx="301.6" cy="375.2" r="1.35" fill="#21908C"/>
<circle cx="304.3" cy="364.6" r="1.35" fill="#21908C"/>
<circle cx="297.9" cy="380.4" r="1.35" fill="#21908C"/>
<circle cx="301.7" cy="397.3" r="1.35" fill="#21908C"/>
<circle cx="297.8" cy="375.8" r="1.35" fill="#21908C"/>
<circle cx="297.8" cy="344.6" r="1.35" fill="#21908C"/>
<circle cx="296.8" cy="393.3" r="1.35" fill="#21908C"/>
<circle cx="333.6" cy="363.8" r="1.35" fill="#FDE725"/>
<circle cx="331.0" cy="368.4" r="1.35" fill="#FDE725"/>
<circle cx="334.3" cy="343.0" r="1.35" fill="#FDE725"/>
<circle cx="338.7" cy="427.7" r="1.35" fill="#FDE725"/>
<circle cx="335.3" cy="370.8" r="1.35" fill="#FDE725"/>
<circle cx="337.4" cy="391.7" r="1.35" fill="#FDE725"/>
<circle cx="341.8" cy="381.0" r="1.35" fill="#FDE725"/>
<circle cx="334.3" cy="390.3" r="1.35" fill="#FDE725"/>
<circle cx="333.0" cy="354.9" r="1.35" fill="#FDE725"/>
<circle cx="332.5" cy="393.6" r="1.35" fill="#FDE725"/>
<circle cx="336.9" cy="384.3" r="1.35" fill="#FDE725"/>
<circle cx="341.4" cy="381.8" r="1.35" fill="#FDE725"/>
<circle cx="329.8" cy="374.8" r="1.35" fill="#FDE725"/>
<circle cx="331.5" cy="370.7" r="1.35" fill="#FDE725"/>
<circle cx="336.7" cy="385.6" r="1.35" fill="#FDE725"/>
<circle cx="333.6" cy="411.6" r="1.35" fill="#FDE725"/>
<circle cx="329.5" cy="385.4" r="1.35" fill="#FDE725"/>
<circle cx="336.1" cy="373.6" r="1.35" fill="#FDE725"/>
<circle cx="329.5" cy="389.5" r="1.35" fill="#FDE725"/>
<circle cx="329.2" cy="374.5" r="1.35" fill="#FDE725"/>
<circle cx="339.7" cy="408.3" r="1.35" fill="#FDE725"/>
<circle cx="338.8" cy="390.9" r="1.35" fill="#FDE725"/>
<circle cx="342.8" cy="369.6" r="1.35" fill="#FDE725"/>
<circle cx="329.3" cy="376.3" r="1.35" fill="#FDE725"/>
<circle cx="337.6" cy="367.2" r="1.35" fill="#FDE725"/>
<circle cx="337.2" cy="372.5" r="1.35" fill="#FDE725"/>
<circle cx="340.1" cy="390.0" r="1.35" fill="#FDE725"/>
<circle cx="337.0" cy="382.0" r="1.35" fill="#FDE725"/>
<circle cx="334.2" cy="364.4" r="1.35" fill="#FDE725"/>
<circle cx="333.7" cy="369.0" r="1.35" fill="#FDE725"/>
<circle cx="340.1" cy="401.0" r="1.35" fill="#FDE725"/>
<circle cx="336.4" cy="387.3" r="1.35" fill="#FDE725"/>
<circle cx="342.0" cy="403.5" r="1.35" fill="#FDE725"/>
<circle cx="340.0" cy="369.8" r="1.35" fill="#FDE725"/>
<circle cx="341.0" cy="428.3" r="1.35" fill="#FDE725"/>
<circle cx="338.3" cy="380.8" r="1.35" fill="#FDE725"/>
<circle cx="335.7" cy="386.7" r="1.35" fill="#FDE725"/>
<circle cx="333.2" cy="382.5" r="1.35" fill="#FDE725"/>
<circle cx="331.2" cy="399.0" r="1.35" fill="#FDE725"/>
<circle cx="337.3" cy="379.0" r="1.35" fill="#FDE725"/>
<circle cx="336.9" cy="384.8" r="1.35" fill="#FDE725"/>
<circle cx="332.7" cy="376.6" r="1.35" fill="#FDE725"/>
<circle cx="329.4" cy="351.5" r="1.35" fill="#FDE725"/>
<circle cx="331.1" cy="402.1" r="1.35" fill="#FDE725"/>
<circle cx="342.7" cy="379.8" r="1.35" fill="#FDE725"/>
<circle cx="336.6" cy="425.7" r="1.35" fill="#FDE725"/>
<circle cx="337.6" cy="383.2" r="1.35" fill="#FDE725"/>
<circle cx="342.2" cy="371.6" r="1.35" fill="#FDE725"/>
<circle cx="341.0" cy="405.2" r="1.35" fill="#FDE725"/>
<circle cx="329.7" cy="380.3" r="1.35" fill="#FDE725"/>
<circle cx="333.5" cy="367.0" r="1.35" fill="#FDE725"/>
<circle cx="330.0" cy="398.8" r="1.35" fill="#FDE725"/>
<circle cx="335.4" cy="366.4" r="1.35" fill="#FDE725"/>
<circle cx="342.0" cy="395.6" r="1.35" fill="#FDE725"/>
<circle cx="336.0" cy="354.3" r="1.35" fill="#FDE725"/>
<circle cx="341.5" cy="337.2" r="1.35" fill="#FDE725"/>
<circle cx="342.4" cy="386.3" r="1.35" fill="#FDE725"/>
<circle cx="336.6" cy="397.8" r="1.35" fill="#FDE725"/>
<circle cx="337.2" cy="392.1" r="1.35" fill="#FDE725"/>
<circle cx="339.8" cy="362.2" r="1.35" fill="#FDE725"/>
<circle cx="332.2" cy="351.1" r="1.35" fill="#FDE725"/>
<circle cx="341.9" cy="365.2" r="1.35" fill="#FDE725"/>
<circle cx="332.8" cy="395.8" r="1.35" fill="#FDE725"/>
<circle cx="329.9" cy="389.0" r="1.35" fill="#FDE725"/>
<circle cx="337.5" cy="373.8" r="1.35" fill="#FDE725"/>
<circle cx="342.1" cy="387.8" r="1.35" fill="#FDE725"/>
<circle cx="335.8" cy="434.6" r="1.35" fill="#FDE725"/>
<circle cx="330.0" cy="377.0" r="1.35" fill="#FDE725"/>
<circle cx="332.5" cy="367.9" r="1.35" fill="#FDE725"/>
<circle cx="330.4" cy="407.2" r="1.35" fill="#FDE725"/>
<circle cx="333.3" cy="372.7" r="1.35" fill="#FDE725"/>
<circle cx="340.6" cy="375.2" r="1.35" fill="#FDE725"/>
<circle cx="329.1" cy="348.4" r="1.35" fill="#FDE725"/>
<circle cx="340.3" cy="359.8" r="1.35" fill="#FDE725"/>
<circle cx="334.7" cy="377.7" r="1.35" fill="#FDE725"/>
<circle cx="337.2" cy="376.1" r="1.35" fill="#FDE725"/>
<circle cx="338.9" cy="352.6" r="1.35" fill="#FDE725"/>
<circle cx="339.2" cy="378.0" r="1.35" fill="#FDE725"/>
<circle cx="340.8" cy="417.8" r="1.35" fill="#FDE725"/>
<circle cx="334.6" cy="360.9" r="1.35" fill="#FDE725"/>
<circle cx="341.3" cy="357.3" r="1.35" fill="#FDE725"/>
<circle cx="338.5" cy="414.2" r="1.35" fill="#FDE725"/>
<circle cx="336.8" cy="394.7" r="1.35" fill="#FDE725"/>
<circle cx="340.4" cy="403.2" r="1.35" fill="#FDE725"/>
<circle cx="334.2" cy="356.5" r="1.35" fill="#FDE725"/>
<circle cx="339.8" cy="366.2" r="1.35" fill="#FDE725"/>
<circle cx="342.0" cy="396.6" r="1.35" fill="#FDE725"/>
<circle cx="333.7" cy="364.5" r="1.35" fill="#FDE725"/>
<circle cx="342.4" cy="375.7" r="1.35" fill="#FDE725"/>
<circle cx="334.5" cy="373.1" r="1.35" fill="#FDE725"/>
<circle cx="340.8" cy="357.4" r="1.35" fill="#FDE725"/>
<circle cx="338.7" cy="359.4" r="1.35" fill="#FDE725"/>
<circle cx="334.3" cy="377.4" r="1.35" fill="#FDE725"/>
<circle cx="340.3" cy="363.4" r="1.35" fill="#FDE725"/>
<circle cx="336.6" cy="383.5" r="1.35" fill="#FDE725"/>
<circle cx="337.3" cy="378.8" r="1.35" fill="#FDE725"/>
<circle cx="340.6" cy="409.5" r="1.35" fill="#FDE725"/>
<circle cx="331.5" cy="370.2" r="1.35" fill="#FDE725"/>
<circle cx="340.7" cy="397.0" r="1.35" fill="#FDE725"/>
<circle cx="338.9" cy="358.1" r="1.35" fill="#FDE725"/>
<circle cx="340.8" cy="372.0" r="1.35" fill="#FDE725"/>
<circle cx="332.2" cy="405.0" r="1.35" fill="#FDE725"/>
<circle cx="329.2" cy="337.2" r="1.35" fill="#FDE725"/>
<circle cx="333.3" cy="399.6" r="1.35" fill="#FDE725"/>
<circle cx="335.7" cy="371.1" r="1.35" fill="#FDE725"/>
<circle cx="337.1" cy="400.7" r="1.35" fill="#FDE725"/>
<circle cx="338.2" cy="365.7" r="1.35" fill="#FDE725"/>
<circle cx="336.5" cy="360.2" r="1.35" fill="#FDE725"/>
<circle cx="339.8" cy="393.1" r="1.35" fill="#FDE725"/>
<circle cx="341.0" cy="345.1" r="1.35" fill="#FDE725"/>
<circle cx="340.2" cy="394.3" r="1.35" fill="#FDE725"/>
<circle cx="334.4" cy="393.9" r="1.35" fill="#FDE725"/>
<circle cx="341.4" cy="368.2" r="1.35" fill="#FDE725"/>
<circle cx="337.3" cy="362.8" r="1.35" fill="#FDE725"/>
<circle cx="332.9" cy="421.3" r="1.35" fill="#FDE725"/>
<circle cx="331.9" cy="374.4" r="1.35" fill="#FDE725"/>
<circle cx="341.8" cy="413.2" r="1.35" fill="#FDE725"/>
<circle cx="333.5" cy="388.0" r="1.35" fill="#FDE725"/>
<circle cx="338.9" cy="361.4" r="1.35" fill="#FDE725"/>
<rect x="282.45" y="317.60" width="73.60" height="129.00" fill="none" stroke="#404040" stroke-width="1.2"/>
<text transform="translate(26.8,342.20) rotate(0.03)" font-size="6.25" text-anchor="end" fill="#444">0.1</text>
<text transform="translate(26.8,376.10) rotate(0.03)" font-size="6.25" text-anchor="end" fill="#444">0.0</text>
<text transform="translate(26.8,410.00) rotate(0.03)" font-size="6.25" text-anchor="end" fill="#444">−0.1</text>
<text transform="translate(26.8,443.90) rotate(0.03)" font-size="6.25" text-anchor="end" fill="#444">−0.2</text>
<rect x="356.45" y="317.60" width="18.7" height="129.00" fill="#92C5DE" stroke="#404040" stroke-width="1.2"/>
<text transform="translate(363.95,382.10) rotate(90.03)" font-size="6.2" text-anchor="middle" fill="#111">RASGRP1</text>
<rect x="34.50" y="24.9" width="73.60" height="18.50" fill="#fff" stroke="#404040" stroke-width="1.2"/>
<line x1="33.90" x2="108.70" y1="43.40" y2="43.40" stroke="#333" stroke-width="1.6"/>
<text transform="translate(71.30,36.35) rotate(0.03)" font-size="6.2" text-anchor="middle" fill="#111">CMC–HBCC</text>
<rect x="117.15" y="24.9" width="73.60" height="18.50" fill="#fff" stroke="#404040" stroke-width="1.2"/>
<line x1="116.55" x2="191.35" y1="43.40" y2="43.40" stroke="#333" stroke-width="1.6"/>
<text transform="translate(153.95,36.35) rotate(0.03)" font-size="6.2" text-anchor="middle" fill="#111">CMC–Pitt</text>
<rect x="199.80" y="24.9" width="73.60" height="18.50" fill="#fff" stroke="#404040" stroke-width="1.2"/>
<line x1="199.20" x2="274.00" y1="43.40" y2="43.40" stroke="#333" stroke-width="1.6"/>
<text transform="translate(236.60,36.35) rotate(0.03)" font-size="6.2" text-anchor="middle" fill="#111">GVEX–SMRI</text>
<rect x="282.45" y="24.9" width="73.60" height="18.50" fill="#fff" stroke="#404040" stroke-width="1.2"/>
<line x1="281.85" x2="356.65" y1="43.40" y2="43.40" stroke="#333" stroke-width="1.6"/>
<text transform="translate(319.25,36.35) rotate(0.03)" font-size="6.2" text-anchor="middle" fill="#111">BipSeq–sACC</text>
</svg>
</body></html>
